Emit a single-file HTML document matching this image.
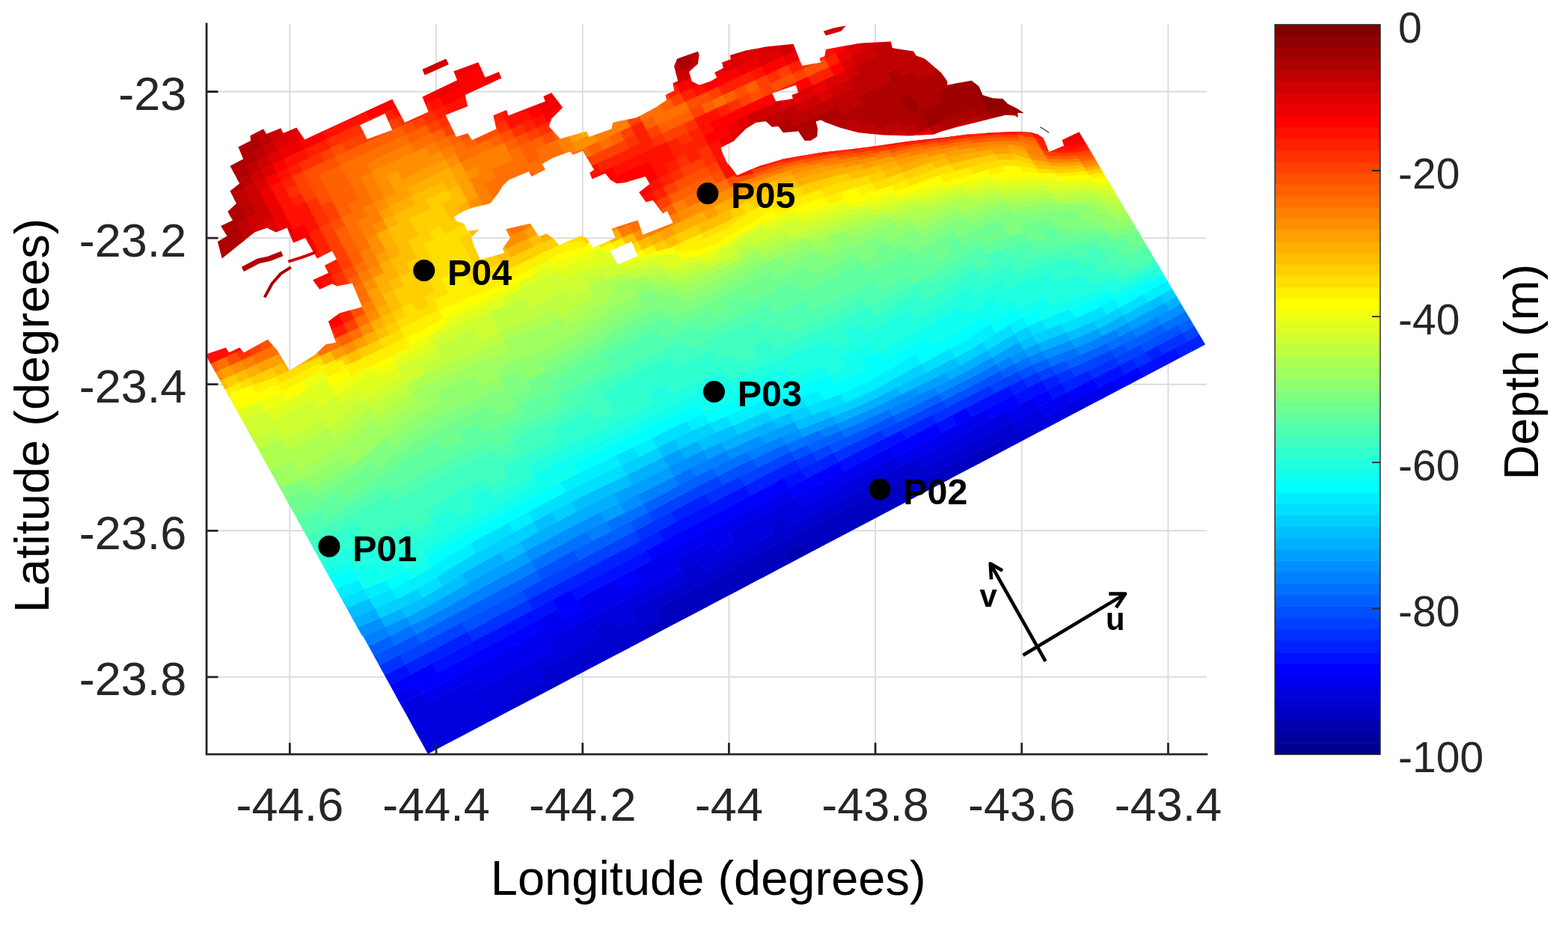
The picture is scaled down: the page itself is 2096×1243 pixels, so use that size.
<!DOCTYPE html>
<html><head><meta charset="utf-8"><title>Bathymetry map</title>
<style>
html,body{margin:0;padding:0;background:#fff;}
body{width:2096px;height:1243px;overflow:hidden;}
svg{display:block;}
text{font-family:"Liberation Sans",sans-serif;}
.tk{font-size:63px;fill:#262626;}
.ck{font-size:57px;fill:#262626;}
.lb{font-size:65px;fill:#000;}
.pt{font-size:48.5px;font-weight:bold;fill:#000;}
.uv{font-size:42px;font-weight:bold;fill:#000;}
</style></head><body>
<svg width="2096" height="1243" viewBox="0 0 2096 1243">
<rect width="2096" height="1243" fill="#fff"/>
<path d="M387.4 32.0V1008.1M583.1 32.0V1008.1M778.8 32.0V1008.1M974.4 32.0V1008.1M1170.1 32.0V1008.1M1365.8 32.0V1008.1M1561.5 32.0V1008.1M276.1 122.5H1613.0M276.1 318.1H1613.0M276.1 513.7H1613.0M276.1 709.3H1613.0M276.1 904.9H1613.0" stroke="#dbdbdb" stroke-width="1.9" fill="none"/>
<defs><clipPath id="wo"><path d="M306.8 526.0L306.8 526.0L312.0 535.5L318.4 547.3L325.5 560.1L332.7 573.2L340.0 586.4L347.2 599.5L354.4 612.7L361.7 625.8L368.9 638.9L376.0 651.8L382.8 664.2L389.3 676.0L395.2 686.8L400.8 696.9L406.3 706.8L411.9 717.0L417.7 727.6L423.9 738.8L430.2 750.2L436.3 761.4L442.7 773.0L449.9 786.0L457.1 799.2L464.3 812.3L471.6 825.4L478.7 838.4L485.7 851.2L492.7 863.8L499.7 876.6L506.8 889.5L514.0 902.6L535.7 942.0L543.0 955.1L550.2 968.3L557.4 981.4L564.7 994.6L571.9 1007.7L571.9 1007.7L571.9 1007.7L600.2 992.8L620.9 981.9L628.2 978.1L632.7 975.7L655.8 963.5L683.1 949.1L710.1 934.9L736.8 920.9L762.4 907.4L763.1 907.0L789.1 893.3L814.9 879.8L840.3 866.4L849.2 861.7L865.4 853.2L890.2 840.1L911.6 828.8L914.7 827.2L938.9 814.4L953.5 806.7L962.8 801.8L986.5 789.4L1009.9 777.1L1033.0 764.9L1051.3 755.3L1055.8 752.9L1061.3 750.0L1078.3 741.0L1100.6 729.3L1122.6 717.7L1144.3 706.3L1165.8 694.9L1187.0 683.8L1208.0 672.7L1228.7 661.8L1249.2 651.0L1269.5 640.4L1272.4 638.8L1289.4 629.8L1292.8 628.1L1309.2 619.4L1328.7 609.2L1338.1 604.2L1348.0 599.0L1367.1 589.0L1378.2 583.1L1385.9 579.0L1404.5 569.2L1422.9 559.6L1441.0 550.0L1459.0 540.6L1474.6 532.4L1476.7 531.2L1484.4 527.2L1494.3 522.0L1511.6 512.9L1528.7 503.9L1545.6 495.0L1562.3 486.2L1578.8 477.5L1595.1 468.9L1611.2 460.4L1611.2 460.4L1611.2 460.4L1442.4 176.4L1442.4 176.4L1442.4 176.4L1426.1 184.2L1419.8 187.3L1419.8 187.3L1419.8 187.3L1422.2 194.5L1422.2 194.6L1422.2 194.6L1422.2 194.6L1422.2 194.6L1422.2 194.7L1422.2 194.7L1422.2 194.7L1422.2 194.8L1422.2 194.8L1422.1 194.8L1422.1 194.8L1422.1 194.9L1422.1 194.9L1422.1 194.9L1422.0 194.9L1413.4 198.5L1402.5 203.0L1402.5 203.1L1402.4 203.1L1402.4 203.1L1402.4 203.1L1402.3 203.1L1402.3 203.1L1402.3 203.1L1402.3 203.0L1402.2 203.0L1402.2 203.0L1402.2 203.0L1402.2 203.0L1402.1 203.0L1402.1 202.9L1402.1 202.9L1402.1 202.9L1397.2 190.6L1397.2 190.6L1393.8 183.9L1393.8 183.9L1393.8 183.9L1387.2 179.7L1387.2 179.7L1387.1 179.7L1379.6 177.6L1377.1 176.9L1377.1 176.9L1377.1 176.9L1360.4 175.9L1360.4 175.9L1357.0 176.0L1335.6 176.9L1326.9 177.2L1326.9 177.2L1314.1 178.2L1293.5 179.7L1293.5 179.7L1260.0 183.9L1260.0 183.9L1250.1 185.0L1228.2 187.4L1214.4 188.9L1214.4 188.9L1206.3 190.1L1184.4 193.2L1162.2 196.4L1155.9 197.3L1155.9 197.3L1139.5 199.2L1116.5 201.8L1097.3 204.0L1097.3 204.0L1093.3 204.7L1070.3 208.5L1047.1 212.4L1047.1 212.4L1047.1 212.4L1047.1 212.4L1047.1 212.4L1047.1 212.4L1025.2 218.9L1013.7 222.4L1013.6 222.4L1003.6 226.7L985.4 234.4L985.4 234.4L985.4 234.4L985.3 234.4L985.3 234.4L985.3 234.4L985.2 234.4L985.2 234.4L985.2 234.4L985.2 234.3L985.1 234.3L985.1 234.3L985.1 234.3L985.1 234.3L978.5 225.7L978.5 225.7L972.1 217.8L972.1 217.8L972.1 217.8L975.3 223.2L979.2 230.0L983.2 236.8L987.0 243.5L991.1 250.6L996.2 259.4L1001.9 269.2L1007.9 279.6L1007.9 279.7L1007.9 279.7L1007.9 279.7L1007.9 279.8L1007.9 279.8L1007.9 279.8L1007.9 279.8L1007.9 279.9L1007.9 279.9L1007.9 279.9L1007.9 280.0L1007.9 280.0L1007.9 280.0L1007.8 280.0L1007.8 280.0L989.0 293.2L989.0 293.2L969.4 305.9L969.3 305.9L948.2 316.7L948.2 316.7L948.2 316.7L924.5 323.5L924.5 323.5L900.2 329.8L900.1 329.8L875.7 336.6L875.7 336.6L852.5 342.0L852.5 342.0L852.5 342.0L852.5 342.0L852.5 342.0L852.5 342.1L852.5 342.1L852.5 342.1L852.5 342.2L852.5 342.2L852.5 342.2L852.5 342.2L852.5 342.3L852.4 342.3L852.4 342.3L852.4 342.3L852.4 342.3L850.8 343.0L827.7 353.1L826.1 353.8L826.1 353.8L826.0 353.8L826.0 353.8L826.0 353.8L826.0 353.8L825.9 353.8L825.9 353.8L825.9 353.8L825.9 353.8L825.8 353.8L825.8 353.8L825.8 353.8L825.8 353.7L825.7 353.7L825.7 353.7L816.0 337.3L816.0 337.2L816.0 337.2L789.2 336.7L789.1 336.7L789.1 336.7L789.1 336.7L789.1 336.6L789.0 336.6L789.0 336.6L789.0 336.6L789.0 336.6L789.0 336.6L788.9 336.5L788.9 336.5L784.7 329.1L780.4 321.5L780.4 321.5L780.3 321.5L753.1 325.6L753.1 325.6L753.1 325.6L753.1 325.6L753.1 325.6L729.0 335.8L729.0 335.8L729.0 335.8L729.0 335.8L705.5 347.7L705.5 347.7L681.8 360.0L681.8 360.0L657.3 370.8L657.2 370.8L657.2 370.8L657.2 370.8L657.2 370.8L657.1 370.8L657.1 370.8L657.1 370.8L657.0 370.8L657.0 370.8L657.0 370.7L657.0 370.7L656.9 370.7L656.9 370.7L656.9 370.7L656.9 370.6L649.9 358.3L649.9 358.3L649.9 358.3L623.8 367.5L623.8 367.5L597.5 377.0L597.5 377.0L597.5 377.0L604.7 389.8L604.7 389.8L604.7 389.8L604.7 389.9L604.7 389.9L604.7 389.9L604.7 390.0L604.7 390.0L604.7 390.0L604.7 390.0L604.7 390.1L604.7 390.1L604.6 390.1L604.6 390.1L604.6 390.2L604.6 390.2L604.6 390.2L604.5 390.2L579.1 401.2L579.0 401.2L579.0 401.2L586.2 414.0L586.2 414.0L586.2 414.0L586.2 414.1L586.2 414.1L586.2 414.1L586.2 414.2L586.2 414.2L586.2 414.2L586.2 414.2L586.2 414.3L586.2 414.3L586.2 414.3L586.2 414.3L586.1 414.4L586.1 414.4L586.1 414.4L586.1 414.4L560.9 426.6L560.8 426.6L535.6 440.2L535.6 440.2L535.6 440.2L542.3 452.2L542.4 452.2L542.4 452.2L542.4 452.3L542.4 452.3L542.4 452.3L542.4 452.3L542.4 452.4L542.4 452.4L542.4 452.4L542.3 452.5L542.3 452.5L542.3 452.5L542.3 452.5L542.3 452.6L542.2 452.6L542.2 452.6L516.5 465.4L516.5 465.4L489.8 477.8L489.8 477.8L463.3 490.6L463.3 490.6L463.3 490.6L463.2 490.6L463.2 490.6L463.2 490.6L463.1 490.6L463.1 490.6L463.1 490.6L463.1 490.6L463.0 490.6L463.0 490.6L463.0 490.6L463.0 490.5L462.9 490.5L462.9 490.5L457.3 480.3L457.3 480.3L457.2 480.3L430.7 493.8L430.7 493.8L430.6 493.8L430.6 493.8L430.6 493.8L430.6 493.8L430.5 493.8L430.5 493.8L430.5 493.8L430.4 493.8L430.4 493.7L430.4 493.7L430.4 493.7L430.3 493.7L430.3 493.7L430.3 493.7L430.3 493.6L425.7 485.4L425.7 485.4L425.7 485.4L398.9 499.7L398.9 499.7L371.4 513.0L371.4 513.1L371.4 513.1L371.4 513.1L371.3 513.1L371.3 513.1L371.3 513.1L371.2 513.1L371.2 513.1L371.2 513.0L371.2 513.0L371.1 513.0L371.1 513.0L371.1 513.0L371.1 512.9L371.1 512.9L366.5 504.6L366.5 504.6L366.4 504.6L336.7 515.1L336.7 515.1L306.8 526.0Z" clip-rule="evenodd"/></clipPath><clipPath id="wb"><path d="M1402.2 203.2L1397.2 190.6L1393.8 183.9L1387.2 179.7L1377.1 176.9L1360.4 175.9L1326.9 177.2L1293.5 179.7L1260.0 183.9L1214.4 188.9L1155.9 197.3L1097.3 204.0L1047.1 212.4L1013.7 222.4L985.2 234.4L978.5 225.7L971.8 217.4L966.8 207.3L963.5 197.3L980.2 188.9L988.6 180.6L996.9 172.2L1010.3 163.8L1023.7 162.2L1032.1 169.7L1040.4 168.9L1047.1 177.2L1067.2 175.6L1070.5 180.6L1075.6 188.1L1083.9 188.1L1092.3 182.2L1093.1 172.2L1090.6 162.2L1097.3 160.5L1104.0 163.8L1122.4 170.5L1147.5 177.2L1181.0 180.6L1214.4 181.4L1247.9 179.7L1260.0 175.2L1276.7 170.5L1310.2 162.2L1343.7 153.8L1357.0 154.6L1360.4 157.2L1360.4 150.8L1368.7 151.3L1360.4 145.4L1347.0 138.7L1340.3 132.1L1326.9 131.2L1313.5 127.0L1308.5 115.3L1298.5 107.8L1280.0 111.1L1266.3 113.7L1266.3 108.6L1257.9 96.9L1247.9 88.6L1236.2 78.5L1224.5 74.3L1221.1 68.5L1192.7 64.3L1191.0 55.4L1152.5 57.6L1130.8 61.0L1104.0 66.0L1102.3 75.2L1095.6 77.7L1097.3 83.5L1072.2 87.7L1068.9 80.2L1060.5 58.8L1023.7 62.6L996.9 67.6L976.0 73.8L976.8 79.4L965.1 83.5L966.8 91.1L955.1 96.9L958.4 103.6L950.0 108.6L934.6 113.7L924.6 108.6L921.2 96.1L932.9 85.2L934.6 73.5L932.9 68.8L905.3 78.5L901.1 88.6L906.2 108.6L899.5 111.1L901.1 121.2L889.4 127.0L891.1 133.7L876.1 143.8L851.0 157.2L819.2 163.8L817.5 172.2L787.4 183.1L784.0 175.6L748.9 185.6L733.8 168.9L737.2 158.8L752.2 143.8L737.2 124.0L726.3 128.7L728.8 135.4L679.5 154.6L677.0 147.1L659.4 154.6L663.6 172.2L631.0 187.3L625.1 178.1L610.0 183.1L595.5 153.8L625.1 142.1L621.7 127.0L670.3 104.5L666.9 96.1L648.5 103.6L639.3 83.2L606.3 95.2L611.3 107.0L564.5 129.5L572.8 149.6L541.0 163.8L524.3 132.4L407.2 186.4L396.3 170.5L378.7 178.1L375.4 171.4L356.2 178.9L352.0 172.2L334.4 181.4L335.2 188.1L318.5 196.5L325.2 212.4L307.6 221.7L320.2 245.2L307.6 255.2L316.0 271.9L304.3 282.8L311.0 294.5L295.1 302.1L303.5 315.4L290.9 323.0L296.8 345.6L340.3 310.4L357.0 304.6L368.7 310.4L383.8 304.6L392.1 324.6L408.0 317.9L423.9 345.6L444.0 335.5L449.9 346.4L434.0 354.8L439.0 364.8L418.1 374.2L427.3 386.7L444.0 379.2L450.7 382.5L470.8 378.4L484.1 410.2L454.0 418.5L439.0 429.4L449.0 457.8L435.6 460.3L420.6 474.6L387.1 495.5L370.4 467.9L357.8 453.7L326.0 471.2L320.2 464.5L306.0 471.2L301.8 464.5L277.5 472.9L276.1 473.8L276.1 476.5L571.9 1007.7L1611.2 460.4L1442.4 176.4L1419.8 187.3L1422.3 194.8ZM680.3 240.2L707.1 229.3L710.4 236.0L728.8 226.8L724.6 219.2L738.9 210.9L762.3 202.5L765.6 206.7L779.0 201.7L794.1 226.8L788.2 231.0L791.6 239.3L809.1 231.8L815.8 240.2L824.2 245.2L834.2 244.3L862.7 236.0L868.5 246.0L854.3 256.9L863.5 270.3L872.7 267.8L886.1 285.3L891.9 282.0L899.5 297.9L859.3 313.8L852.6 294.5L817.5 305.4L822.5 317.9L792.4 331.3L784.0 317.9L775.7 315.4L747.2 328.0L740.5 319.6L730.5 312.1L720.5 316.3L715.4 308.7L708.7 298.7L676.1 306.2L682.0 317.9L671.9 332.2L674.5 338.0L641.8 347.2L633.5 328.8L630.1 317.1L640.2 307.1L625.1 308.7L620.1 298.7L610.0 295.4L606.7 290.3L620.1 282.0L633.5 277.0L655.2 271.9L666.9 256.9L671.9 248.5ZM844.3 323.0L852.6 342.2L825.9 353.9L815.0 335.5ZM1059.7 132.1L1037.1 135.4L1032.1 124.5L1063.8 113.7L1067.2 123.7L1058.8 127.0ZM490.8 185.9L481.1 167.2L514.6 151.8L524.3 173.9ZM336.8 515.5L336.8 515.5L366.3 505.1L370.7 513.1L370.7 513.1L370.7 513.2L370.8 513.2L370.8 513.2L370.8 513.2L370.8 513.3L370.8 513.3L370.9 513.3L370.9 513.3L370.9 513.4L371.0 513.4L371.0 513.4L371.0 513.4L371.1 513.4L371.1 513.4L371.1 513.4L371.2 513.5L371.2 513.5L371.2 513.5L371.3 513.5L371.3 513.5L371.3 513.5L371.4 513.5L371.4 513.5L371.4 513.5L371.5 513.5L371.5 513.4L371.5 513.4L371.6 513.4L371.6 513.4L371.6 513.4L399.1 500.0L399.1 500.0L399.1 500.0L399.1 500.0L425.6 485.9L429.9 493.8L430.0 493.8L430.0 493.9L430.0 493.9L430.0 493.9L430.0 493.9L430.1 494.0L430.1 494.0L430.1 494.0L430.1 494.0L430.2 494.1L430.2 494.1L430.2 494.1L430.2 494.1L430.3 494.1L430.3 494.1L430.3 494.1L430.4 494.2L430.4 494.2L430.4 494.2L430.5 494.2L430.5 494.2L430.5 494.2L430.6 494.2L430.6 494.2L430.6 494.2L430.7 494.2L430.7 494.2L430.7 494.2L430.8 494.2L430.8 494.1L430.8 494.1L430.9 494.1L430.9 494.1L457.1 480.8L462.6 490.7L462.6 490.7L462.6 490.7L462.6 490.8L462.6 490.8L462.7 490.8L462.7 490.8L462.7 490.9L462.7 490.9L462.8 490.9L462.8 490.9L462.8 491.0L462.9 491.0L462.9 491.0L462.9 491.0L463.0 491.0L463.0 491.0L463.0 491.0L463.1 491.0L463.1 491.0L463.1 491.0L463.2 491.0L463.2 491.0L463.2 491.0L463.3 491.0L463.3 491.0L463.3 491.0L463.4 491.0L463.4 491.0L463.4 491.0L463.5 491.0L463.5 491.0L490.0 478.2L490.0 478.2L516.7 465.8L516.7 465.7L516.7 465.7L516.7 465.7L542.4 452.9L542.4 452.9L542.4 452.9L542.5 452.9L542.5 452.9L542.5 452.9L542.5 452.8L542.6 452.8L542.6 452.8L542.6 452.8L542.6 452.7L542.7 452.7L542.7 452.7L542.7 452.6L542.7 452.6L542.7 452.6L542.7 452.5L542.8 452.5L542.8 452.5L542.8 452.4L542.8 452.4L542.8 452.4L542.8 452.3L542.8 452.3L542.8 452.3L542.8 452.2L542.8 452.2L542.8 452.2L542.7 452.1L542.7 452.1L542.7 452.1L542.7 452.0L542.7 452.0L542.7 452.0L536.2 440.3L561.0 427.0L561.0 427.0L586.3 414.8L586.3 414.8L586.3 414.7L586.3 414.7L586.4 414.7L586.4 414.7L586.4 414.7L586.4 414.6L586.5 414.6L586.5 414.6L586.5 414.6L586.5 414.5L586.5 414.5L586.6 414.5L586.6 414.5L586.6 414.4L586.6 414.4L586.6 414.4L586.6 414.3L586.6 414.3L586.6 414.3L586.6 414.2L586.6 414.2L586.6 414.2L586.6 414.1L586.6 414.1L586.6 414.1L586.6 414.0L586.6 414.0L586.6 414.0L586.6 413.9L586.6 413.9L586.6 413.9L586.6 413.8L586.6 413.8L586.6 413.8L579.6 401.4L604.7 390.6L604.7 390.6L604.7 390.6L604.8 390.5L604.8 390.5L604.8 390.5L604.8 390.5L604.9 390.5L604.9 390.4L604.9 390.4L604.9 390.4L605.0 390.4L605.0 390.3L605.0 390.3L605.0 390.3L605.0 390.2L605.0 390.2L605.1 390.2L605.1 390.1L605.1 390.1L605.1 390.1L605.1 390.0L605.1 390.0L605.1 390.0L605.1 389.9L605.1 389.9L605.1 389.9L605.1 389.8L605.1 389.8L605.1 389.8L605.1 389.7L605.1 389.7L605.1 389.7L605.0 389.6L605.0 389.6L605.0 389.6L598.1 377.2L623.9 367.9L623.9 367.9L649.8 358.8L656.5 370.8L656.5 370.8L656.6 370.9L656.6 370.9L656.6 370.9L656.6 371.0L656.6 371.0L656.7 371.0L656.7 371.0L656.7 371.0L656.8 371.1L656.8 371.1L656.8 371.1L656.8 371.1L656.9 371.1L656.9 371.1L656.9 371.2L657.0 371.2L657.0 371.2L657.0 371.2L657.1 371.2L657.1 371.2L657.1 371.2L657.2 371.2L657.2 371.2L657.2 371.2L657.3 371.2L657.3 371.2L657.3 371.2L657.4 371.1L657.4 371.1L657.4 371.1L682.0 360.4L682.0 360.3L682.0 360.3L682.0 360.3L705.7 348.0L705.7 348.0L729.2 336.2L753.2 326.0L780.1 321.9L784.3 329.2L788.6 336.7L788.6 336.7L788.6 336.8L788.6 336.8L788.6 336.8L788.7 336.8L788.7 336.9L788.7 336.9L788.7 336.9L788.8 336.9L788.8 336.9L788.8 337.0L788.8 337.0L788.9 337.0L788.9 337.0L788.9 337.0L789.0 337.0L789.0 337.0L789.0 337.0L789.1 337.1L789.1 337.1L789.1 337.1L789.1 337.1L789.2 337.1L815.8 337.6L825.4 353.9L825.4 353.9L825.4 353.9L825.4 354.0L825.4 354.0L825.5 354.0L825.5 354.0L825.5 354.1L825.5 354.1L825.6 354.1L825.6 354.1L825.6 354.1L825.7 354.2L825.7 354.2L825.7 354.2L825.8 354.2L825.8 354.2L825.8 354.2L825.8 354.2L825.9 354.2L825.9 354.2L826.0 354.2L826.0 354.2L826.0 354.2L826.0 354.2L826.1 354.2L826.1 354.2L826.2 354.2L826.2 354.2L826.2 354.2L826.2 354.2L826.3 354.2L827.8 353.5L851.0 343.4L852.5 342.7L852.5 342.7L852.6 342.7L852.6 342.7L852.6 342.6L852.7 342.6L852.7 342.6L852.7 342.6L852.7 342.5L852.8 342.5L852.8 342.5L852.8 342.5L852.8 342.4L852.8 342.4L852.9 342.4L852.9 342.3L852.9 342.3L875.8 336.9L875.8 336.9L875.8 336.9L875.8 336.9L900.3 330.2L900.3 330.2L924.6 323.9L924.6 323.9L924.6 323.9L924.6 323.9L948.3 317.1L948.3 317.1L948.3 317.1L948.4 317.0L948.4 317.0L948.4 317.0L969.5 306.3L969.5 306.3L969.6 306.3L969.6 306.2L989.3 293.6L989.3 293.6L989.3 293.6L989.3 293.5L1008.0 280.4L1008.1 280.4L1008.1 280.3L1008.1 280.3L1008.1 280.3L1008.2 280.3L1008.2 280.2L1008.2 280.2L1008.2 280.2L1008.2 280.2L1008.3 280.1L1008.3 280.1L1008.3 280.1L1008.3 280.0L1008.3 280.0L1008.3 280.0L1008.3 279.9L1008.3 279.9L1008.3 279.9L1008.3 279.8L1008.3 279.8L1008.3 279.8L1008.3 279.7L1008.3 279.7L1008.3 279.7L1008.3 279.6L1008.3 279.6L1008.3 279.6L1008.3 279.5L1008.3 279.5L1008.2 279.5L1008.2 279.4L1002.2 269.0L996.5 259.2L991.5 250.4L987.4 243.3L983.5 236.6L979.6 229.8L975.6 223.0L975.1 222.2L978.2 226.0L984.8 234.5L984.8 234.5L984.8 234.5L984.8 234.6L984.8 234.6L984.9 234.6L984.9 234.6L984.9 234.7L984.9 234.7L985.0 234.7L985.0 234.7L985.0 234.7L985.1 234.7L985.1 234.8L985.1 234.8L985.2 234.8L985.2 234.8L985.3 234.8L985.3 234.8L985.3 234.8L985.4 234.8L985.4 234.8L985.4 234.8L985.5 234.8L985.5 234.8L985.5 234.7L985.6 234.7L985.6 234.7L1003.8 227.0L1013.8 222.8L1025.3 219.3L1047.2 212.8L1070.4 208.9L1093.3 205.1L1097.4 204.4L1116.5 202.2L1139.6 199.6L1155.9 197.7L1155.9 197.7L1155.9 197.7L1155.9 197.7L1162.3 196.8L1184.5 193.6L1206.4 190.5L1214.5 189.3L1228.3 187.8L1250.1 185.4L1260.0 184.3L1260.0 184.3L1260.0 184.3L1260.1 184.3L1293.5 180.1L1314.2 178.6L1326.9 177.6L1335.6 177.3L1357.0 176.4L1360.4 176.3L1377.0 177.3L1379.5 178.0L1387.0 180.1L1393.5 184.2L1396.8 190.8L1401.7 203.0L1401.7 203.0L1401.7 203.1L1401.8 203.1L1401.8 203.1L1401.8 203.2L1401.8 203.2L1401.8 203.2L1401.9 203.2L1401.9 203.3L1401.9 203.3L1401.9 203.3L1402.0 203.3L1402.0 203.4L1402.0 203.4L1402.1 203.4L1402.1 203.4L1402.1 203.4L1402.1 203.4L1402.2 203.4L1402.2 203.4L1402.3 203.5L1402.3 203.5L1402.3 203.5L1402.4 203.5L1402.4 203.5L1402.4 203.5L1402.5 203.5L1402.5 203.5L1402.5 203.4L1402.6 203.4L1402.6 203.4L1402.6 203.4L1402.6 203.4L1413.6 198.9L1422.2 195.3L1422.2 195.3L1422.2 195.2L1422.3 195.2L1422.3 195.2L1422.3 195.2L1422.3 195.2L1422.4 195.1L1422.4 195.1L1422.4 195.1L1422.4 195.1L1422.5 195.0L1422.5 195.0L1422.5 195.0L1422.5 195.0L1422.5 194.9L1422.6 194.9L1422.6 194.9L1422.6 194.8L1422.6 194.8L1422.6 194.8L1422.6 194.7L1422.6 194.7L1422.6 194.7L1422.6 194.6L1422.6 194.6L1422.6 194.6L1422.6 194.5L1422.6 194.5L1422.6 194.5L1422.6 194.4L1422.6 194.4L1420.3 187.5L1426.3 184.6L1442.2 176.9L1610.6 460.2L1594.9 468.5L1578.6 477.1L1562.1 485.8L1545.4 494.6L1528.5 503.5L1511.4 512.5L1494.1 521.6L1484.3 526.8L1476.5 530.9L1474.4 532.0L1458.8 540.2L1440.9 549.6L1422.7 559.2L1404.3 568.9L1385.7 578.7L1378.0 582.7L1366.9 588.6L1347.8 598.6L1337.9 603.8L1328.5 608.8L1309.0 619.1L1292.6 627.7L1289.3 629.5L1272.2 638.4L1269.3 640.0L1249.0 650.7L1228.6 661.5L1207.8 672.4L1186.9 683.4L1165.6 694.6L1144.1 705.9L1122.4 717.4L1100.4 728.9L1078.1 740.7L1061.1 749.6L1055.6 752.5L1051.1 754.9L1032.8 764.6L1009.7 776.7L986.3 789.0L962.7 801.5L953.3 806.4L938.7 814.1L914.5 826.8L911.4 828.5L890.0 839.7L865.2 852.8L849.0 861.3L840.1 866.0L814.7 879.4L788.9 892.9L762.9 906.7L762.3 907.0L736.6 920.5L709.9 934.6L682.9 948.8L655.6 963.2L632.5 975.3L628.0 977.7L620.7 981.6L600.0 992.4L572.1 1007.2L565.0 994.4L557.8 981.2L550.6 968.1L543.3 954.9L536.1 941.8L514.4 902.4L507.2 889.3L500.1 876.4L493.1 863.7L486.1 851.0L479.1 838.2L471.9 825.2L464.7 812.1L457.5 799.0L450.2 785.9L443.1 772.8L436.6 761.2L430.5 750.0L424.3 738.6L418.1 727.5L412.2 716.8L406.6 706.6L401.2 696.7L395.6 686.6L389.7 675.8L383.1 664.0L376.3 651.6L369.3 638.7L362.0 625.6L354.8 612.5L347.6 599.3L340.3 586.2L333.1 573.0L325.9 559.9L318.8 547.1L312.3 535.3L307.3 526.2Z" clip-rule="evenodd"/></clipPath></defs>
<g clip-path="url(#wb)" stroke-width="0.7" stroke-linejoin="miter">
<path fill="#008fff" stroke="#008fff" d="M482.1 850.9L496.7 844.2L490.6 832.7L476.0 839.4Z"/>
<path fill="#009fff" stroke="#009fff" d="M476.0 839.4L490.6 832.7L484.5 821.3L469.9 828.0Z"/>
<path fill="#00afff" stroke="#00afff" d="M469.9 828.0L484.5 821.3L478.4 809.8L463.8 816.5Z"/>
<path fill="#00cfff" stroke="#00cfff" d="M463.8 816.5L478.4 809.8L472.3 798.3L457.7 805.0Z"/>
<path fill="#00dfff" stroke="#00dfff" d="M457.7 805.0L472.3 798.3L466.2 786.8L451.6 793.5Z"/>
<path fill="#00efff" stroke="#00efff" d="M437.1 800.2L466.2 786.8L460.0 775.3L431.0 788.8Z"/>
<path fill="#00ffff" stroke="#00ffff" d="M431.0 788.8L460.0 775.3L453.9 763.9L424.9 777.3Z"/>
<path fill="#10ffef" stroke="#10ffef" d="M424.9 777.3L453.9 763.9L447.8 752.4L418.8 765.8Z"/>
<path fill="#20ffdf" stroke="#20ffdf" d="M418.8 765.8L447.8 752.4L441.7 740.9L412.7 754.3Z"/>
<path fill="#30ffcf" stroke="#30ffcf" d="M1542.4 361.0L1557.0 354.3L1550.8 342.8L1536.3 349.5ZM412.7 754.3L441.7 740.9L435.6 729.4L406.6 742.9ZM406.6 742.9L435.6 729.4L429.5 718.0L400.5 731.4Z"/>
<path fill="#40ffbf" stroke="#40ffbf" d="M400.5 731.4L429.5 718.0L423.4 706.5L394.4 719.9Z"/>
<path fill="#50ffaf" stroke="#50ffaf" d="M1536.3 349.5L1550.8 342.8L1544.7 331.3L1530.2 338.1ZM394.4 719.9L423.4 706.5L417.3 695.0L388.3 708.4ZM388.3 708.4L402.8 701.7L396.7 690.2L382.2 696.9Z"/>
<path fill="#60ff9f" stroke="#60ff9f" d="M1530.2 338.1L1544.7 331.3L1538.6 319.9L1524.1 326.6ZM402.8 701.7L417.3 695.0L411.2 683.5L396.7 690.2ZM382.2 696.9L396.7 690.2L390.6 678.8L376.1 685.5Z"/>
<path fill="#70ff8f" stroke="#70ff8f" d="M1524.1 326.6L1538.6 319.9L1532.5 308.4L1518.0 315.1ZM396.7 690.2L411.2 683.5L405.1 672.0L390.6 678.8ZM376.1 685.5L405.1 672.0L399.0 660.6L370.0 674.0Z"/>
<path fill="#80ff80" stroke="#80ff80" d="M1518.0 315.1L1532.5 308.4L1526.4 296.9L1511.9 303.6ZM370.0 674.0L399.0 660.6L392.9 649.1L363.9 662.5ZM363.9 662.5L378.4 655.8L372.3 644.3L357.8 651.0Z"/>
<path fill="#8fff70" stroke="#8fff70" d="M378.4 655.8L392.9 649.1L386.8 637.6L372.3 644.3ZM357.8 651.0L372.3 644.3L366.2 632.8L351.7 639.6Z"/>
<path fill="#9fff60" stroke="#9fff60" d="M1511.9 303.6L1526.4 296.9L1520.3 285.4L1505.8 292.1ZM372.3 644.3L386.8 637.6L380.7 626.1L366.2 632.8ZM351.7 639.6L380.7 626.1L374.6 614.6L345.6 628.1Z"/>
<path fill="#afff50" stroke="#afff50" d="M1505.8 292.1L1520.3 285.4L1514.2 273.9L1499.7 280.7ZM345.6 628.1L374.6 614.6L368.5 603.2L339.5 616.6ZM339.5 616.6L368.5 603.2L362.4 591.7L333.3 605.1Z"/>
<path fill="#bfff40" stroke="#bfff40" d="M1499.7 280.7L1514.2 273.9L1508.1 262.5L1493.6 269.2ZM333.3 605.1L362.4 591.7L356.3 580.2L327.2 593.6ZM327.2 593.6L356.3 580.2L350.2 568.7L321.1 582.2Z"/>
<path fill="#cfff30" stroke="#cfff30" d="M1493.6 269.2L1508.1 262.5L1502.0 251.0L1487.5 257.7ZM821.1 365.5L835.6 358.7L829.5 347.3L815.0 354.0ZM321.1 582.2L335.7 575.4L329.6 564.0L315.0 570.7Z"/>
<path fill="#dfff20" stroke="#dfff20" d="M835.6 358.7L850.1 352.0L844.0 340.6L829.5 347.3ZM815.0 354.0L829.5 347.3L823.4 335.8L808.9 342.5ZM315.0 570.7L329.6 564.0L323.5 552.5L308.9 559.2ZM779.8 355.9L808.9 342.5L802.8 331.0L773.7 344.4Z"/>
<path fill="#efff10" stroke="#efff10" d="M1487.5 257.7L1502.0 251.0L1495.9 239.5L1481.4 246.2ZM885.3 350.1L899.8 343.4L893.7 331.9L879.2 338.6ZM308.9 559.2L323.5 552.5L317.4 541.0L302.8 547.7ZM302.8 547.7L317.4 541.0L311.3 529.5L296.7 536.2Z"/>
<path fill="#ffff00" stroke="#ffff00" d="M899.8 343.4L914.3 336.7L908.2 325.2L893.7 331.9ZM850.1 352.0L864.7 345.3L858.5 333.8L844.0 340.6ZM460.3 503.6L474.8 496.9L468.7 485.4L454.2 492.1ZM532.9 470.0L562.0 456.6L555.9 445.1L526.8 458.5ZM808.9 342.5L823.4 335.8L817.3 324.3L802.8 331.0ZM425.1 505.5L439.7 498.8L433.6 487.3L419.0 494.0ZM773.7 344.4L802.8 331.0L796.7 319.5L767.6 333.0Z"/>
<path fill="#ffef00" stroke="#ffef00" d="M914.3 336.7L943.4 323.2L937.3 311.8L908.2 325.2ZM1001.5 296.4L1016.0 289.7L1009.9 278.2L995.4 284.9ZM864.7 345.3L879.2 338.6L873.1 327.1L858.5 333.8ZM474.8 496.9L532.9 470.0L526.8 458.5L468.7 485.4ZM823.4 335.8L837.9 329.1L831.8 317.6L817.3 324.3ZM439.7 498.8L454.2 492.1L448.1 480.6L433.6 487.3ZM541.3 451.8L570.4 438.4L564.3 426.9L535.2 440.3ZM346.4 527.6L375.5 514.2L369.4 502.7L340.3 516.1ZM651.4 386.7L753.1 339.7L747.0 328.2L645.3 375.2ZM296.7 536.2L325.8 522.8L319.7 511.3L290.6 524.8ZM601.7 395.3L616.3 388.6L610.2 377.1L595.6 383.8ZM595.6 383.8L610.2 377.1L604.1 365.6L589.5 372.4Z"/>
<path fill="#ffdf00" stroke="#ffdf00" d="M1481.4 246.2L1495.9 239.5L1489.8 228.0L1475.3 234.7ZM1460.8 241.5L1475.3 234.7L1469.2 223.3L1454.7 230.0ZM943.4 323.2L1001.5 296.4L995.4 284.9L937.3 311.8ZM995.4 284.9L1009.9 278.2L1003.8 266.7L989.3 273.4ZM844.0 340.6L858.5 333.8L852.4 322.4L837.9 329.1ZM512.3 465.2L541.3 451.8L535.2 440.3L506.2 453.8ZM802.8 331.0L817.3 324.3L811.2 312.8L796.7 319.5ZM375.5 514.2L433.6 487.3L427.5 475.8L369.4 502.7ZM535.2 440.3L593.3 413.5L587.2 402.0L529.1 428.9ZM753.1 339.7L782.1 326.3L776.0 314.8L747.0 328.2ZM325.8 522.8L340.3 516.1L334.2 504.6L319.7 511.3ZM543.6 422.2L558.2 415.4L552.1 404.0L537.5 410.7ZM572.7 408.7L601.7 395.3L595.6 383.8L566.6 397.3ZM645.3 375.2L674.4 361.8L668.3 350.3L639.2 363.7ZM581.1 390.5L595.6 383.8L589.5 372.4L575.0 379.1ZM610.2 377.1L653.7 357.0L647.6 345.5L604.1 365.6ZM575.0 379.1L633.1 352.2L627.0 340.7L568.9 367.6ZM583.4 360.9L627.0 340.7L620.9 329.3L577.3 349.4ZM577.3 349.4L620.9 329.3L614.8 317.8L571.2 337.9ZM571.2 337.9L629.3 311.1L623.2 299.6L565.1 326.4ZM579.6 319.7L594.2 313.0L588.1 301.5L573.5 308.3Z"/>
<path fill="#ffcf00" stroke="#ffcf00" d="M879.2 338.6L893.7 331.9L887.6 320.4L873.1 327.1ZM908.2 325.2L937.3 311.8L931.2 300.3L902.1 313.7ZM980.8 291.6L995.4 284.9L989.3 273.4L974.7 280.2ZM454.2 492.1L468.7 485.4L462.6 473.9L448.1 480.6ZM483.2 478.7L512.3 465.2L506.2 453.8L477.1 467.2ZM520.7 447.1L535.2 440.3L529.1 428.9L514.6 435.6ZM782.1 326.3L796.7 319.5L790.6 308.1L776.0 314.8ZM340.3 516.1L369.4 502.7L363.2 491.2L334.2 504.6ZM529.1 428.9L543.6 422.2L537.5 410.7L523.0 417.4ZM558.2 415.4L572.7 408.7L566.6 397.3L552.1 404.0ZM674.4 361.8L761.5 321.5L755.4 310.0L668.3 350.3ZM305.2 518.1L319.7 511.3L313.6 499.9L299.0 506.6ZM537.5 410.7L581.1 390.5L575.0 379.1L531.4 399.2ZM653.7 357.0L668.3 350.3L662.2 338.8L647.6 345.5ZM531.4 399.2L575.0 379.1L568.9 367.6L525.3 387.7ZM633.1 352.2L647.6 345.5L641.5 334.0L627.0 340.7ZM539.9 381.0L583.4 360.9L577.3 349.4L533.8 369.5ZM627.0 340.7L641.5 334.0L635.4 322.6L620.9 329.3ZM548.3 362.8L577.3 349.4L571.2 337.9L542.2 351.3ZM620.9 329.3L635.4 322.6L629.3 311.1L614.8 317.8ZM556.7 344.6L571.2 337.9L565.1 326.4L550.6 333.2ZM550.6 333.2L579.6 319.7L573.5 308.3L544.5 321.7ZM594.2 313.0L623.2 299.6L617.1 288.1L588.1 301.5ZM559.0 315.0L602.6 294.8L596.5 283.3L552.9 303.5ZM552.9 303.5L596.5 283.3L590.4 271.9L546.8 292.0ZM575.9 278.6L604.9 265.2L598.8 253.7L569.8 267.1Z"/>
<path fill="#ffbf00" stroke="#ffbf00" d="M893.7 331.9L908.2 325.2L902.1 313.7L887.6 320.4ZM937.3 311.8L980.8 291.6L974.7 280.2L931.2 300.3ZM858.5 333.8L873.1 327.1L867.0 315.7L852.4 322.4ZM989.3 273.4L1003.8 266.7L997.7 255.3L983.2 262.0ZM837.9 329.1L852.4 322.4L846.3 310.9L831.8 317.6ZM468.7 485.4L483.2 478.7L477.1 467.2L462.6 473.9ZM433.6 487.3L448.1 480.6L442.0 469.1L427.5 475.8ZM506.2 453.8L520.7 447.1L514.6 435.6L500.1 442.3ZM369.4 502.7L383.9 496.0L377.8 484.5L363.2 491.2ZM514.6 435.6L529.1 428.9L523.0 417.4L508.5 424.1ZM761.5 321.5L776.0 314.8L769.9 303.3L755.4 310.0ZM290.6 524.8L305.2 518.1L299.0 506.6L284.5 513.3ZM319.7 511.3L334.2 504.6L328.1 493.2L313.6 499.9ZM523.0 417.4L537.5 410.7L531.4 399.2L516.9 405.9ZM668.3 350.3L682.8 343.6L676.7 332.1L662.2 338.8ZM711.8 330.1L726.4 323.4L720.3 312.0L705.7 318.7ZM516.9 405.9L531.4 399.2L525.3 387.7L510.8 394.4ZM647.6 345.5L662.2 338.8L656.1 327.3L641.5 334.0ZM525.3 387.7L539.9 381.0L533.8 369.5L519.2 376.2ZM533.8 369.5L548.3 362.8L542.2 351.3L527.7 358.1ZM635.4 322.6L650.0 315.8L643.9 304.4L629.3 311.1ZM527.7 358.1L556.7 344.6L550.6 333.2L521.6 346.6ZM629.3 311.1L643.9 304.4L637.7 292.9L623.2 299.6ZM536.1 339.9L550.6 333.2L544.5 321.7L530.0 328.4ZM530.0 328.4L559.0 315.0L552.9 303.5L523.9 316.9ZM602.6 294.8L617.1 288.1L611.0 276.6L596.5 283.3ZM523.9 316.9L552.9 303.5L546.8 292.0L517.8 305.4ZM596.5 283.3L625.5 269.9L619.4 258.4L590.4 271.9ZM532.3 298.7L575.9 278.6L569.8 267.1L526.2 287.2ZM604.9 265.2L619.4 258.4L613.3 247.0L598.8 253.7ZM555.2 273.8L598.8 253.7L592.7 242.2L549.1 262.3Z"/>
<path fill="#ffaf00" stroke="#ffaf00" d="M1475.3 234.7L1489.8 228.0L1483.7 216.6L1469.2 223.3ZM873.1 327.1L887.6 320.4L881.5 308.9L867.0 315.7ZM902.1 313.7L945.7 293.6L939.6 282.1L896.0 302.2ZM960.2 286.9L989.3 273.4L983.2 262.0L954.1 275.4ZM817.3 324.3L831.8 317.6L825.7 306.1L811.2 312.8ZM491.7 460.5L506.2 453.8L500.1 442.3L485.5 449.0ZM383.9 496.0L412.9 482.6L406.8 471.1L377.8 484.5ZM500.1 442.3L514.6 435.6L508.5 424.1L494.0 430.8ZM776.0 314.8L790.6 308.1L784.5 296.6L769.9 303.3ZM334.2 504.6L348.7 497.9L342.6 486.4L328.1 493.2ZM508.5 424.1L523.0 417.4L516.9 405.9L502.4 412.6ZM682.8 343.6L711.8 330.1L705.7 318.7L676.7 332.1ZM726.4 323.4L740.9 316.7L734.8 305.2L720.3 312.0ZM662.2 338.8L676.7 332.1L670.6 320.6L656.1 327.3ZM510.8 394.4L525.3 387.7L519.2 376.2L504.7 383.0ZM504.7 383.0L533.8 369.5L527.7 358.1L498.6 371.5ZM513.1 364.8L527.7 358.1L521.6 346.6L507.0 353.3ZM521.6 346.6L536.1 339.9L530.0 328.4L515.4 335.1ZM515.4 335.1L530.0 328.4L523.9 316.9L509.3 323.6ZM617.1 288.1L631.6 281.4L625.5 269.9L611.0 276.6ZM509.3 323.6L523.9 316.9L517.8 305.4L503.2 312.1ZM517.8 305.4L532.3 298.7L526.2 287.2L511.7 293.9ZM779.2 184.6L793.7 177.9L787.6 166.4L773.1 173.1ZM526.2 287.2L555.2 273.8L549.1 262.3L520.1 275.8ZM598.8 253.7L613.3 247.0L607.2 235.5L592.7 242.2ZM549.1 262.3L607.2 235.5L601.1 224.0L543.0 250.9Z"/>
<path fill="#ff9f00" stroke="#ff9f00" d="M1454.7 230.0L1469.2 223.3L1463.1 211.8L1448.6 218.5ZM887.6 320.4L902.1 313.7L896.0 302.2L881.5 308.9ZM945.7 293.6L960.2 286.9L954.1 275.4L939.6 282.1ZM448.1 480.6L462.6 473.9L456.5 462.4L442.0 469.1ZM477.1 467.2L491.7 460.5L485.5 449.0L471.0 455.7ZM412.9 482.6L427.5 475.8L421.3 464.4L406.8 471.1ZM348.7 497.9L377.8 484.5L371.7 473.0L342.6 486.4ZM299.0 506.6L313.6 499.9L307.5 488.4L292.9 495.1ZM502.4 412.6L516.9 405.9L510.8 394.4L496.3 401.1ZM705.7 318.7L720.3 312.0L714.2 300.5L699.6 307.2ZM496.3 401.1L510.8 394.4L504.7 383.0L490.2 389.7ZM507.0 353.3L521.6 346.6L515.4 335.1L500.9 341.8ZM637.7 292.9L652.3 286.2L646.2 274.7L631.6 281.4ZM625.5 269.9L640.1 263.2L634.0 251.7L619.4 258.4ZM619.4 258.4L634.0 251.7L627.9 240.3L613.3 247.0ZM764.7 191.3L779.2 184.6L773.1 173.1L758.6 179.9ZM511.7 293.9L526.2 287.2L520.1 275.8L505.6 282.5ZM613.3 247.0L627.9 240.3L621.8 228.8L607.2 235.5ZM520.1 275.8L549.1 262.3L543.0 250.9L514.0 264.3ZM607.2 235.5L621.8 228.8L615.7 217.3L601.1 224.0ZM528.5 257.6L601.1 224.0L595.0 212.5L522.4 246.1ZM522.4 246.1L536.9 239.4L530.8 227.9L516.3 234.6Z"/>
<path fill="#ff8f00" stroke="#ff8f00" d="M852.4 322.4L867.0 315.7L860.9 304.2L846.3 310.9ZM910.5 295.5L997.7 255.3L991.6 243.8L904.4 284.0ZM462.6 473.9L477.1 467.2L471.0 455.7L456.5 462.4ZM811.2 312.8L825.7 306.1L819.6 294.6L805.1 301.4ZM485.5 449.0L500.1 442.3L494.0 430.8L479.4 437.5ZM377.8 484.5L392.3 477.8L386.2 466.3L371.7 473.0ZM494.0 430.8L508.5 424.1L502.4 412.6L487.9 419.3ZM284.5 513.3L299.0 506.6L292.9 495.1L278.4 501.8ZM313.6 499.9L328.1 493.2L322.0 481.7L307.5 488.4ZM676.7 332.1L705.7 318.7L699.6 307.2L670.6 320.6ZM490.2 389.7L504.7 383.0L498.6 371.5L484.1 378.2ZM498.6 371.5L513.1 364.8L507.0 353.3L492.5 360.0ZM500.9 341.8L515.4 335.1L509.3 323.6L494.8 330.3ZM631.6 281.4L646.2 274.7L640.1 263.2L625.5 269.9ZM494.8 330.3L509.3 323.6L503.2 312.1L488.7 318.8ZM770.8 202.8L799.8 189.4L793.7 177.9L764.7 191.3ZM503.2 312.1L517.8 305.4L511.7 293.9L497.1 300.7ZM808.3 171.2L822.8 164.5L816.7 153.0L802.2 159.7ZM627.9 240.3L642.4 233.5L636.3 222.1L621.8 228.8ZM505.6 282.5L520.1 275.8L514.0 264.3L499.5 271.0ZM514.0 264.3L528.5 257.6L522.4 246.1L507.9 252.8ZM601.1 224.0L615.7 217.3L609.5 205.8L595.0 212.5ZM507.9 252.8L522.4 246.1L516.3 234.6L501.8 241.3ZM536.9 239.4L595.0 212.5L588.9 201.1L530.8 227.9ZM501.8 241.3L574.4 207.8L568.3 196.3L495.7 229.8Z"/>
<path fill="#ff8000" stroke="#ff8000" d="M1469.2 223.3L1483.7 216.6L1477.6 205.1L1463.1 211.8ZM867.0 315.7L881.5 308.9L875.4 297.5L860.9 304.2ZM896.0 302.2L910.5 295.5L904.4 284.0L889.9 290.8ZM831.8 317.6L846.3 310.9L840.2 299.4L825.7 306.1ZM904.4 284.0L919.0 277.3L912.9 265.9L898.3 272.6ZM328.1 493.2L342.6 486.4L336.5 475.0L322.0 481.7ZM487.9 419.3L502.4 412.6L496.3 401.1L481.8 407.9ZM670.6 320.6L685.1 313.9L679.0 302.4L664.5 309.1ZM699.6 307.2L714.2 300.5L708.1 289.0L693.5 295.7ZM484.1 378.2L498.6 371.5L492.5 360.0L478.0 366.7ZM492.5 360.0L507.0 353.3L500.9 341.8L486.4 348.5ZM652.3 286.2L666.8 279.5L660.7 268.0L646.2 274.7ZM486.4 348.5L500.9 341.8L494.8 330.3L480.3 337.0ZM646.2 274.7L660.7 268.0L654.6 256.5L640.1 263.2ZM640.1 263.2L654.6 256.5L648.5 245.0L634.0 251.7ZM756.3 209.5L770.8 202.8L764.7 191.3L750.2 198.0ZM799.8 189.4L843.4 169.3L837.3 157.8L793.7 177.9ZM488.7 318.8L503.2 312.1L497.1 300.7L482.6 307.4ZM634.0 251.7L663.0 238.3L656.9 226.8L627.9 240.3ZM750.2 198.0L764.7 191.3L758.6 179.9L744.1 186.6ZM822.8 164.5L837.3 157.8L831.2 146.3L816.7 153.0ZM482.6 307.4L511.7 293.9L505.6 282.5L476.5 295.9ZM642.4 233.5L686.0 213.4L679.9 201.9L636.3 222.1ZM491.0 289.2L505.6 282.5L499.5 271.0L484.9 277.7ZM621.8 228.8L679.9 201.9L673.8 190.5L615.7 217.3ZM499.5 271.0L514.0 264.3L507.9 252.8L493.4 259.5ZM493.4 259.5L507.9 252.8L501.8 241.3L487.3 248.0ZM595.0 212.5L609.5 205.8L603.4 194.3L588.9 201.1ZM487.3 248.0L501.8 241.3L495.7 229.8L481.1 236.6ZM574.4 207.8L588.9 201.1L582.8 189.6L568.3 196.3ZM495.7 229.8L553.8 203.0L547.7 191.5L489.6 218.4Z"/>
<path fill="#ff7000" stroke="#ff7000" d="M881.5 308.9L896.0 302.2L889.9 290.8L875.4 297.5ZM846.3 310.9L860.9 304.2L854.8 292.7L840.2 299.4ZM919.0 277.3L977.1 250.5L971.0 239.0L912.9 265.9ZM427.5 475.8L456.5 462.4L450.4 450.9L421.3 464.4ZM471.0 455.7L485.5 449.0L479.4 437.5L464.9 444.2ZM479.4 437.5L494.0 430.8L487.9 419.3L473.3 426.0ZM342.6 486.4L386.2 466.3L380.1 454.8L336.5 475.0ZM292.9 495.1L307.5 488.4L301.4 476.9L286.8 483.6ZM481.8 407.9L496.3 401.1L490.2 389.7L475.7 396.4ZM685.1 313.9L699.6 307.2L693.5 295.7L679.0 302.4ZM475.7 396.4L490.2 389.7L484.1 378.2L469.6 384.9ZM478.0 366.7L492.5 360.0L486.4 348.5L471.9 355.2ZM957.3 145.2L971.8 138.5L965.7 127.0L951.2 133.8ZM660.7 268.0L689.7 254.6L683.6 243.1L654.6 256.5ZM718.8 241.1L733.3 234.4L727.2 222.9L712.7 229.7ZM776.9 214.3L791.4 207.6L785.3 196.1L770.8 202.8ZM805.9 200.9L820.5 194.2L814.4 182.7L799.8 189.4ZM878.6 167.3L922.1 147.2L916.0 135.7L872.5 155.8ZM480.3 337.0L494.8 330.3L488.7 318.8L474.2 325.6ZM654.6 256.5L756.3 209.5L750.2 198.0L648.5 245.0ZM857.9 162.5L887.0 149.1L880.9 137.6L851.8 151.1ZM474.2 325.6L488.7 318.8L482.6 307.4L468.1 314.1ZM663.0 238.3L706.6 218.2L700.5 206.7L656.9 226.8ZM721.1 211.5L750.2 198.0L744.1 186.6L715.0 200.0ZM468.1 314.1L482.6 307.4L476.5 295.9L462.0 302.6ZM686.0 213.4L700.5 206.7L694.4 195.2L679.9 201.9ZM462.0 302.6L491.0 289.2L484.9 277.7L455.9 291.1ZM470.4 284.4L499.5 271.0L493.4 259.5L464.3 272.9ZM615.7 217.3L659.2 197.2L653.1 185.7L609.5 205.8ZM478.8 266.2L493.4 259.5L487.3 248.0L472.7 254.7ZM609.5 205.8L624.1 199.1L618.0 187.6L603.4 194.3ZM472.7 254.7L487.3 248.0L481.1 236.6L466.6 243.3ZM588.9 201.1L603.4 194.3L597.3 182.9L582.8 189.6ZM466.6 243.3L495.7 229.8L489.6 218.4L460.5 231.8ZM553.8 203.0L582.8 189.6L576.7 178.1L547.7 191.5ZM460.5 231.8L547.7 191.5L541.6 180.0L454.4 220.3Z"/>
<path fill="#ff6000" stroke="#ff6000" d="M1392.8 215.7L1407.3 209.0L1401.2 197.5L1386.7 204.2ZM1345.4 194.7L1359.9 188.0L1353.8 176.5L1339.3 183.2ZM1310.3 196.6L1324.8 189.9L1318.7 178.4L1304.2 185.1ZM1105.5 219.8L1120.0 213.0L1113.9 201.6L1099.4 208.3ZM1055.8 228.4L1070.3 221.7L1064.2 210.2L1049.7 216.9ZM889.9 290.8L904.4 284.0L898.3 272.6L883.8 279.3ZM825.7 306.1L840.2 299.4L834.1 287.9L819.6 294.6ZM898.3 272.6L956.4 245.7L950.3 234.2L892.2 261.1ZM456.5 462.4L471.0 455.7L464.9 444.2L450.4 450.9ZM278.4 501.8L292.9 495.1L286.8 483.6L272.3 490.3ZM469.6 384.9L484.1 378.2L478.0 366.7L463.5 373.4ZM884.7 178.8L928.2 158.7L922.1 147.2L878.6 167.3ZM942.8 151.9L957.3 145.2L951.2 133.8L936.7 140.5ZM971.8 138.5L986.3 131.8L980.2 120.3L965.7 127.0ZM1000.9 125.1L1015.4 118.4L1009.3 106.9L994.8 113.6ZM471.9 355.2L486.4 348.5L480.3 337.0L465.8 343.8ZM704.3 247.8L718.8 241.1L712.7 229.7L698.2 236.4ZM733.3 234.4L747.8 227.7L741.7 216.2L727.2 222.9ZM762.4 221.0L776.9 214.3L770.8 202.8L756.3 209.5ZM791.4 207.6L805.9 200.9L799.8 189.4L785.3 196.1ZM820.5 194.2L835.0 187.4L828.9 176.0L814.4 182.7ZM864.0 174.0L878.6 167.3L872.5 155.8L857.9 162.5ZM465.8 343.8L480.3 337.0L474.2 325.6L459.7 332.3ZM887.0 149.1L901.5 142.4L895.4 130.9L880.9 137.6ZM459.7 332.3L474.2 325.6L468.1 314.1L453.6 320.8ZM706.6 218.2L721.1 211.5L715.0 200.0L700.5 206.7ZM453.6 320.8L468.1 314.1L462.0 302.6L447.5 309.3ZM700.5 206.7L729.5 193.3L723.4 181.8L694.4 195.2ZM744.1 186.6L758.6 179.9L752.5 168.4L738.0 175.1ZM679.9 201.9L694.4 195.2L688.3 183.7L673.8 190.5ZM455.9 291.1L470.4 284.4L464.3 272.9L449.8 279.6ZM659.2 197.2L673.8 190.5L667.6 179.0L653.1 185.7ZM449.8 279.6L478.8 266.2L472.7 254.7L443.7 268.2ZM624.1 199.1L638.6 192.4L632.5 180.9L618.0 187.6ZM443.7 268.2L472.7 254.7L466.6 243.3L437.6 256.7ZM603.4 194.3L618.0 187.6L611.9 176.2L597.3 182.9ZM437.6 256.7L466.6 243.3L460.5 231.8L431.5 245.2ZM582.8 189.6L597.3 182.9L591.2 171.4L576.7 178.1ZM431.5 245.2L460.5 231.8L454.4 220.3L425.4 233.7ZM547.7 191.5L576.7 178.1L570.6 166.6L541.6 180.0ZM454.4 220.3L541.6 180.0L535.5 168.6L448.3 208.8Z"/>
<path fill="#ff5000" stroke="#ff5000" d="M1448.6 218.5L1463.1 211.8L1457.0 200.3L1442.5 207.0ZM1275.1 198.6L1289.6 191.8L1283.5 180.4L1269.0 187.1ZM1240.0 200.5L1254.5 193.8L1248.4 182.3L1233.9 189.0ZM1190.3 209.2L1204.8 202.4L1198.7 191.0L1184.2 197.7ZM977.1 250.5L991.6 243.8L985.5 232.3L971.0 239.0ZM840.2 299.4L854.8 292.7L848.7 281.2L834.1 287.9ZM956.4 245.7L971.0 239.0L964.9 227.5L950.3 234.2ZM906.8 254.4L950.3 234.2L944.2 222.8L900.7 242.9ZM473.3 426.0L487.9 419.3L481.8 407.9L467.2 414.6ZM307.5 488.4L322.0 481.7L315.9 470.2L301.4 476.9ZM351.0 468.3L365.6 461.5L359.5 450.1L344.9 456.8ZM1007.0 136.6L1021.5 129.9L1015.4 118.4L1000.9 125.1ZM1036.0 123.2L1065.1 109.7L1059.0 98.3L1029.9 111.7ZM1079.6 103.0L1108.6 89.6L1102.5 78.1L1073.5 91.5ZM463.5 373.4L478.0 366.7L471.9 355.2L457.4 361.9ZM986.3 131.8L1000.9 125.1L994.8 113.6L980.2 120.3ZM922.1 147.2L951.2 133.8L945.1 122.3L916.0 135.7ZM729.5 193.3L744.1 186.6L738.0 175.1L723.4 181.8ZM447.5 309.3L462.0 302.6L455.9 291.1L441.4 297.8ZM694.4 195.2L708.9 188.5L702.8 177.0L688.3 183.7ZM673.8 190.5L688.3 183.7L682.2 172.3L667.6 179.0ZM638.6 192.4L667.6 179.0L661.5 167.5L632.5 180.9ZM429.2 274.9L443.7 268.2L437.6 256.7L423.1 263.4ZM618.0 187.6L632.5 180.9L626.4 169.4L611.9 176.2ZM423.1 263.4L437.6 256.7L431.5 245.2L416.9 251.9ZM416.9 251.9L431.5 245.2L425.4 233.7L410.8 240.4ZM410.8 240.4L454.4 220.3L448.3 208.8L404.7 229.0ZM541.6 180.0L556.1 173.3L550.0 161.9L535.5 168.6ZM448.3 208.8L462.8 202.1L456.7 190.6L442.2 197.4Z"/>
<path fill="#ff4000" stroke="#ff4000" d="M1463.1 211.8L1477.6 205.1L1471.5 193.6L1457.0 200.3ZM1386.7 204.2L1401.2 197.5L1395.1 186.0L1380.6 192.7ZM1155.1 211.1L1169.7 204.4L1163.6 192.9L1149.0 199.6ZM1070.3 221.7L1084.8 215.0L1078.7 203.5L1064.2 210.2ZM875.4 297.5L889.9 290.8L883.8 279.3L869.3 286.0ZM991.6 243.8L1020.6 230.4L1014.5 218.9L985.5 232.3ZM883.8 279.3L898.3 272.6L892.2 261.1L877.7 267.8ZM892.2 261.1L906.8 254.4L900.7 242.9L886.1 249.6ZM950.3 234.2L964.9 227.5L958.8 216.1L944.2 222.8ZM464.9 444.2L479.4 437.5L473.3 426.0L458.8 432.8ZM915.2 236.2L944.2 222.8L938.1 211.3L909.1 224.7ZM336.5 475.0L351.0 468.3L344.9 456.8L330.4 463.5ZM365.6 461.5L380.1 454.8L374.0 443.4L359.5 450.1ZM467.2 414.6L481.8 407.9L475.7 396.4L461.1 403.1ZM890.8 190.3L919.8 176.8L913.7 165.4L884.7 178.8ZM992.4 143.3L1007.0 136.6L1000.9 125.1L986.3 131.8ZM1021.5 129.9L1036.0 123.2L1029.9 111.7L1015.4 118.4ZM1065.1 109.7L1079.6 103.0L1073.5 91.5L1059.0 98.3ZM783.0 225.8L841.1 198.9L835.0 187.4L776.9 214.3ZM870.1 185.5L884.7 178.8L878.6 167.3L864.0 174.0ZM928.2 158.7L942.8 151.9L936.7 140.5L922.1 147.2ZM1015.4 118.4L1029.9 111.7L1023.8 100.2L1009.3 106.9ZM1044.4 105.0L1059.0 98.3L1052.9 86.8L1038.3 93.5ZM457.4 361.9L471.9 355.2L465.8 343.8L451.2 350.5ZM835.0 187.4L849.5 180.7L843.4 169.3L828.9 176.0ZM951.2 133.8L965.7 127.0L959.6 115.6L945.1 122.3ZM451.2 350.5L465.8 343.8L459.7 332.3L445.1 339.0ZM843.4 169.3L857.9 162.5L851.8 151.1L837.3 157.8ZM901.5 142.4L916.0 135.7L909.9 124.2L895.4 130.9ZM445.1 339.0L459.7 332.3L453.6 320.8L439.0 327.5ZM880.9 137.6L895.4 130.9L889.3 119.5L874.8 126.2ZM439.0 327.5L453.6 320.8L447.5 309.3L432.9 316.0ZM432.9 316.0L447.5 309.3L441.4 297.8L426.8 304.5ZM708.9 188.5L723.4 181.8L717.3 170.3L702.8 177.0ZM441.4 297.8L455.9 291.1L449.8 279.6L435.3 286.4ZM435.3 286.4L449.8 279.6L443.7 268.2L429.2 274.9ZM408.5 270.1L423.1 263.4L416.9 251.9L402.4 258.6ZM597.3 182.9L611.9 176.2L605.8 164.7L591.2 171.4ZM402.4 258.6L416.9 251.9L410.8 240.4L396.3 247.2ZM576.7 178.1L591.2 171.4L585.1 159.9L570.6 166.6ZM396.3 247.2L410.8 240.4L404.7 229.0L390.2 235.7ZM556.1 173.3L570.6 166.6L564.5 155.1L550.0 161.9ZM433.8 215.5L448.3 208.8L442.2 197.4L427.7 204.1ZM462.8 202.1L535.5 168.6L529.4 157.1L456.7 190.6Z"/>
<path fill="#ff3000" stroke="#ff3000" d="M1380.6 192.7L1395.1 186.0L1389.0 174.5L1374.5 181.2ZM1324.8 189.9L1339.3 183.2L1333.2 171.7L1318.7 178.4ZM1289.6 191.8L1304.2 185.1L1298.1 173.7L1283.5 180.4ZM1120.0 213.0L1134.5 206.3L1128.4 194.9L1113.9 201.6ZM1020.6 230.4L1035.2 223.6L1029.1 212.2L1014.5 218.9ZM869.3 286.0L883.8 279.3L877.7 267.8L863.2 274.5ZM435.9 457.7L450.4 450.9L444.3 439.5L429.8 446.2ZM900.7 242.9L915.2 236.2L909.1 224.7L894.6 231.4ZM944.2 222.8L958.8 216.1L952.6 204.6L938.1 211.3ZM909.1 224.7L923.6 218.0L917.5 206.5L903.0 213.2ZM938.1 211.3L952.6 204.6L946.5 193.1L932.0 199.8ZM322.0 481.7L336.5 475.0L330.4 463.5L315.9 470.2ZM911.4 195.0L925.9 188.3L919.8 176.8L905.3 183.6ZM455.0 391.6L469.6 384.9L463.5 373.4L448.9 380.1ZM876.2 197.0L890.8 190.3L884.7 178.8L870.1 185.5ZM919.8 176.8L934.3 170.1L928.2 158.7L913.7 165.4ZM977.9 150.0L992.4 143.3L986.3 131.8L971.8 138.5ZM448.9 380.1L463.5 373.4L457.4 361.9L442.8 368.7ZM841.1 198.9L855.6 192.2L849.5 180.7L835.0 187.4ZM1029.9 111.7L1044.4 105.0L1038.3 93.5L1023.8 100.2ZM1073.5 91.5L1088.0 84.8L1081.9 73.4L1067.4 80.1ZM723.4 181.8L752.5 168.4L746.4 156.9L717.3 170.3ZM426.8 304.5L441.4 297.8L435.3 286.4L420.7 293.1ZM688.3 183.7L702.8 177.0L696.7 165.6L682.2 172.3ZM420.7 293.1L435.3 286.4L429.2 274.9L414.6 281.6ZM667.6 179.0L682.2 172.3L676.1 160.8L661.5 167.5ZM414.6 281.6L429.2 274.9L423.1 263.4L408.5 270.1ZM387.9 265.3L402.4 258.6L396.3 247.2L381.8 253.9ZM591.2 171.4L605.8 164.7L599.7 153.2L585.1 159.9ZM570.6 166.6L585.1 159.9L579.0 148.4L564.5 155.1ZM404.7 229.0L433.8 215.5L427.7 204.1L398.6 217.5ZM535.5 168.6L550.0 161.9L543.9 150.4L529.4 157.1ZM442.2 197.4L485.8 177.2L479.7 165.7L436.1 185.9Z"/>
<path fill="#ff2000" stroke="#ff2000" d="M1442.5 207.0L1457.0 200.3L1450.9 188.8L1436.4 195.5ZM1407.3 209.0L1421.8 202.3L1415.7 190.8L1401.2 197.5ZM1359.9 188.0L1374.5 181.2L1368.4 169.8L1353.8 176.5ZM1204.8 202.4L1219.3 195.7L1213.2 184.3L1198.7 191.0ZM877.7 267.8L892.2 261.1L886.1 249.6L871.6 256.3ZM450.4 450.9L464.9 444.2L458.8 432.8L444.3 439.5ZM886.1 249.6L900.7 242.9L894.6 231.4L880.0 238.1ZM458.8 432.8L473.3 426.0L467.2 414.6L452.7 421.3ZM894.6 231.4L909.1 224.7L903.0 213.2L888.4 219.9ZM923.6 218.0L938.1 211.3L932.0 199.8L917.5 206.5ZM903.0 213.2L946.5 193.1L940.4 181.6L896.9 201.7ZM896.9 201.7L911.4 195.0L905.3 183.6L890.8 190.3ZM925.9 188.3L940.4 181.6L934.3 170.1L919.8 176.8ZM1085.7 114.5L1114.7 101.1L1108.6 89.6L1079.6 103.0ZM803.6 230.5L876.2 197.0L870.1 185.5L797.5 219.1ZM963.4 156.7L977.9 150.0L971.8 138.5L957.3 145.2ZM1108.6 89.6L1123.2 82.9L1117.1 71.4L1102.5 78.1ZM855.6 192.2L870.1 185.5L864.0 174.0L849.5 180.7ZM1059.0 98.3L1073.5 91.5L1067.4 80.1L1052.9 86.8ZM1088.0 84.8L1102.5 78.1L1096.4 66.6L1081.9 73.4ZM442.8 368.7L457.4 361.9L451.2 350.5L436.7 357.2ZM849.5 180.7L864.0 174.0L857.9 162.5L843.4 169.3ZM965.7 127.0L1009.3 106.9L1003.2 95.4L959.6 115.6ZM436.7 357.2L451.2 350.5L445.1 339.0L430.6 345.7ZM916.0 135.7L930.6 129.0L924.5 117.5L909.9 124.2ZM430.6 345.7L445.1 339.0L439.0 327.5L424.5 334.2ZM895.4 130.9L909.9 124.2L903.8 112.7L889.3 119.5ZM424.5 334.2L439.0 327.5L432.9 316.0L418.4 322.7ZM418.4 322.7L432.9 316.0L426.8 304.5L412.3 311.3ZM702.8 177.0L717.3 170.3L711.2 158.8L696.7 165.6ZM661.5 167.5L676.1 160.8L670.0 149.3L655.4 156.0ZM394.0 276.8L408.5 270.1L402.4 258.6L387.9 265.3ZM605.8 164.7L634.8 151.3L628.7 139.8L599.7 153.2ZM381.8 253.9L396.3 247.2L390.2 235.7L375.7 242.4ZM585.1 159.9L599.7 153.2L593.6 141.7L579.0 148.4ZM390.2 235.7L404.7 229.0L398.6 217.5L384.1 224.2ZM550.0 161.9L579.0 148.4L572.9 137.0L543.9 150.4ZM413.2 210.8L442.2 197.4L436.1 185.9L407.1 199.3ZM485.8 177.2L529.4 157.1L523.3 145.6L479.7 165.7Z"/>
<path fill="#ff1000" stroke="#ff1000" d="M1457.0 200.3L1471.5 193.6L1465.4 182.1L1450.9 188.8ZM1254.5 193.8L1269.0 187.1L1262.9 175.6L1248.4 182.3ZM1169.7 204.4L1184.2 197.7L1178.1 186.2L1163.6 192.9ZM1084.8 215.0L1099.4 208.3L1093.3 196.8L1078.7 203.5ZM1035.2 223.6L1049.7 216.9L1043.6 205.5L1029.1 212.2ZM971.0 239.0L985.5 232.3L979.4 220.8L964.9 227.5ZM863.2 274.5L877.7 267.8L871.6 256.3L857.1 263.0ZM964.9 227.5L979.4 220.8L973.3 209.3L958.8 216.1ZM842.6 269.7L857.1 263.0L851.0 251.6L836.5 258.3ZM871.6 256.3L886.1 249.6L880.0 238.1L865.5 244.8ZM958.8 216.1L973.3 209.3L967.2 197.9L952.6 204.6ZM429.8 446.2L444.3 439.5L438.2 428.0L423.7 434.7ZM880.0 238.1L894.6 231.4L888.4 219.9L873.9 226.6ZM952.6 204.6L967.2 197.9L961.1 186.4L946.5 193.1ZM452.7 421.3L467.2 414.6L461.1 403.1L446.6 409.8ZM873.9 226.6L903.0 213.2L896.9 201.7L867.8 215.2ZM272.3 490.3L315.9 470.2L309.8 458.7L266.2 478.9ZM824.2 235.3L896.9 201.7L890.8 190.3L818.1 223.8ZM940.4 181.6L955.0 174.9L948.9 163.4L934.3 170.1ZM1056.6 127.9L1071.2 121.2L1065.1 109.7L1050.5 116.4ZM440.5 398.3L455.0 391.6L448.9 380.1L434.4 386.8ZM789.1 237.2L803.6 230.5L797.5 219.1L783.0 225.8ZM934.3 170.1L963.4 156.7L957.3 145.2L928.2 158.7ZM434.4 386.8L448.9 380.1L442.8 368.7L428.3 375.4ZM1102.5 78.1L1117.1 71.4L1111.0 59.9L1096.4 66.6ZM1009.3 106.9L1023.8 100.2L1017.7 88.7L1003.2 95.4ZM930.6 129.0L945.1 122.3L939.0 110.8L924.5 117.5ZM416.1 352.4L430.6 345.7L424.5 334.2L410.0 340.9ZM412.3 311.3L426.8 304.5L420.7 293.1L406.2 299.8ZM717.3 170.3L731.8 163.6L725.7 152.1L711.2 158.8ZM391.7 306.5L420.7 293.1L414.6 281.6L385.6 295.0ZM682.2 172.3L711.2 158.8L705.1 147.4L676.1 160.8ZM385.6 295.0L414.6 281.6L408.5 270.1L379.5 283.5ZM676.1 160.8L690.6 154.1L684.5 142.6L670.0 149.3ZM379.5 283.5L394.0 276.8L387.9 265.3L373.4 272.1ZM655.4 156.0L670.0 149.3L663.9 137.8L649.3 144.5ZM373.4 272.1L387.9 265.3L381.8 253.9L367.3 260.6ZM367.3 260.6L381.8 253.9L375.7 242.4L361.2 249.1ZM599.7 153.2L643.2 133.1L637.1 121.6L593.6 141.7ZM375.7 242.4L390.2 235.7L384.1 224.2L369.6 230.9ZM579.0 148.4L593.6 141.7L587.5 130.2L572.9 137.0ZM384.1 224.2L413.2 210.8L407.1 199.3L378.0 212.7ZM529.4 157.1L543.9 150.4L537.8 138.9L523.3 145.6ZM436.1 185.9L494.2 159.0L488.1 147.6L430.0 174.4Z"/>
<path fill="#ff0000" stroke="#ff0000" d="M1421.8 202.3L1450.9 188.8L1444.8 177.4L1415.7 190.8ZM1401.2 197.5L1415.7 190.8L1409.6 179.3L1395.1 186.0ZM1219.3 195.7L1233.9 189.0L1227.8 177.5L1213.2 184.3ZM1134.5 206.3L1149.0 199.6L1142.9 188.1L1128.4 194.9ZM857.1 263.0L871.6 256.3L865.5 244.8L851.0 251.6ZM444.3 439.5L458.8 432.8L452.7 421.3L438.2 428.0ZM836.5 258.3L880.0 238.1L873.9 226.6L830.4 246.8ZM438.2 428.0L452.7 421.3L446.6 409.8L432.1 416.5ZM815.8 253.5L873.9 226.6L867.8 215.2L809.7 242.0ZM946.5 193.1L975.6 179.7L969.5 168.2L940.4 181.6ZM315.9 470.2L330.4 463.5L324.3 452.0L309.8 458.7ZM795.2 248.7L824.2 235.3L818.1 223.8L789.1 237.2ZM955.0 174.9L1056.6 127.9L1050.5 116.4L948.9 163.4ZM1071.2 121.2L1085.7 114.5L1079.6 103.0L1065.1 109.7ZM1114.7 101.1L1129.3 94.4L1123.2 82.9L1108.6 89.6ZM419.9 393.6L434.4 386.8L428.3 375.4L413.8 382.1ZM1117.1 71.4L1131.6 64.7L1125.5 53.2L1111.0 59.9ZM413.8 382.1L442.8 368.7L436.7 357.2L407.7 370.6ZM1023.8 100.2L1052.9 86.8L1046.7 75.3L1017.7 88.7ZM422.2 363.9L436.7 357.2L430.6 345.7L416.1 352.4ZM945.1 122.3L988.7 102.1L982.5 90.7L939.0 110.8ZM909.9 124.2L924.5 117.5L918.3 106.0L903.8 112.7ZM410.0 340.9L424.5 334.2L418.4 322.7L403.9 329.4ZM889.3 119.5L903.8 112.7L897.7 101.3L883.2 108.0ZM403.9 329.4L418.4 322.7L412.3 311.3L397.8 318.0ZM397.8 318.0L412.3 311.3L406.2 299.8L391.7 306.5ZM731.8 163.6L760.9 150.2L754.8 138.7L725.7 152.1ZM711.2 158.8L725.7 152.1L719.6 140.7L705.1 147.4ZM690.6 154.1L705.1 147.4L699.0 135.9L684.5 142.6ZM670.0 149.3L684.5 142.6L678.4 131.1L663.9 137.8ZM361.2 249.1L375.7 242.4L369.6 230.9L355.1 237.6ZM593.6 141.7L651.7 114.9L645.6 103.4L587.5 130.2ZM369.6 230.9L384.1 224.2L378.0 212.7L363.5 219.4ZM558.4 143.7L587.5 130.2L581.4 118.8L552.3 132.2ZM616.5 116.8L645.6 103.4L639.5 91.9L610.4 105.3ZM407.1 199.3L436.1 185.9L430.0 174.4L401.0 187.8ZM494.2 159.0L537.8 138.9L531.7 127.4L488.1 147.6Z"/>
<path fill="#ef0000" stroke="#ef0000" d="M1415.7 190.8L1430.3 184.1L1424.1 172.6L1409.6 179.3ZM1395.1 186.0L1409.6 179.3L1403.5 167.8L1389.0 174.5ZM1374.5 181.2L1389.0 174.5L1382.9 163.1L1368.4 169.8ZM1339.3 183.2L1353.8 176.5L1347.7 165.0L1333.2 171.7ZM1304.2 185.1L1318.7 178.4L1312.6 166.9L1298.1 173.7ZM1269.0 187.1L1283.5 180.4L1277.4 168.9L1262.9 175.6ZM1184.2 197.7L1198.7 191.0L1192.6 179.5L1178.1 186.2ZM1099.4 208.3L1113.9 201.6L1107.8 190.1L1093.3 196.8ZM1049.7 216.9L1064.2 210.2L1058.1 198.7L1043.6 205.5ZM967.2 197.9L981.7 191.1L975.6 179.7L961.1 186.4ZM975.6 179.7L990.1 173.0L984.0 161.5L969.5 168.2ZM1091.8 126.0L1106.3 119.3L1100.2 107.8L1085.7 114.5ZM266.2 478.9L280.7 472.1L274.6 460.7L260.1 467.4ZM1123.2 82.9L1137.7 76.2L1131.6 64.7L1117.1 71.4ZM1052.9 86.8L1067.4 80.1L1061.3 68.6L1046.7 75.3ZM988.7 102.1L1017.7 88.7L1011.6 77.2L982.5 90.7ZM924.5 117.5L939.0 110.8L932.9 99.3L918.3 106.0ZM953.5 104.1L968.0 97.4L961.9 85.9L947.4 92.6ZM389.4 336.2L403.9 329.4L397.8 318.0L383.3 324.7ZM383.3 324.7L397.8 318.0L391.7 306.5L377.2 313.2ZM377.2 313.2L391.7 306.5L385.6 295.0L371.1 301.7ZM725.7 152.1L754.8 138.7L748.7 127.2L719.6 140.7ZM371.1 301.7L385.6 295.0L379.5 283.5L365.0 290.2ZM705.1 147.4L748.7 127.2L742.6 115.8L699.0 135.9ZM365.0 290.2L379.5 283.5L373.4 272.1L358.8 278.8ZM358.8 278.8L373.4 272.1L367.3 260.6L352.7 267.3ZM352.7 267.3L367.3 260.6L361.2 249.1L346.6 255.8ZM651.7 114.9L680.7 101.5L674.6 90.0L645.6 103.4ZM587.5 130.2L616.5 116.8L610.4 105.3L581.4 118.8ZM645.6 103.4L660.1 96.7L654.0 85.2L639.5 91.9ZM378.0 212.7L407.1 199.3L401.0 187.8L371.9 201.2ZM610.4 105.3L654.0 85.2L647.9 73.7L604.3 93.9ZM401.0 187.8L415.5 181.1L409.4 169.6L394.9 176.3Z"/>
<path fill="#df0000" stroke="#df0000" d="M1430.3 184.1L1444.8 177.4L1438.7 165.9L1424.1 172.6ZM1233.9 189.0L1248.4 182.3L1242.3 170.8L1227.8 177.5ZM1149.0 199.6L1163.6 192.9L1157.5 181.4L1142.9 188.1ZM1113.9 201.6L1128.4 194.9L1122.3 183.4L1107.8 190.1ZM1064.2 210.2L1078.7 203.5L1072.6 192.0L1058.1 198.7ZM981.7 191.1L996.2 184.4L990.1 173.0L975.6 179.7ZM1097.9 137.5L1112.4 130.7L1106.3 119.3L1091.8 126.0ZM990.1 173.0L1004.6 166.2L998.5 154.8L984.0 161.5ZM1048.2 146.1L1091.8 126.0L1085.7 114.5L1042.1 134.6ZM1106.3 119.3L1135.4 105.8L1129.3 94.4L1100.2 107.8ZM1129.3 94.4L1143.8 87.7L1137.7 76.2L1123.2 82.9ZM280.7 472.1L295.3 465.4L289.2 454.0L274.6 460.7ZM1137.7 76.2L1152.2 69.5L1146.1 58.0L1131.6 64.7ZM1131.6 64.7L1160.6 51.3L1154.5 39.8L1125.5 53.2ZM1067.4 80.1L1081.9 73.4L1075.8 61.9L1061.3 68.6ZM1017.7 88.7L1046.7 75.3L1040.6 63.8L1011.6 77.2ZM968.0 97.4L1026.1 70.5L1020.0 59.1L961.9 85.9ZM362.6 319.9L377.2 313.2L371.1 301.7L356.5 308.4ZM356.5 308.4L371.1 301.7L365.0 290.2L350.4 297.0ZM346.6 255.8L361.2 249.1L355.1 237.6L340.5 244.3ZM355.1 237.6L369.6 230.9L363.5 219.4L349.0 226.1ZM363.5 219.4L378.0 212.7L371.9 201.2L357.4 208.0ZM595.9 112.1L610.4 105.3L604.3 93.9L589.8 100.6ZM371.9 201.2L401.0 187.8L394.9 176.3L365.8 189.8ZM380.3 183.1L409.4 169.6L403.3 158.2L374.2 171.6Z"/>
<path fill="#cf0000" stroke="#cf0000" d="M1353.8 176.5L1368.4 169.8L1362.3 158.3L1347.7 165.0ZM1318.7 178.4L1333.2 171.7L1327.1 160.2L1312.6 166.9ZM1283.5 180.4L1298.1 173.7L1292.0 162.2L1277.4 168.9ZM1198.7 191.0L1213.2 184.3L1207.1 172.8L1192.6 179.5ZM1163.6 192.9L1178.1 186.2L1172.0 174.7L1157.5 181.4ZM1078.7 203.5L1093.3 196.8L1087.2 185.3L1072.6 192.0ZM996.2 184.4L1010.7 177.7L1004.6 166.2L990.1 173.0ZM1068.8 150.9L1097.9 137.5L1091.8 126.0L1062.7 139.4ZM1112.4 130.7L1141.5 117.3L1135.4 105.8L1106.3 119.3ZM1004.6 166.2L1048.2 146.1L1042.1 134.6L998.5 154.8ZM1135.4 105.8L1149.9 99.1L1143.8 87.7L1129.3 94.4ZM1143.8 87.7L1172.8 74.2L1166.7 62.8L1137.7 76.2ZM1152.2 69.5L1181.3 56.0L1175.2 44.6L1146.1 58.0ZM1046.7 75.3L1075.8 61.9L1069.7 50.4L1040.6 63.8ZM1026.1 70.5L1055.2 57.1L1049.1 45.6L1020.0 59.1ZM903.8 112.7L947.4 92.6L941.3 81.1L897.7 101.3ZM961.9 85.9L1020.0 59.1L1013.9 47.6L955.8 74.4ZM342.0 315.1L356.5 308.4L350.4 297.0L335.9 303.7ZM335.9 303.7L365.0 290.2L358.8 278.8L329.8 292.2ZM344.3 285.5L358.8 278.8L352.7 267.3L338.2 274.0ZM338.2 274.0L352.7 267.3L346.6 255.8L332.1 262.5ZM332.1 262.5L346.6 255.8L340.5 244.3L326.0 251.0ZM340.5 244.3L355.1 237.6L349.0 226.1L334.4 232.9ZM349.0 226.1L363.5 219.4L357.4 208.0L342.9 214.7ZM357.4 208.0L371.9 201.2L365.8 189.8L351.3 196.5ZM365.8 189.8L380.3 183.1L374.2 171.6L359.7 178.3ZM374.2 171.6L388.7 164.9L382.6 153.4L368.1 160.1Z"/>
<path fill="#bf0000" stroke="#bf0000" d="M1333.2 171.7L1347.7 165.0L1341.6 153.5L1327.1 160.2ZM1298.1 173.7L1312.6 166.9L1306.5 155.5L1292.0 162.2ZM1248.4 182.3L1262.9 175.6L1256.8 164.1L1242.3 170.8ZM1213.2 184.3L1227.8 177.5L1221.7 166.1L1207.1 172.8ZM1178.1 186.2L1207.1 172.8L1201.0 161.3L1172.0 174.7ZM1142.9 188.1L1172.0 174.7L1165.9 163.2L1136.8 176.7ZM1093.3 196.8L1107.8 190.1L1101.7 178.6L1087.2 185.3ZM1136.8 176.7L1151.4 170.0L1145.3 158.5L1130.7 165.2ZM1037.5 194.0L1052.0 187.3L1045.9 175.8L1031.4 182.5ZM1124.6 153.7L1153.7 140.3L1147.6 128.8L1118.5 142.2ZM1226.3 106.7L1255.3 93.3L1249.2 81.8L1220.2 95.2ZM1031.4 182.5L1045.9 175.8L1039.8 164.3L1025.3 171.0ZM1060.4 169.1L1191.1 108.7L1185.0 97.2L1054.3 157.6ZM1205.7 102.0L1249.2 81.8L1243.1 70.3L1199.6 90.5ZM1010.7 177.7L1068.8 150.9L1062.7 139.4L1004.6 166.2ZM1141.5 117.3L1243.1 70.3L1237.0 58.9L1135.4 105.8ZM1149.9 99.1L1222.5 65.6L1216.4 54.1L1143.8 87.7ZM1172.8 74.2L1201.9 60.8L1195.8 49.3L1166.7 62.8ZM1181.3 56.0L1195.8 49.3L1189.7 37.9L1175.2 44.6ZM897.7 101.3L912.2 94.6L906.1 83.1L891.6 89.8ZM926.8 87.8L941.3 81.1L935.2 69.7L920.7 76.4ZM319.1 340.0L333.6 333.3L327.5 321.9L313.0 328.6ZM327.5 321.9L342.0 315.1L335.9 303.7L321.4 310.4ZM321.4 310.4L335.9 303.7L329.8 292.2L315.3 298.9ZM329.8 292.2L344.3 285.5L338.2 274.0L323.7 280.7ZM323.7 280.7L338.2 274.0L332.1 262.5L317.6 269.2ZM317.6 269.2L332.1 262.5L326.0 251.0L311.5 257.8ZM326.0 251.0L340.5 244.3L334.4 232.9L319.9 239.6ZM334.4 232.9L349.0 226.1L342.9 214.7L328.3 221.4ZM342.9 214.7L357.4 208.0L351.3 196.5L336.8 203.2ZM351.3 196.5L365.8 189.8L359.7 178.3L345.2 185.0ZM345.2 185.0L374.2 171.6L368.1 160.1L339.1 173.5Z"/>
<path fill="#af0000" stroke="#af0000" d="M1347.7 165.0L1362.3 158.3L1356.2 146.8L1341.6 153.5ZM1312.6 166.9L1327.1 160.2L1321.0 148.8L1306.5 155.5ZM1262.9 175.6L1306.5 155.5L1300.4 144.0L1256.8 164.1ZM1227.8 177.5L1242.3 170.8L1236.2 159.4L1221.7 166.1ZM1207.1 172.8L1236.2 159.4L1230.1 147.9L1201.0 161.3ZM1172.0 174.7L1215.6 154.6L1209.5 143.1L1165.9 163.2ZM1230.1 147.9L1259.1 134.5L1253.0 123.0L1224.0 136.4ZM1122.3 183.4L1136.8 176.7L1130.7 165.2L1116.2 171.9ZM1151.4 170.0L1209.5 143.1L1203.3 131.6L1145.3 158.5ZM1224.0 136.4L1282.1 109.5L1276.0 98.1L1217.9 124.9ZM1072.6 192.0L1276.0 98.1L1269.9 86.6L1066.5 180.6ZM1052.0 187.3L1124.6 153.7L1118.5 142.2L1045.9 175.8ZM1153.7 140.3L1226.3 106.7L1220.2 95.2L1147.6 128.8ZM1045.9 175.8L1060.4 169.1L1054.3 157.6L1039.8 164.3ZM1191.1 108.7L1205.7 102.0L1199.6 90.5L1185.0 97.2ZM912.2 94.6L926.8 87.8L920.7 76.4L906.1 83.1ZM891.6 89.8L906.1 83.1L900.0 71.6L885.5 78.3ZM920.7 76.4L935.2 69.7L929.1 58.2L914.6 64.9ZM290.0 353.5L319.1 340.0L313.0 328.6L283.9 342.0ZM283.9 342.0L327.5 321.9L321.4 310.4L277.8 330.5ZM277.8 330.5L321.4 310.4L315.3 298.9L271.7 319.0ZM286.2 312.3L329.8 292.2L323.7 280.7L280.1 300.8ZM294.6 294.1L323.7 280.7L317.6 269.2L288.5 282.7ZM303.1 275.9L317.6 269.2L311.5 257.8L297.0 264.5ZM297.0 264.5L326.0 251.0L319.9 239.6L290.9 253.0ZM305.4 246.3L334.4 232.9L328.3 221.4L299.3 234.8ZM299.3 234.8L342.9 214.7L336.8 203.2L293.2 223.3ZM322.2 209.9L351.3 196.5L345.2 185.0L316.1 198.4ZM316.1 198.4L345.2 185.0L339.1 173.5L310.0 186.9Z"/>
<path fill="#9f0000" stroke="#9f0000" d="M1362.3 158.3L1376.8 151.6L1370.7 140.1L1356.2 146.8ZM1327.1 160.2L1356.2 146.8L1350.1 135.3L1321.0 148.8ZM1306.5 155.5L1321.0 148.8L1314.9 137.3L1300.4 144.0ZM1242.3 170.8L1314.9 137.3L1308.8 125.8L1236.2 159.4ZM1236.2 159.4L1308.8 125.8L1302.7 114.3L1230.1 147.9ZM1215.6 154.6L1230.1 147.9L1224.0 136.4L1209.5 143.1ZM1259.1 134.5L1302.7 114.3L1296.6 102.8L1253.0 123.0ZM1209.5 143.1L1224.0 136.4L1217.9 124.9L1203.3 131.6ZM906.1 83.1L920.7 76.4L914.6 64.9L900.0 71.6Z"/>
<path fill="#8f0000" stroke="#8f0000" d="M1356.2 146.8L1370.7 140.1L1364.6 128.6L1350.1 135.3ZM1321.0 148.8L1350.1 135.3L1344.0 123.9L1314.9 137.3ZM1314.9 137.3L1329.4 130.6L1323.3 119.1L1308.8 125.8ZM1308.8 125.8L1323.3 119.1L1317.2 107.6L1302.7 114.3ZM1302.7 114.3L1317.2 107.6L1311.1 96.1L1296.6 102.8Z"/>
</g>
<g clip-path="url(#wo)" stroke-width="0.7" stroke-linejoin="miter">
<path fill="#0000af" stroke="#0000af" d="M1055.8 752.9L1048.3 739.9L1070.9 728.0L1078.3 741.0Z"/>
<path fill="#0000bf" stroke="#0000bf" d="M865.4 853.2L858.0 840.1L882.8 827.0L890.2 840.1ZM890.2 840.1L882.8 827.0L875.5 814.0L899.9 801.1L907.3 814.1L914.7 827.2ZM914.7 827.2L907.3 814.1L899.9 801.1L924.1 788.3L931.5 801.4L938.9 814.4ZM938.9 814.4L931.5 801.4L924.1 788.3L948.1 775.7L955.5 788.8L962.8 801.8ZM962.8 801.8L955.5 788.8L948.1 775.7L971.7 763.3L979.1 776.3L986.5 789.4ZM986.5 789.4L979.1 776.3L971.7 763.3L995.0 751.0L1002.4 764.0L1009.9 777.1ZM1009.9 777.1L1002.4 764.0L995.0 751.0L1018.1 738.8L1025.5 751.9L1033.0 764.9ZM1033.0 764.9L1025.5 751.9L1018.1 738.8L1040.9 726.8L1048.3 739.9L1055.8 752.9ZM1048.3 739.9L1040.9 726.8L1063.4 715.0L1070.9 728.0ZM1078.3 741.0L1070.9 728.0L1063.4 715.0L1085.7 703.3L1093.1 716.3L1100.6 729.3ZM1100.6 729.3L1093.1 716.3L1085.7 703.3L1107.7 691.7L1115.1 704.7L1122.6 717.7ZM1122.6 717.7L1115.1 704.7L1107.7 691.7L1129.4 680.2L1136.9 693.3L1144.3 706.3ZM1144.3 706.3L1136.9 693.3L1129.4 680.2L1150.9 668.9L1158.3 681.9L1165.8 694.9ZM1165.8 694.9L1158.3 681.9L1150.9 668.9L1172.1 657.8L1179.5 670.8L1187.0 683.8ZM1187.0 683.8L1179.5 670.8L1172.1 657.8L1193.0 646.7L1200.5 659.7L1208.0 672.7ZM1208.0 672.7L1200.5 659.7L1193.0 646.7L1213.7 635.8L1221.2 648.8L1228.7 661.8ZM1228.7 661.8L1221.2 648.8L1241.7 638.0L1249.2 651.0ZM1249.2 651.0L1241.7 638.0L1261.9 627.4L1269.5 640.4ZM1269.5 640.4L1261.9 627.4L1281.9 616.9L1289.4 629.8ZM1289.4 629.8L1281.9 616.9L1301.7 606.5L1309.2 619.4ZM1309.2 619.4L1301.7 606.5L1321.2 596.2L1328.7 609.2ZM1328.7 609.2L1321.2 596.2L1340.5 586.0L1348.0 599.0Z"/>
<path fill="#0000cf" stroke="#0000cf" d="M683.1 949.1L675.8 936.0L702.8 921.8L710.1 934.9ZM710.1 934.9L702.8 921.8L729.5 907.8L736.8 920.9ZM736.8 920.9L729.5 907.8L722.2 894.7L748.5 880.8L755.8 893.9L763.1 907.0ZM763.1 907.0L755.8 893.9L748.5 880.8L774.5 867.1L781.8 880.2L789.1 893.3ZM789.1 893.3L781.8 880.2L774.5 867.1L800.2 853.6L807.5 866.7L814.9 879.8ZM814.9 879.8L807.5 866.7L800.2 853.6L792.8 840.5L818.2 827.1L825.6 840.2L832.9 853.3L840.3 866.4ZM840.3 866.4L832.9 853.3L825.6 840.2L850.7 827.0L858.0 840.1L865.4 853.2ZM858.0 840.1L850.7 827.0L843.3 813.9L868.1 800.9L875.5 814.0L882.8 827.0ZM875.5 814.0L868.1 800.9L892.6 788.0L899.9 801.1ZM899.9 801.1L892.6 788.0L916.8 775.3L924.1 788.3ZM924.1 788.3L916.8 775.3L909.4 762.2L933.3 749.6L940.7 762.7L948.1 775.7ZM948.1 775.7L940.7 762.7L964.3 750.2L971.7 763.3ZM971.7 763.3L964.3 750.2L987.6 737.9L995.0 751.0ZM995.0 751.0L987.6 737.9L1010.7 725.8L1018.1 738.8ZM1018.1 738.8L1010.7 725.8L1033.5 713.8L1040.9 726.8ZM1040.9 726.8L1033.5 713.8L1026.0 700.8L1048.5 688.9L1056.0 702.0L1063.4 715.0ZM1063.4 715.0L1056.0 702.0L1078.2 690.2L1085.7 703.3ZM1085.7 703.3L1078.2 690.2L1100.2 678.7L1107.7 691.7ZM1107.7 691.7L1100.2 678.7L1121.9 667.2L1129.4 680.2ZM1129.4 680.2L1121.9 667.2L1143.4 655.9L1150.9 668.9ZM1150.9 668.9L1143.4 655.9L1164.6 644.8L1172.1 657.8ZM1172.1 657.8L1164.6 644.8L1185.5 633.7L1193.0 646.7ZM1193.0 646.7L1185.5 633.7L1206.2 622.8L1213.7 635.8ZM1221.2 648.8L1213.7 635.8L1206.2 622.8L1226.7 612.1L1234.2 625.1L1241.7 638.0ZM1241.7 638.0L1234.2 625.1L1254.4 614.4L1261.9 627.4ZM1261.9 627.4L1254.4 614.4L1274.4 603.9L1281.9 616.9ZM1281.9 616.9L1274.4 603.9L1294.1 593.5L1301.7 606.5ZM1301.7 606.5L1294.1 593.5L1313.6 583.2L1321.2 596.2ZM1321.2 596.2L1313.6 583.2L1332.9 573.1L1340.5 586.0ZM1348.0 599.0L1340.5 586.0L1332.9 573.1L1351.9 563.1L1359.5 576.0L1367.1 589.0ZM1367.1 589.0L1359.5 576.0L1378.3 566.1L1385.9 579.0Z"/>
<path fill="#0000df" stroke="#0000df" d="M571.9 1007.7L564.7 994.6L557.4 981.4L550.2 968.3L543.0 955.1L535.7 942.0L564.0 927.1L571.2 940.3L578.5 953.4L585.7 966.5L593.0 979.7L600.2 992.8ZM600.2 992.8L593.0 979.7L585.7 966.5L578.5 953.4L571.2 940.3L599.2 925.6L606.4 938.7L613.7 951.8L620.9 964.9L628.2 978.1ZM628.2 978.1L620.9 964.9L613.7 951.8L606.4 938.7L599.2 925.6L626.7 911.0L634.0 924.1L641.3 937.3L648.5 950.4L655.8 963.5ZM655.8 963.5L648.5 950.4L641.3 937.3L634.0 924.1L661.3 909.8L668.6 922.9L675.8 936.0L683.1 949.1ZM675.8 936.0L668.6 922.9L661.3 909.8L688.2 895.6L695.5 908.7L702.8 921.8ZM702.8 921.8L695.5 908.7L688.2 895.6L714.9 881.6L722.2 894.7L729.5 907.8ZM722.2 894.7L714.9 881.6L741.2 867.7L748.5 880.8ZM748.5 880.8L741.2 867.7L733.9 854.6L759.8 840.9L767.2 854.0L774.5 867.1ZM774.5 867.1L767.2 854.0L759.8 840.9L785.5 827.4L792.8 840.5L800.2 853.6ZM792.8 840.5L785.5 827.4L810.9 814.1L818.2 827.1ZM825.6 840.2L818.2 827.1L810.9 814.1L836.0 800.9L843.3 813.9L850.7 827.0ZM843.3 813.9L836.0 800.9L860.7 787.8L868.1 800.9ZM868.1 800.9L860.7 787.8L885.2 774.9L892.6 788.0ZM892.6 788.0L885.2 774.9L909.4 762.2L916.8 775.3ZM909.4 762.2L902.0 749.1L925.9 736.6L933.3 749.6ZM940.7 762.7L933.3 749.6L925.9 736.6L949.5 724.1L956.9 737.2L964.3 750.2ZM964.3 750.2L956.9 737.2L980.2 724.9L987.6 737.9ZM987.6 737.9L980.2 724.9L972.8 711.9L995.8 699.7L1003.3 712.8L1010.7 725.8ZM1010.7 725.8L1003.3 712.8L995.8 699.7L1018.6 687.8L1026.0 700.8L1033.5 713.8ZM1026.0 700.8L1018.6 687.8L1041.1 675.9L1048.5 688.9ZM1056.0 702.0L1048.5 688.9L1041.1 675.9L1063.3 664.2L1070.8 677.2L1078.2 690.2ZM1078.2 690.2L1070.8 677.2L1092.7 665.7L1100.2 678.7ZM1100.2 678.7L1092.7 665.7L1114.4 654.2L1121.9 667.2ZM1121.9 667.2L1114.4 654.2L1135.9 642.9L1143.4 655.9ZM1143.4 655.9L1135.9 642.9L1157.1 631.8L1164.6 644.8ZM1164.6 644.8L1157.1 631.8L1178.0 620.8L1185.5 633.7ZM1185.5 633.7L1178.0 620.8L1198.7 609.9L1206.2 622.8ZM1234.2 625.1L1226.7 612.1L1246.9 601.4L1254.4 614.4ZM1254.4 614.4L1246.9 601.4L1266.9 590.9L1274.4 603.9ZM1274.4 603.9L1266.9 590.9L1286.6 580.5L1294.1 593.5ZM1294.1 593.5L1286.6 580.5L1306.1 570.3L1313.6 583.2ZM1313.6 583.2L1306.1 570.3L1325.3 560.1L1332.9 573.1ZM1332.9 573.1L1325.3 560.1L1344.4 550.1L1351.9 563.1ZM1359.5 576.0L1351.9 563.1L1370.8 553.1L1378.3 566.1ZM1385.9 579.0L1378.3 566.1L1370.8 553.1L1389.3 543.4L1396.9 556.3L1404.5 569.2ZM1404.5 569.2L1396.9 556.3L1415.3 546.6L1422.9 559.6ZM1422.9 559.6L1415.3 546.6L1433.5 537.1L1441.0 550.0ZM1441.0 550.0L1433.5 537.1L1451.4 527.6L1459.0 540.6Z"/>
<path fill="#0000ef" stroke="#0000ef" d="M535.7 942.0L528.5 928.9L556.7 914.0L564.0 927.1ZM571.2 940.3L564.0 927.1L591.9 912.4L599.2 925.6ZM599.2 925.6L591.9 912.4L619.5 897.9L626.7 911.0ZM634.0 924.1L626.7 911.0L619.5 897.9L646.7 883.6L654.0 896.7L661.3 909.8ZM661.3 909.8L654.0 896.7L646.7 883.6L673.6 869.4L680.9 882.5L688.2 895.6ZM688.2 895.6L680.9 882.5L673.6 869.4L700.3 855.4L707.6 868.5L714.9 881.6ZM714.9 881.6L707.6 868.5L700.3 855.4L726.5 841.5L733.9 854.6L741.2 867.7ZM733.9 854.6L726.5 841.5L719.2 828.4L745.2 814.8L752.5 827.9L759.8 840.9ZM759.8 840.9L752.5 827.9L778.2 814.3L785.5 827.4ZM785.5 827.4L778.2 814.3L770.8 801.3L796.2 787.9L803.5 801.0L810.9 814.1ZM810.9 814.1L803.5 801.0L796.2 787.9L821.2 774.7L828.6 787.8L836.0 800.9ZM836.0 800.9L828.6 787.8L853.4 774.8L860.7 787.8ZM860.7 787.8L853.4 774.8L846.0 761.7L870.4 748.8L877.8 761.9L885.2 774.9ZM885.2 774.9L877.8 761.9L870.4 748.8L894.6 736.1L902.0 749.1L909.4 762.2ZM902.0 749.1L894.6 736.1L918.5 723.5L925.9 736.6ZM925.9 736.6L918.5 723.5L942.1 711.1L949.5 724.1ZM956.9 737.2L949.5 724.1L942.1 711.1L965.4 698.8L972.8 711.9L980.2 724.9ZM972.8 711.9L965.4 698.8L988.4 686.7L995.8 699.7ZM995.8 699.7L988.4 686.7L1011.2 674.7L1018.6 687.8ZM1018.6 687.8L1011.2 674.7L1033.6 662.9L1041.1 675.9ZM1041.1 675.9L1033.6 662.9L1055.9 651.2L1063.3 664.2ZM1070.8 677.2L1063.3 664.2L1085.3 652.6L1092.7 665.7ZM1092.7 665.7L1085.3 652.6L1107.0 641.2L1114.4 654.2ZM1114.4 654.2L1107.0 641.2L1128.4 629.9L1135.9 642.9ZM1135.9 642.9L1128.4 629.9L1149.6 618.8L1157.1 631.8ZM1157.1 631.8L1149.6 618.8L1170.5 607.8L1178.0 620.8ZM1178.0 620.8L1170.5 607.8L1191.2 596.9L1198.7 609.9ZM1206.2 622.8L1198.7 609.9L1219.2 599.1L1226.7 612.1ZM1226.7 612.1L1219.2 599.1L1239.4 588.5L1246.9 601.4ZM1246.9 601.4L1239.4 588.5L1259.3 577.9L1266.9 590.9ZM1266.9 590.9L1259.3 577.9L1279.0 567.6L1286.6 580.5ZM1286.6 580.5L1279.0 567.6L1298.5 557.3L1306.1 570.3ZM1306.1 570.3L1298.5 557.3L1317.8 547.2L1325.3 560.1ZM1351.9 563.1L1344.4 550.1L1363.2 540.2L1370.8 553.1ZM1370.8 553.1L1363.2 540.2L1381.8 530.4L1389.3 543.4ZM1396.9 556.3L1389.3 543.4L1407.7 533.7L1415.3 546.6ZM1415.3 546.6L1407.7 533.7L1425.9 524.2L1433.5 537.1ZM1459.0 540.6L1451.4 527.6L1469.1 518.3L1476.7 531.2ZM1476.7 531.2L1469.1 518.3L1486.6 509.1L1494.3 522.0Z"/>
<path fill="#0000ff" stroke="#0000ff" d="M528.5 928.9L521.3 915.7L549.5 900.9L556.7 914.0ZM564.0 927.1L556.7 914.0L549.5 900.9L577.4 886.2L584.6 899.3L591.9 912.4ZM591.9 912.4L584.6 899.3L612.2 884.8L619.5 897.9ZM619.5 897.9L612.2 884.8L639.4 870.4L646.7 883.6ZM646.7 883.6L639.4 870.4L666.4 856.3L673.6 869.4ZM673.6 869.4L666.4 856.3L693.0 842.3L700.3 855.4ZM700.3 855.4L693.0 842.3L719.2 828.4L726.5 841.5ZM752.5 827.9L745.2 814.8L737.9 801.7L763.5 788.2L770.8 801.3L778.2 814.3ZM828.6 787.8L821.2 774.7L846.0 761.7L853.4 774.8ZM870.4 748.8L863.1 735.8L887.2 723.0L894.6 736.1ZM894.6 736.1L887.2 723.0L911.1 710.5L918.5 723.5ZM918.5 723.5L911.1 710.5L934.7 698.1L942.1 711.1ZM942.1 711.1L934.7 698.1L958.0 685.8L965.4 698.8ZM965.4 698.8L958.0 685.8L981.0 673.7L988.4 686.7ZM988.4 686.7L981.0 673.7L1003.7 661.7L1011.2 674.7ZM1011.2 674.7L1003.7 661.7L1026.2 649.9L1033.6 662.9ZM1033.6 662.9L1026.2 649.9L1048.4 638.2L1055.9 651.2ZM1063.3 664.2L1055.9 651.2L1077.8 639.6L1085.3 652.6ZM1085.3 652.6L1077.8 639.6L1099.5 628.2L1107.0 641.2ZM1107.0 641.2L1099.5 628.2L1121.0 617.0L1128.4 629.9ZM1198.7 609.9L1191.2 596.9L1211.7 586.2L1219.2 599.1ZM1219.2 599.1L1211.7 586.2L1231.9 575.6L1239.4 588.5ZM1239.4 588.5L1231.9 575.6L1251.9 565.2L1259.3 577.9ZM1279.0 567.6L1271.7 555.0L1291.3 544.9L1298.5 557.3ZM1325.3 560.1L1317.8 547.2L1336.8 537.2L1344.4 550.1ZM1344.4 550.1L1336.8 537.2L1355.7 527.3L1363.2 540.2ZM1389.3 543.4L1381.8 530.4L1400.2 520.9L1407.7 533.7ZM1433.5 537.1L1425.9 524.2L1443.9 514.9L1451.4 527.6ZM1451.4 527.6L1443.9 514.9L1461.8 505.8L1469.1 518.3ZM1494.3 522.0L1486.6 509.1L1503.9 499.9L1511.6 512.9ZM1511.6 512.9L1503.9 499.9L1521.0 490.9L1528.7 503.9Z"/>
<path fill="#0010ff" stroke="#0010ff" d="M521.3 915.7L514.0 902.6L542.2 887.7L549.5 900.9ZM584.6 899.3L577.4 886.2L604.9 871.7L612.2 884.8ZM612.2 884.8L604.9 871.7L632.2 857.3L639.4 870.4ZM639.4 870.4L632.2 857.3L659.1 843.2L666.4 856.3ZM666.4 856.3L659.1 843.2L685.6 829.2L693.0 842.3ZM693.0 842.3L685.6 829.2L711.9 815.3L719.2 828.4ZM719.2 828.4L711.9 815.3L737.9 801.7L745.2 814.8ZM770.8 801.3L763.5 788.2L788.8 774.8L796.2 787.9ZM796.2 787.9L788.8 774.8L813.9 761.6L821.2 774.7ZM821.2 774.7L813.9 761.6L838.6 748.6L846.0 761.7ZM846.0 761.7L838.6 748.6L863.1 735.8L870.4 748.8ZM887.2 723.0L879.8 710.0L903.7 697.4L911.1 710.5ZM911.1 710.5L903.7 697.4L927.3 685.0L934.7 698.1ZM934.7 698.1L927.3 685.0L950.5 672.8L958.0 685.8ZM958.0 685.8L950.5 672.8L973.6 660.6L981.0 673.7ZM981.0 673.7L973.6 660.6L996.3 648.7L1003.7 661.7ZM1055.9 651.2L1048.4 638.2L1070.4 626.7L1077.8 639.6ZM1128.4 629.9L1121.0 617.0L1142.3 606.1L1149.6 618.8ZM1149.6 618.8L1142.3 606.1L1163.4 595.4L1170.5 607.8ZM1170.5 607.8L1163.4 595.4L1184.3 585.0L1191.2 596.9ZM1191.2 596.9L1184.3 585.0L1205.0 574.7L1211.7 586.2ZM1259.3 577.9L1251.9 565.2L1271.7 555.0L1279.0 567.6ZM1298.5 557.3L1291.3 544.9L1310.6 534.9L1317.8 547.2ZM1317.8 547.2L1310.6 534.9L1329.8 525.1L1336.8 537.2ZM1336.8 537.2L1329.8 525.1L1348.7 515.5L1355.7 527.3ZM1363.2 540.2L1355.7 527.3L1374.4 517.8L1381.8 530.4ZM1381.8 530.4L1374.4 517.8L1393.1 508.7L1400.2 520.9ZM1407.7 533.7L1400.2 520.9L1418.6 511.8L1425.9 524.2ZM1469.1 518.3L1461.8 505.8L1479.4 496.8L1486.6 509.1ZM1486.6 509.1L1479.4 496.8L1496.8 487.9L1503.9 499.9ZM1528.7 503.9L1521.0 490.9L1537.9 482.1L1545.6 495.0ZM1545.6 495.0L1537.9 482.1L1554.6 473.3L1562.3 486.2ZM1562.3 486.2L1554.6 473.3L1571.1 464.6L1578.8 477.5Z"/>
<path fill="#0020ff" stroke="#0020ff" d="M549.5 900.9L542.2 887.7L570.1 873.0L577.4 886.2ZM577.4 886.2L570.1 873.0L597.7 858.5L604.9 871.7ZM604.9 871.7L597.7 858.5L624.9 844.2L632.2 857.3ZM711.9 815.3L704.6 802.2L730.5 788.6L737.9 801.7ZM737.9 801.7L730.5 788.6L756.2 775.1L763.5 788.2ZM763.5 788.2L756.2 775.1L781.5 761.7L788.8 774.8ZM788.8 774.8L781.5 761.7L806.5 748.6L813.9 761.6ZM813.9 761.6L806.5 748.6L831.3 735.6L838.6 748.6ZM838.6 748.6L831.3 735.6L855.7 722.7L863.1 735.8ZM863.1 735.8L855.7 722.7L879.8 710.0L887.2 723.0ZM903.7 697.4L896.3 684.4L919.9 672.0L927.3 685.0ZM927.3 685.0L919.9 672.0L943.2 659.8L950.5 672.8ZM1003.7 661.7L996.3 648.7L1018.8 637.0L1026.2 649.9ZM1026.2 649.9L1018.8 637.0L1041.2 625.6L1048.4 638.2ZM1048.4 638.2L1041.2 625.6L1063.5 614.7L1070.4 626.7ZM1077.8 639.6L1070.4 626.7L1092.3 615.7L1099.5 628.2ZM1099.5 628.2L1092.3 615.7L1114.1 605.0L1121.0 617.0ZM1211.7 586.2L1205.0 574.7L1225.5 564.5L1231.9 575.6ZM1231.9 575.6L1225.5 564.5L1245.7 554.4L1251.9 565.2ZM1355.7 527.3L1348.7 515.5L1367.6 506.2L1374.4 517.8ZM1400.2 520.9L1393.1 508.7L1411.8 500.3L1418.6 511.8ZM1425.9 524.2L1418.6 511.8L1437.0 503.1L1443.9 514.9ZM1443.9 514.9L1437.0 503.1L1455.2 494.7L1461.8 505.8ZM1503.9 499.9L1496.8 487.9L1514.0 479.1L1521.0 490.9ZM1537.9 482.1L1531.0 470.3L1547.8 461.6L1554.6 473.3ZM1578.8 477.5L1571.1 464.6L1587.4 456.0L1595.1 468.9ZM1595.1 468.9L1587.4 456.0L1603.5 447.5L1611.2 460.4Z"/>
<path fill="#0030ff" stroke="#0030ff" d="M514.0 902.6L506.8 889.5L535.0 874.7L542.2 887.7ZM632.2 857.3L624.9 844.2L651.8 830.1L659.1 843.2ZM659.1 843.2L651.8 830.1L678.3 816.1L685.6 829.2ZM685.6 829.2L678.3 816.1L704.6 802.2L711.9 815.3ZM855.7 722.7L848.4 709.8L872.5 697.0L879.8 710.0ZM879.8 710.0L872.5 697.0L896.3 684.4L903.7 697.4ZM950.5 672.8L943.2 659.8L966.3 647.9L973.6 660.6ZM973.6 660.6L966.3 647.9L989.2 636.3L996.3 648.7ZM1070.4 626.7L1063.5 614.7L1085.8 604.3L1092.3 615.7ZM1121.0 617.0L1114.1 605.0L1135.8 594.8L1142.3 606.1ZM1142.3 606.1L1135.8 594.8L1157.3 584.8L1163.4 595.4ZM1163.4 595.4L1157.3 584.8L1178.5 574.8L1184.3 585.0ZM1251.9 565.2L1245.7 554.4L1265.6 544.4L1271.7 555.0ZM1271.7 555.0L1265.6 544.4L1285.3 534.5L1291.3 544.9ZM1291.3 544.9L1285.3 534.5L1304.7 524.7L1310.6 534.9ZM1310.6 534.9L1304.7 524.7L1323.8 514.9L1329.8 525.1ZM1374.4 517.8L1367.6 506.2L1386.5 497.5L1393.1 508.7ZM1418.6 511.8L1411.8 500.3L1430.6 492.3L1437.0 503.1ZM1461.8 505.8L1455.2 494.7L1473.1 486.1L1479.4 496.8ZM1479.4 496.8L1473.1 486.1L1490.7 477.5L1496.8 487.9ZM1521.0 490.9L1514.0 479.1L1531.0 470.3L1537.9 482.1ZM1554.6 473.3L1547.8 461.6L1564.3 453.0L1571.1 464.6ZM1571.1 464.6L1564.3 453.0L1580.6 444.4L1587.4 456.0Z"/>
<path fill="#0040ff" stroke="#0040ff" d="M542.2 887.7L535.0 874.7L562.9 860.0L570.1 873.0ZM570.1 873.0L562.9 860.0L590.5 845.6L597.7 858.5ZM597.7 858.5L590.5 845.6L617.7 831.3L624.9 844.2ZM704.6 802.2L697.4 789.4L723.3 775.6L730.5 788.6ZM730.5 788.6L723.3 775.6L748.9 762.0L756.2 775.1ZM756.2 775.1L748.9 762.0L774.2 748.7L781.5 761.7ZM781.5 761.7L774.2 748.7L799.2 735.5L806.5 748.6ZM806.5 748.6L799.2 735.5L823.9 722.6L831.3 735.6ZM831.3 735.6L823.9 722.6L848.4 709.8L855.7 722.7ZM872.5 697.0L865.7 685.1L889.6 672.6L896.3 684.4ZM896.3 684.4L889.6 672.6L913.1 660.1L919.9 672.0ZM919.9 672.0L913.1 660.1L936.4 647.9L943.2 659.8ZM943.2 659.8L936.4 647.9L959.6 636.1L966.3 647.9ZM996.3 648.7L989.2 636.3L1012.0 625.1L1018.8 637.0ZM1018.8 637.0L1012.0 625.1L1034.7 614.2L1041.2 625.6ZM1041.2 625.6L1034.7 614.2L1057.3 603.8L1063.5 614.7ZM1092.3 615.7L1085.8 604.3L1107.9 594.4L1114.1 605.0ZM1184.3 585.0L1178.5 574.8L1199.4 564.9L1205.0 574.7ZM1205.0 574.7L1199.4 564.9L1219.9 554.9L1225.5 564.5ZM1225.5 564.5L1219.9 554.9L1240.2 545.0L1245.7 554.4ZM1245.7 554.4L1240.2 545.0L1260.2 535.1L1265.6 544.4ZM1329.8 525.1L1323.8 514.9L1342.7 505.2L1348.7 515.5ZM1348.7 515.5L1342.7 505.2L1361.6 495.9L1367.6 506.2ZM1393.1 508.7L1386.5 497.5L1405.5 489.5L1411.8 500.3ZM1437.0 503.1L1430.6 492.3L1449.2 484.4L1455.2 494.7ZM1455.2 494.7L1449.2 484.4L1467.3 476.2L1473.1 486.1ZM1473.1 486.1L1467.3 476.2L1485.0 467.8L1490.7 477.5ZM1496.8 487.9L1490.7 477.5L1508.0 468.8L1514.0 479.1ZM1514.0 479.1L1508.0 468.8L1525.0 460.1L1531.0 470.3ZM1587.4 456.0L1580.6 444.4L1596.7 435.9L1603.5 447.5Z"/>
<path fill="#0050ff" stroke="#0050ff" d="M506.8 889.5L499.7 876.6L528.1 862.1L535.0 874.7ZM535.0 874.7L528.1 862.1L556.2 847.8L562.9 860.0ZM624.9 844.2L617.7 831.3L644.6 817.2L651.8 830.1ZM651.8 830.1L644.6 817.2L671.2 803.2L678.3 816.1ZM678.3 816.1L671.2 803.2L697.4 789.4L704.6 802.2ZM723.3 775.6L716.2 762.9L741.7 749.2L748.9 762.0ZM748.9 762.0L741.7 749.2L766.9 735.8L774.2 748.7ZM848.4 709.8L841.5 697.6L865.7 685.1L872.5 697.0ZM966.3 647.9L959.6 636.1L982.7 624.8L989.2 636.3ZM989.2 636.3L982.7 624.8L1005.7 614.0L1012.0 625.1ZM1063.5 614.7L1057.3 603.8L1079.8 593.9L1085.8 604.3ZM1114.1 605.0L1107.9 594.4L1130.0 584.7L1135.8 594.8ZM1135.8 594.8L1130.0 584.7L1151.7 575.1L1157.3 584.8ZM1157.3 584.8L1151.7 575.1L1173.0 565.4L1178.5 574.8ZM1178.5 574.8L1173.0 565.4L1194.0 555.6L1199.4 564.9ZM1265.6 544.4L1260.2 535.1L1279.9 525.3L1285.3 534.5ZM1285.3 534.5L1279.9 525.3L1299.3 515.5L1304.7 524.7ZM1304.7 524.7L1299.3 515.5L1318.4 505.6L1323.8 514.9ZM1323.8 514.9L1318.4 505.6L1337.2 495.7L1342.7 505.2ZM1367.6 506.2L1361.6 495.9L1380.4 487.1L1386.5 497.5ZM1411.8 500.3L1405.5 489.5L1424.5 481.9L1430.6 492.3ZM1490.7 477.5L1485.0 467.8L1502.2 459.1L1508.0 468.8ZM1531.0 470.3L1525.0 460.1L1541.7 451.5L1547.8 461.6ZM1547.8 461.6L1541.7 451.5L1558.2 442.8L1564.3 453.0ZM1564.3 453.0L1558.2 442.8L1574.5 434.2L1580.6 444.4Z"/>
<path fill="#0060ff" stroke="#0060ff" d="M499.7 876.6L492.7 863.8L521.4 849.9L528.1 862.1ZM562.9 860.0L556.2 847.8L583.7 833.4L590.5 845.6ZM590.5 845.6L583.7 833.4L610.9 819.0L617.7 831.3ZM617.7 831.3L610.9 819.0L637.7 804.8L644.6 817.2ZM644.6 817.2L637.7 804.8L664.3 790.8L671.2 803.2ZM671.2 803.2L664.3 790.8L690.4 776.8L697.4 789.4ZM697.4 789.4L690.4 776.8L716.2 762.9L723.3 775.6ZM774.2 748.7L766.9 735.8L792.0 722.7L799.2 735.5ZM799.2 735.5L792.0 722.7L816.9 710.1L823.9 722.6ZM823.9 722.6L816.9 710.1L841.5 697.6L848.4 709.8ZM865.7 685.1L859.1 673.4L883.2 661.2L889.6 672.6ZM889.6 672.6L883.2 661.2L906.7 648.9L913.1 660.1ZM913.1 660.1L906.7 648.9L930.0 636.6L936.4 647.9ZM936.4 647.9L930.0 636.6L953.2 624.9L959.6 636.1ZM1012.0 625.1L1005.7 614.0L1028.5 603.5L1034.7 614.2ZM1034.7 614.2L1028.5 603.5L1051.3 593.4L1057.3 603.8ZM1085.8 604.3L1079.8 593.9L1102.2 584.4L1107.9 594.4ZM1107.9 594.4L1102.2 584.4L1124.5 575.1L1130.0 584.7ZM1199.4 564.9L1194.0 555.6L1214.6 545.8L1219.9 554.9ZM1219.9 554.9L1214.6 545.8L1235.0 536.0L1240.2 545.0ZM1240.2 545.0L1235.0 536.0L1255.0 526.2L1260.2 535.1ZM1342.7 505.2L1337.2 495.7L1355.8 486.1L1361.6 495.9ZM1386.5 497.5L1380.4 487.1L1399.5 479.2L1405.5 489.5ZM1430.6 492.3L1424.5 481.9L1443.3 474.4L1449.2 484.4ZM1449.2 484.4L1443.3 474.4L1461.6 466.6L1467.3 476.2ZM1467.3 476.2L1461.6 466.6L1479.3 458.2L1485.0 467.8ZM1508.0 468.8L1502.2 459.1L1519.2 450.4L1525.0 460.1ZM1525.0 460.1L1519.2 450.4L1535.9 441.7L1541.7 451.5ZM1541.7 451.5L1535.9 441.7L1552.4 433.0L1558.2 442.8ZM1580.6 444.4L1574.5 434.2L1590.6 425.7L1596.7 435.9Z"/>
<path fill="#0070ff" stroke="#0070ff" d="M528.1 862.1L521.4 849.9L549.7 836.1L556.2 847.8ZM716.2 762.9L709.1 750.2L734.5 736.4L741.7 749.2ZM741.7 749.2L734.5 736.4L759.7 722.9L766.9 735.8ZM766.9 735.8L759.7 722.9L784.8 709.9L792.0 722.7ZM816.9 710.1L809.8 697.5L834.6 685.4L841.5 697.6ZM841.5 697.6L834.6 685.4L859.1 673.4L865.7 685.1ZM906.7 648.9L900.1 637.2L923.5 625.1L930.0 636.6ZM959.6 636.1L953.2 624.9L976.4 613.8L982.7 624.8ZM982.7 624.8L976.4 613.8L999.5 603.2L1005.7 614.0ZM1057.3 603.8L1051.3 593.4L1074.0 583.8L1079.8 593.9ZM1079.8 593.9L1074.0 583.8L1096.6 574.7L1102.2 584.4ZM1130.0 584.7L1124.5 575.1L1146.4 565.9L1151.7 575.1ZM1151.7 575.1L1146.4 565.9L1167.8 556.3L1173.0 565.4ZM1173.0 565.4L1167.8 556.3L1188.8 546.6L1194.0 555.6ZM1260.2 535.1L1255.0 526.2L1274.7 516.4L1279.9 525.3ZM1279.9 525.3L1274.7 516.4L1294.1 506.6L1299.3 515.5ZM1299.3 515.5L1294.1 506.6L1313.1 496.6L1318.4 505.6ZM1318.4 505.6L1313.1 496.6L1331.8 486.5L1337.2 495.7ZM1361.6 495.9L1355.8 486.1L1374.5 477.1L1380.4 487.1ZM1405.5 489.5L1399.5 479.2L1418.6 471.8L1424.5 481.9ZM1424.5 481.9L1418.6 471.8L1437.5 464.6L1443.3 474.4ZM1485.0 467.8L1479.3 458.2L1496.6 449.5L1502.2 459.1ZM1502.2 459.1L1496.6 449.5L1513.5 440.7L1519.2 450.4ZM1558.2 442.8L1552.4 433.0L1568.7 424.4L1574.5 434.2ZM1574.5 434.2L1568.7 424.4L1584.7 415.9L1590.6 425.7Z"/>
<path fill="#0080ff" stroke="#0080ff" d="M492.7 863.8L485.7 851.2L514.8 837.9L521.4 849.9ZM556.2 847.8L549.7 836.1L577.3 821.9L583.7 833.4ZM583.7 833.4L577.3 821.9L604.4 807.2L610.9 819.0ZM610.9 819.0L604.4 807.2L630.9 792.6L637.7 804.8ZM637.7 804.8L630.9 792.6L657.3 778.2L664.3 790.8ZM664.3 790.8L657.3 778.2L683.3 764.2L690.4 776.8ZM690.4 776.8L683.3 764.2L709.1 750.2L716.2 762.9ZM792.0 722.7L784.8 709.9L809.8 697.5L816.9 710.1ZM859.1 673.4L852.2 661.1L876.4 649.3L883.2 661.2ZM883.2 661.2L876.4 649.3L900.1 637.2L906.7 648.9ZM930.0 636.6L923.5 625.1L946.7 613.5L953.2 624.9ZM953.2 624.9L946.7 613.5L970.0 602.7L976.4 613.8ZM1005.7 614.0L999.5 603.2L1022.5 592.9L1028.5 603.5ZM1028.5 603.5L1022.5 592.9L1045.4 583.0L1051.3 593.4ZM1102.2 584.4L1096.6 574.7L1119.1 565.8L1124.5 575.1ZM1194.0 555.6L1188.8 546.6L1209.4 536.7L1214.6 545.8ZM1214.6 545.8L1209.4 536.7L1229.7 526.8L1235.0 536.0ZM1235.0 536.0L1229.7 526.8L1249.7 517.1L1255.0 526.2ZM1337.2 495.7L1331.8 486.5L1350.2 476.5L1355.8 486.1ZM1380.4 487.1L1374.5 477.1L1393.5 469.0L1399.5 479.2ZM1443.3 474.4L1437.5 464.6L1455.9 456.9L1461.6 466.6ZM1461.6 466.6L1455.9 456.9L1473.7 448.6L1479.3 458.2ZM1479.3 458.2L1473.7 448.6L1490.9 439.9L1496.6 449.5ZM1519.2 450.4L1513.5 440.7L1530.2 431.9L1535.9 441.7ZM1535.9 441.7L1530.2 431.9L1546.6 423.2L1552.4 433.0Z"/>
<path fill="#008fff" stroke="#008fff" d="M485.7 851.2L478.7 838.4L508.1 825.8L514.8 837.9ZM521.4 849.9L514.8 837.9L543.4 824.8L549.7 836.1ZM709.1 750.2L701.9 737.3L727.3 723.6L734.5 736.4ZM734.5 736.4L727.3 723.6L752.5 710.0L759.7 722.9ZM759.7 722.9L752.5 710.0L777.5 697.0L784.8 709.9ZM784.8 709.9L777.5 697.0L802.5 684.5L809.8 697.5ZM834.6 685.4L827.4 672.7L852.2 661.1L859.1 673.4ZM900.1 637.2L893.0 624.6L916.4 612.8L923.5 625.1ZM923.5 625.1L916.4 612.8L939.9 601.5L946.7 613.5ZM976.4 613.8L970.0 602.7L993.3 592.3L999.5 603.2ZM999.5 603.2L993.3 592.3L1016.4 582.2L1022.5 592.9ZM1051.3 593.4L1045.4 583.0L1068.2 573.7L1074.0 583.8ZM1124.5 575.1L1119.1 565.8L1141.1 556.8L1146.4 565.9ZM1146.4 565.9L1141.1 556.8L1162.6 547.4L1167.8 556.3ZM1167.8 556.3L1162.6 547.4L1183.5 537.5L1188.8 546.6ZM1188.8 546.6L1183.5 537.5L1204.0 527.4L1209.4 536.7ZM1209.4 536.7L1204.0 527.4L1224.2 517.4L1229.7 526.8ZM1255.0 526.2L1249.7 517.1L1269.5 507.4L1274.7 516.4ZM1274.7 516.4L1269.5 507.4L1288.9 497.6L1294.1 506.6ZM1294.1 506.6L1288.9 497.6L1307.8 487.5L1313.1 496.6ZM1313.1 496.6L1307.8 487.5L1326.3 477.2L1331.8 486.5ZM1355.8 486.1L1350.2 476.5L1368.7 467.1L1374.5 477.1ZM1399.5 479.2L1393.5 469.0L1412.6 461.6L1418.6 471.8ZM1418.6 471.8L1412.6 461.6L1431.6 454.6L1437.5 464.6ZM1496.6 449.5L1490.9 439.9L1507.7 430.9L1513.5 440.7ZM1552.4 433.0L1546.6 423.2L1562.8 414.5L1568.7 424.4ZM1568.7 424.4L1562.8 414.5L1578.9 406.0L1584.7 415.9Z"/>
<path fill="#009fff" stroke="#009fff" d="M549.7 836.1L543.4 824.8L571.1 810.6L577.3 821.9ZM577.3 821.9L571.1 810.6L597.9 795.6L604.4 807.2ZM604.4 807.2L597.9 795.6L624.1 780.3L630.9 792.6ZM630.9 792.6L624.1 780.3L650.1 765.4L657.3 778.2ZM657.3 778.2L650.1 765.4L676.1 751.2L683.3 764.2ZM683.3 764.2L676.1 751.2L701.9 737.3L709.1 750.2ZM809.8 697.5L802.5 684.5L827.4 672.7L834.6 685.4ZM827.4 672.7L820.1 659.6L844.8 648.1L852.2 661.1ZM852.2 661.1L844.8 648.1L869.1 636.5L876.4 649.3ZM876.4 649.3L869.1 636.5L893.0 624.6L900.1 637.2ZM893.0 624.6L885.6 611.6L909.1 599.9L916.4 612.8ZM946.7 613.5L939.9 601.5L963.4 591.0L970.0 602.7ZM1022.5 592.9L1016.4 582.2L1039.3 572.5L1045.4 583.0ZM1045.4 583.0L1039.3 572.5L1062.2 563.3L1068.2 573.7ZM1074.0 583.8L1068.2 573.7L1091.0 564.9L1096.6 574.7ZM1096.6 574.7L1091.0 564.9L1113.7 556.4L1119.1 565.8ZM1229.7 526.8L1224.2 517.4L1244.1 507.5L1249.7 517.1ZM1249.7 517.1L1244.1 507.5L1263.9 497.8L1269.5 507.4ZM1331.8 486.5L1326.3 477.2L1344.5 466.8L1350.2 476.5ZM1350.2 476.5L1344.5 466.8L1362.7 456.9L1368.7 467.1ZM1374.5 477.1L1368.7 467.1L1387.4 458.7L1393.5 469.0ZM1437.5 464.6L1431.6 454.6L1450.1 447.1L1455.9 456.9ZM1455.9 456.9L1450.1 447.1L1468.0 438.9L1473.7 448.6ZM1513.5 440.7L1507.7 430.9L1524.3 422.0L1530.2 431.9ZM1530.2 431.9L1524.3 422.0L1540.7 413.2L1546.6 423.2ZM1546.6 423.2L1540.7 413.2L1556.9 404.6L1562.8 414.5Z"/>
<path fill="#00afff" stroke="#00afff" d="M478.7 838.4L471.6 825.4L501.1 813.0L508.1 825.8ZM514.8 837.9L508.1 825.8L537.1 813.2L543.4 824.8ZM624.1 780.3L617.1 767.6L642.9 752.4L650.1 765.4ZM650.1 765.4L642.9 752.4L668.8 738.2L676.1 751.2ZM701.9 737.3L694.6 724.3L720.0 710.6L727.3 723.6ZM727.3 723.6L720.0 710.6L745.2 697.1L752.5 710.0ZM752.5 710.0L745.2 697.1L770.2 684.0L777.5 697.0ZM777.5 697.0L770.2 684.0L795.1 671.5L802.5 684.5ZM802.5 684.5L795.1 671.5L820.1 659.6L827.4 672.7ZM844.8 648.1L837.4 635.0L861.8 623.4L869.1 636.5ZM869.1 636.5L861.8 623.4L885.6 611.6L893.0 624.6ZM916.4 612.8L909.1 599.9L932.6 588.7L939.9 601.5ZM970.0 602.7L963.4 591.0L986.8 580.9L993.3 592.3ZM993.3 592.3L986.8 580.9L1010.0 571.0L1016.4 582.2ZM1016.4 582.2L1010.0 571.0L1032.9 561.3L1039.3 572.5ZM1119.1 565.8L1113.7 556.4L1135.8 547.6L1141.1 556.8ZM1141.1 556.8L1135.8 547.6L1157.4 538.3L1162.6 547.4ZM1162.6 547.4L1157.4 538.3L1178.2 528.3L1183.5 537.5ZM1183.5 537.5L1178.2 528.3L1198.5 517.9L1204.0 527.4ZM1269.5 507.4L1263.9 497.8L1283.3 488.1L1288.9 497.6ZM1288.9 497.6L1283.3 488.1L1302.3 478.0L1307.8 487.5ZM1307.8 487.5L1302.3 478.0L1320.7 467.4L1326.3 477.2ZM1393.5 469.0L1387.4 458.7L1406.5 451.2L1412.6 461.6ZM1412.6 461.6L1406.5 451.2L1425.5 444.2L1431.6 454.6ZM1473.7 448.6L1468.0 438.9L1485.1 430.2L1490.9 439.9ZM1490.9 439.9L1485.1 430.2L1501.9 421.1L1507.7 430.9ZM1562.8 414.5L1556.9 404.6L1572.9 396.0L1578.9 406.0Z"/>
<path fill="#00bfff" stroke="#00bfff" d="M471.6 825.4L464.3 812.3L493.8 799.9L501.1 813.0ZM543.4 824.8L537.1 813.2L564.8 799.1L571.1 810.6ZM571.1 810.6L564.8 799.1L591.3 783.7L597.9 795.6ZM597.9 795.6L591.3 783.7L617.1 767.6L624.1 780.3ZM676.1 751.2L668.8 738.2L694.6 724.3L701.9 737.3ZM720.0 710.6L712.7 697.5L737.8 684.0L745.2 697.1ZM770.2 684.0L762.8 670.9L787.8 658.4L795.1 671.5ZM795.1 671.5L787.8 658.4L812.7 646.5L820.1 659.6ZM820.1 659.6L812.7 646.5L837.4 635.0L844.8 648.1ZM885.6 611.6L878.2 598.6L901.7 586.8L909.1 599.9ZM939.9 601.5L932.6 588.7L956.1 578.3L963.4 591.0ZM963.4 591.0L956.1 578.3L979.7 568.5L986.8 580.9ZM1039.3 572.5L1032.9 561.3L1055.7 551.9L1062.2 563.3ZM1068.2 573.7L1062.2 563.3L1085.1 554.7L1091.0 564.9ZM1091.0 564.9L1085.1 554.7L1107.9 546.4L1113.7 556.4ZM1204.0 527.4L1198.5 517.9L1218.4 507.5L1224.2 517.4ZM1224.2 517.4L1218.4 507.5L1238.2 497.4L1244.1 507.5ZM1244.1 507.5L1238.2 497.4L1257.9 487.5L1263.9 497.8ZM1263.9 497.8L1257.9 487.5L1277.3 477.7L1283.3 488.1ZM1326.3 477.2L1320.7 467.4L1338.5 456.6L1344.5 466.8ZM1344.5 466.8L1338.5 456.6L1356.3 445.9L1362.7 456.9ZM1368.7 467.1L1362.7 456.9L1381.1 447.9L1387.4 458.7ZM1431.6 454.6L1425.5 444.2L1444.1 436.9L1450.1 447.1ZM1450.1 447.1L1444.1 436.9L1462.0 428.9L1468.0 438.9ZM1507.7 430.9L1501.9 421.1L1518.4 412.1L1524.3 422.0ZM1524.3 422.0L1518.4 412.1L1534.7 403.2L1540.7 413.2ZM1540.7 413.2L1534.7 403.2L1550.9 394.4L1556.9 404.6Z"/>
<path fill="#00cfff" stroke="#00cfff" d="M508.1 825.8L501.1 813.0L530.2 800.8L537.1 813.2ZM537.1 813.2L530.2 800.8L557.9 786.8L564.8 799.1ZM591.3 783.7L584.2 770.9L609.8 754.6L617.1 767.6ZM617.1 767.6L609.8 754.6L635.6 739.3L642.9 752.4ZM642.9 752.4L635.6 739.3L661.5 725.1L668.8 738.2ZM668.8 738.2L661.5 725.1L687.3 711.2L694.6 724.3ZM694.6 724.3L687.3 711.2L712.7 697.5L720.0 710.6ZM745.2 697.1L737.8 684.0L762.8 670.9L770.2 684.0ZM837.4 635.0L830.0 621.9L854.4 610.4L861.8 623.4ZM861.8 623.4L854.4 610.4L878.2 598.6L885.6 611.6ZM909.1 599.9L901.7 586.8L925.1 575.6L932.6 588.7ZM932.6 588.7L925.1 575.6L948.7 565.3L956.1 578.3ZM986.8 580.9L979.7 568.5L1002.9 558.7L1010.0 571.0ZM1010.0 571.0L1002.9 558.7L1025.8 548.9L1032.9 561.3ZM1062.2 563.3L1055.7 551.9L1078.5 543.2L1085.1 554.7ZM1113.7 556.4L1107.9 546.4L1130.2 537.9L1135.8 547.6ZM1135.8 547.6L1130.2 537.9L1151.8 528.6L1157.4 538.3ZM1157.4 538.3L1151.8 528.6L1172.5 518.5L1178.2 528.3ZM1178.2 528.3L1172.5 518.5L1192.6 507.7L1198.5 517.9ZM1198.5 517.9L1192.6 507.7L1212.2 496.8L1218.4 507.5ZM1218.4 507.5L1212.2 496.8L1231.7 486.1L1238.2 497.4ZM1283.3 488.1L1277.3 477.7L1296.1 467.5L1302.3 478.0ZM1302.3 478.0L1296.1 467.5L1314.3 456.6L1320.7 467.4ZM1362.7 456.9L1356.3 445.9L1374.2 436.1L1381.1 447.9ZM1387.4 458.7L1381.1 447.9L1399.9 440.0L1406.5 451.2ZM1406.5 451.2L1399.9 440.0L1418.8 432.7L1425.5 444.2ZM1468.0 438.9L1462.0 428.9L1479.2 420.2L1485.1 430.2ZM1485.1 430.2L1479.2 420.2L1496.0 411.1L1501.9 421.1ZM1556.9 404.6L1550.9 394.4L1566.9 385.8L1572.9 396.0Z"/>
<path fill="#00dfff" stroke="#00dfff" d="M464.3 812.3L457.1 799.2L486.8 787.2L493.8 799.9ZM501.1 813.0L493.8 799.9L523.0 787.7L530.2 800.8ZM564.8 799.1L557.9 786.8L584.2 770.9L591.3 783.7ZM635.6 739.3L628.3 726.2L654.2 712.0L661.5 725.1ZM661.5 725.1L654.2 712.0L680.0 698.1L687.3 711.2ZM712.7 697.5L705.4 684.4L730.5 670.9L737.8 684.0ZM737.8 684.0L730.5 670.9L755.5 657.8L762.8 670.9ZM762.8 670.9L755.5 657.8L780.4 645.3L787.8 658.4ZM787.8 658.4L780.4 645.3L805.3 633.5L812.7 646.5ZM812.7 646.5L805.3 633.5L830.0 621.9L837.4 635.0ZM830.0 621.9L822.6 608.9L847.0 597.3L854.4 610.4ZM878.2 598.6L870.8 585.5L894.3 573.8L901.7 586.8ZM901.7 586.8L894.3 573.8L917.7 562.6L925.1 575.6ZM956.1 578.3L948.7 565.3L972.2 555.4L979.7 568.5ZM1032.9 561.3L1025.8 548.9L1048.5 539.4L1055.7 551.9ZM1055.7 551.9L1048.5 539.4L1071.2 530.5L1078.5 543.2ZM1085.1 554.7L1078.5 543.2L1101.2 534.8L1107.9 546.4ZM1107.9 546.4L1101.2 534.8L1123.5 526.2L1130.2 537.9ZM1238.2 497.4L1231.7 486.1L1251.1 475.8L1257.9 487.5ZM1257.9 487.5L1251.1 475.8L1270.2 465.6L1277.3 477.7ZM1320.7 467.4L1314.3 456.6L1331.8 445.0L1338.5 456.6ZM1338.5 456.6L1331.8 445.0L1349.1 433.7L1356.3 445.9ZM1381.1 447.9L1374.2 436.1L1392.7 427.7L1399.9 440.0ZM1425.5 444.2L1418.8 432.7L1437.3 425.4L1444.1 436.9ZM1444.1 436.9L1437.3 425.4L1455.3 417.5L1462.0 428.9ZM1462.0 428.9L1455.3 417.5L1472.7 409.0L1479.2 420.2ZM1501.9 421.1L1496.0 411.1L1512.4 401.9L1518.4 412.1ZM1518.4 412.1L1512.4 401.9L1528.6 392.9L1534.7 403.2Z"/>
<path fill="#00efff" stroke="#00efff" d="M457.1 799.2L449.9 786.0L479.6 774.2L486.8 787.2ZM493.8 799.9L486.8 787.2L516.2 775.4L523.0 787.7ZM530.2 800.8L523.0 787.7L550.7 773.7L557.9 786.8ZM557.9 786.8L550.7 773.7L576.9 757.8L584.2 770.9ZM584.2 770.9L576.9 757.8L602.5 741.5L609.8 754.6ZM609.8 754.6L602.5 741.5L628.3 726.2L635.6 739.3ZM687.3 711.2L680.0 698.1L705.4 684.4L712.7 697.5ZM755.5 657.8L748.2 644.9L773.1 632.3L780.4 645.3ZM780.4 645.3L773.1 632.3L797.9 620.4L805.3 633.5ZM805.3 633.5L797.9 620.4L822.6 608.9L830.0 621.9ZM854.4 610.4L847.0 597.3L870.8 585.5L878.2 598.6ZM925.1 575.6L917.7 562.6L941.4 552.4L948.7 565.3ZM979.7 568.5L972.2 555.4L995.5 545.8L1002.9 558.7ZM1002.9 558.7L995.5 545.8L1018.4 536.1L1025.8 548.9ZM1025.8 548.9L1018.4 536.1L1041.2 526.7L1048.5 539.4ZM1078.5 543.2L1071.2 530.5L1093.8 522.0L1101.2 534.8ZM1130.2 537.9L1123.5 526.2L1145.0 516.9L1151.8 528.6ZM1151.8 528.6L1145.0 516.9L1165.6 506.6L1172.5 518.5ZM1172.5 518.5L1165.6 506.6L1185.5 495.6L1192.6 507.7ZM1192.6 507.7L1185.5 495.6L1205.0 484.3L1212.2 496.8ZM1212.2 496.8L1205.0 484.3L1224.3 473.4L1231.7 486.1ZM1277.3 477.7L1270.2 465.6L1288.9 455.1L1296.1 467.5ZM1296.1 467.5L1288.9 455.1L1306.9 443.9L1314.3 456.6ZM1314.3 456.6L1306.9 443.9L1324.4 432.4L1331.8 445.0ZM1356.3 445.9L1349.1 433.7L1366.9 423.7L1374.2 436.1ZM1399.9 440.0L1392.7 427.7L1411.4 420.2L1418.8 432.7ZM1418.8 432.7L1411.4 420.2L1430.2 413.3L1437.3 425.4ZM1479.2 420.2L1472.7 409.0L1489.6 400.2L1496.0 411.1ZM1534.7 403.2L1528.6 392.9L1544.7 384.0L1550.9 394.4ZM1550.9 394.4L1544.7 384.0L1560.7 375.4L1566.9 385.8Z"/>
<path fill="#00ffff" stroke="#00ffff" d="M449.9 786.0L442.7 773.0L472.5 761.2L479.6 774.2ZM523.0 787.7L516.2 775.4L544.0 761.7L550.7 773.7ZM576.9 757.8L570.4 746.1L596.1 729.9L602.5 741.5ZM602.5 741.5L596.1 729.9L621.6 714.3L628.3 726.2ZM628.3 726.2L621.6 714.3L647.3 699.6L654.2 712.0ZM654.2 712.0L647.3 699.6L672.9 685.5L680.0 698.1ZM680.0 698.1L672.9 685.5L698.3 671.7L705.4 684.4ZM705.4 684.4L698.3 671.7L723.3 658.1L730.5 670.9ZM730.5 670.9L723.3 658.1L748.2 644.9L755.5 657.8ZM773.1 632.3L766.7 621.1L791.2 608.6L797.9 620.4ZM797.9 620.4L791.2 608.6L815.6 596.5L822.6 608.9ZM822.6 608.9L815.6 596.5L839.8 584.6L847.0 597.3ZM847.0 597.3L839.8 584.6L863.5 572.8L870.8 585.5ZM870.8 585.5L863.5 572.8L887.1 561.2L894.3 573.8ZM894.3 573.8L887.1 561.2L910.6 550.1L917.7 562.6ZM917.7 562.6L910.6 550.1L934.2 539.9L941.4 552.4ZM948.7 565.3L941.4 552.4L965.0 542.8L972.2 555.4ZM972.2 555.4L965.0 542.8L988.4 533.4L995.5 545.8ZM995.5 545.8L988.4 533.4L1011.5 523.9L1018.4 536.1ZM1018.4 536.1L1011.5 523.9L1034.2 514.6L1041.2 526.7ZM1048.5 539.4L1041.2 526.7L1063.9 517.8L1071.2 530.5ZM1071.2 530.5L1063.9 517.8L1086.5 509.2L1093.8 522.0ZM1101.2 534.8L1093.8 522.0L1086.5 509.2L1108.8 500.7L1116.1 513.4L1123.5 526.2ZM1123.5 526.2L1116.1 513.4L1137.7 504.3L1145.0 516.9ZM1145.0 516.9L1137.7 504.3L1158.5 494.3L1165.6 506.6ZM1165.6 506.6L1158.5 494.3L1151.3 481.9L1171.6 471.5L1178.6 483.7L1185.5 495.6ZM1185.5 495.6L1178.6 483.7L1198.4 472.9L1205.0 484.3ZM1205.0 484.3L1198.4 472.9L1217.9 462.3L1224.3 473.4ZM1231.7 486.1L1224.3 473.4L1217.9 462.3L1237.3 452.0L1243.6 462.9L1251.1 475.8ZM1251.1 475.8L1243.6 462.9L1262.8 452.9L1270.2 465.6ZM1270.2 465.6L1262.8 452.9L1281.8 442.8L1288.9 455.1ZM1288.9 455.1L1281.8 442.8L1300.2 432.4L1306.9 443.9ZM1306.9 443.9L1300.2 432.4L1318.0 421.4L1324.4 432.4ZM1331.8 445.0L1324.4 432.4L1342.0 421.5L1349.1 433.7ZM1349.1 433.7L1342.0 421.5L1360.0 411.9L1366.9 423.7ZM1374.2 436.1L1366.9 423.7L1385.5 415.4L1392.7 427.7ZM1437.3 425.4L1430.2 413.3L1448.8 406.4L1455.3 417.5ZM1455.3 417.5L1448.8 406.4L1466.9 399.3L1472.7 409.0ZM1472.7 409.0L1466.9 399.3L1484.7 392.1L1489.6 400.2ZM1496.0 411.1L1489.6 400.2L1506.2 391.5L1512.4 401.9ZM1512.4 401.9L1506.2 391.5L1522.8 383.0L1528.6 392.9ZM1528.6 392.9L1522.8 383.0L1539.2 374.7L1544.7 384.0ZM1544.7 384.0L1539.2 374.7L1555.4 366.5L1560.7 375.4Z"/>
<path fill="#10ffef" stroke="#10ffef" d="M442.7 773.0L436.3 761.4L465.6 748.8L472.5 761.2ZM486.8 787.2L479.6 774.2L472.5 761.2L502.2 750.1L509.4 763.2L516.2 775.4ZM516.2 775.4L509.4 763.2L537.8 750.5L544.0 761.7ZM550.7 773.7L544.0 761.7L570.4 746.1L576.9 757.8ZM570.4 746.1L564.6 735.6L590.4 719.7L596.1 729.9ZM596.1 729.9L590.4 719.7L616.0 704.3L621.6 714.3ZM621.6 714.3L616.0 704.3L641.7 689.7L647.3 699.6ZM647.3 699.6L641.7 689.7L667.3 675.5L672.9 685.5ZM672.9 685.5L667.3 675.5L692.6 661.6L698.3 671.7ZM698.3 671.7L692.6 661.6L717.5 647.7L723.3 658.1ZM723.3 658.1L717.5 647.7L710.8 635.8L735.5 622.3L742.1 634.1L748.2 644.9ZM748.2 644.9L742.1 634.1L735.5 622.3L760.3 609.7L766.7 621.1L773.1 632.3ZM766.7 621.1L760.3 609.7L785.1 597.8L791.2 608.6ZM791.2 608.6L785.1 597.8L809.8 586.1L815.6 596.5ZM815.6 596.5L809.8 586.1L833.9 574.4L839.8 584.6ZM839.8 584.6L833.9 574.4L857.6 562.3L863.5 572.8ZM863.5 572.8L857.6 562.3L880.9 550.2L887.1 561.2ZM887.1 561.2L880.9 550.2L904.0 538.5L910.6 550.1ZM910.6 550.1L904.0 538.5L927.3 527.7L934.2 539.9ZM941.4 552.4L934.2 539.9L927.3 527.7L950.6 517.7L957.9 530.3L965.0 542.8ZM965.0 542.8L957.9 530.3L950.6 517.7L973.9 508.0L981.3 520.9L988.4 533.4ZM988.4 533.4L981.3 520.9L1004.3 511.4L1011.5 523.9ZM1011.5 523.9L1004.3 511.4L1026.9 501.9L1034.2 514.6ZM1041.2 526.7L1034.2 514.6L1026.9 501.9L1049.4 492.6L1056.8 505.5L1063.9 517.8ZM1063.9 517.8L1056.8 505.5L1079.2 496.7L1086.5 509.2ZM1086.5 509.2L1079.2 496.7L1101.4 487.9L1108.8 500.7ZM1116.1 513.4L1108.8 500.7L1130.4 491.7L1137.7 504.3ZM1137.7 504.3L1130.4 491.7L1122.9 478.7L1143.8 468.9L1151.3 481.9L1158.5 494.3ZM1151.3 481.9L1143.8 468.9L1164.0 458.5L1171.6 471.5ZM1178.6 483.7L1171.6 471.5L1191.4 460.8L1198.4 472.9ZM1198.4 472.9L1191.4 460.8L1210.8 450.2L1217.9 462.3ZM1217.9 462.3L1210.8 450.2L1230.1 439.7L1237.3 452.0ZM1243.6 462.9L1237.3 452.0L1230.1 439.7L1249.1 429.4L1256.5 442.0L1262.8 452.9ZM1262.8 452.9L1256.5 442.0L1249.1 429.4L1267.8 418.9L1275.3 431.7L1281.8 442.8ZM1281.8 442.8L1275.3 431.7L1267.8 418.9L1285.8 407.9L1293.4 420.8L1300.2 432.4ZM1300.2 432.4L1293.4 420.8L1310.8 409.2L1318.0 421.4ZM1324.4 432.4L1318.0 421.4L1310.8 409.2L1328.0 397.6L1335.4 410.3L1342.0 421.5ZM1342.0 421.5L1335.4 410.3L1353.0 400.0L1360.0 411.9ZM1366.9 423.7L1360.0 411.9L1378.5 403.6L1385.5 415.4ZM1392.7 427.7L1385.5 415.4L1378.5 403.6L1397.3 396.3L1404.4 408.3L1411.4 420.2ZM1411.4 420.2L1404.4 408.3L1423.6 402.0L1430.2 413.3ZM1430.2 413.3L1423.6 402.0L1442.8 396.3L1448.8 406.4ZM1448.8 406.4L1442.8 396.3L1462.0 391.0L1466.9 399.3ZM1466.9 399.3L1462.0 391.0L1480.7 385.3L1484.7 392.1ZM1489.6 400.2L1484.7 392.1L1502.2 384.7L1506.2 391.5ZM1506.2 391.5L1502.2 384.7L1519.4 377.2L1522.8 383.0ZM1522.8 383.0L1519.4 377.2L1536.1 369.5L1539.2 374.7Z"/>
<path fill="#20ffdf" stroke="#20ffdf" d="M436.3 761.4L430.2 750.2L459.0 736.8L465.6 748.8ZM472.5 761.2L465.6 748.8L459.0 736.8L488.0 724.5L495.0 737.2L502.2 750.1ZM509.4 763.2L502.2 750.1L495.0 737.2L523.5 724.6L530.7 737.7L537.8 750.5ZM544.0 761.7L537.8 750.5L530.7 737.7L557.7 723.2L564.6 735.6L570.4 746.1ZM564.6 735.6L557.7 723.2L583.7 707.6L590.4 719.7ZM590.4 719.7L583.7 707.6L576.4 694.6L602.2 679.5L609.4 692.4L616.0 704.3ZM616.0 704.3L609.4 692.4L635.2 678.0L641.7 689.7ZM641.7 689.7L635.2 678.0L628.0 665.1L653.6 651.0L660.8 663.9L667.3 675.5ZM667.3 675.5L660.8 663.9L685.9 649.8L692.6 661.6ZM692.6 661.6L685.9 649.8L710.8 635.8L717.5 647.7ZM710.8 635.8L703.5 622.9L728.3 609.5L735.5 622.3ZM735.5 622.3L728.3 609.5L753.2 597.0L760.3 609.7ZM760.3 609.7L753.2 597.0L778.2 585.4L785.1 597.8ZM785.1 597.8L778.2 585.4L803.0 574.2L809.8 586.1ZM809.8 586.1L803.0 574.2L827.2 562.5L833.9 574.4ZM833.9 574.4L827.2 562.5L850.7 550.2L857.6 562.3ZM857.6 562.3L850.7 550.2L873.7 537.7L880.9 550.2ZM880.9 550.2L873.7 537.7L866.3 524.7L889.2 512.6L896.7 525.7L904.0 538.5ZM904.0 538.5L896.7 525.7L919.9 514.7L927.3 527.7ZM927.3 527.7L919.9 514.7L943.2 504.6L950.6 517.7ZM950.6 517.7L943.2 504.6L966.4 495.0L973.9 508.0ZM981.3 520.9L973.9 508.0L996.8 498.4L1004.3 511.4ZM1004.3 511.4L996.8 498.4L1019.5 488.9L1026.9 501.9ZM1026.9 501.9L1019.5 488.9L1042.0 479.6L1049.4 492.6ZM1056.8 505.5L1049.4 492.6L1042.0 479.6L1064.3 470.7L1071.8 483.7L1079.2 496.7ZM1079.2 496.7L1071.8 483.7L1064.3 470.7L1086.4 461.9L1093.9 474.9L1101.4 487.9ZM1108.8 500.7L1101.4 487.9L1093.9 474.9L1086.4 461.9L1107.9 452.7L1115.4 465.7L1122.9 478.7L1130.4 491.7ZM1122.9 478.7L1115.4 465.7L1136.3 455.9L1143.8 468.9ZM1143.8 468.9L1136.3 455.9L1128.8 442.9L1149.0 432.6L1156.5 445.5L1164.0 458.5ZM1171.6 471.5L1164.0 458.5L1156.5 445.5L1176.3 434.9L1183.8 447.9L1191.4 460.8ZM1191.4 460.8L1183.8 447.9L1176.3 434.9L1195.8 424.3L1203.3 437.2L1210.8 450.2ZM1210.8 450.2L1203.3 437.2L1195.8 424.3L1215.0 413.8L1222.5 426.8L1230.1 439.7ZM1230.1 439.7L1222.5 426.8L1241.6 416.4L1249.1 429.4ZM1249.1 429.4L1241.6 416.4L1260.2 406.0L1267.8 418.9ZM1267.8 418.9L1260.2 406.0L1278.3 395.0L1285.8 407.9ZM1293.4 420.8L1285.8 407.9L1278.3 395.0L1295.7 383.4L1303.2 396.3L1310.8 409.2ZM1310.8 409.2L1303.2 396.3L1320.4 384.7L1328.0 397.6ZM1335.4 410.3L1328.0 397.6L1320.4 384.7L1337.9 374.3L1345.5 387.2L1353.0 400.0ZM1360.0 411.9L1353.0 400.0L1345.5 387.2L1363.6 378.3L1371.2 391.2L1378.5 403.6ZM1378.5 403.6L1371.2 391.2L1363.6 378.3L1382.4 370.9L1389.9 383.6L1397.3 396.3ZM1404.4 408.3L1397.3 396.3L1389.9 383.6L1382.4 370.9L1401.5 364.6L1408.8 376.9L1416.4 389.8L1423.6 402.0ZM1423.6 402.0L1416.4 389.8L1408.8 376.9L1428.0 371.2L1435.6 384.1L1442.8 396.3ZM1442.8 396.3L1435.6 384.1L1428.0 371.2L1447.9 367.0L1455.5 379.9L1462.0 391.0ZM1462.0 391.0L1455.5 379.9L1475.6 376.6L1480.7 385.3ZM1484.7 392.1L1480.7 385.3L1475.6 376.6L1494.7 372.0L1498.8 378.9L1502.2 384.7ZM1502.2 384.7L1498.8 378.9L1516.2 372.0L1519.4 377.2ZM1519.4 377.2L1516.2 372.0L1533.1 364.5L1536.1 369.5ZM1539.2 374.7L1536.1 369.5L1533.1 364.5L1549.6 356.8L1552.5 361.6L1555.4 366.5Z"/>
<path fill="#30ffcf" stroke="#30ffcf" d="M430.2 750.2L423.9 738.8L417.7 727.6L446.0 713.2L452.4 724.8L459.0 736.8ZM459.0 736.8L452.4 724.8L446.0 713.2L474.3 699.6L481.0 711.9L488.0 724.5ZM495.0 737.2L488.0 724.5L516.3 711.6L523.5 724.6ZM530.7 737.7L523.5 724.6L516.3 711.6L543.2 697.0L550.4 710.1L557.7 723.2ZM557.7 723.2L550.4 710.1L576.4 694.6L583.7 707.6ZM576.4 694.6L569.1 681.5L595.0 666.4L602.2 679.5ZM609.4 692.4L602.2 679.5L595.0 666.4L620.8 652.2L628.0 665.1L635.2 678.0ZM628.0 665.1L620.8 652.2L646.5 638.4L653.6 651.0ZM660.8 663.9L653.6 651.0L678.7 636.9L685.9 649.8ZM685.9 649.8L678.7 636.9L671.8 624.5L696.6 610.6L703.5 622.9L710.8 635.8ZM703.5 622.9L696.6 610.6L721.3 597.2L728.3 609.5ZM728.3 609.5L721.3 597.2L746.1 584.5L753.2 597.0ZM753.2 597.0L746.1 584.5L739.6 572.9L764.1 560.5L770.9 572.6L778.2 585.4ZM778.2 585.4L770.9 572.6L764.1 560.5L788.5 548.5L795.7 561.2L803.0 574.2ZM803.0 574.2L795.7 561.2L819.9 549.5L827.2 562.5ZM827.2 562.5L819.9 549.5L812.5 536.5L805.4 524.0L828.6 511.3L835.9 524.2L843.4 537.2L850.7 550.2ZM850.7 550.2L843.4 537.2L835.9 524.2L828.6 511.3L851.6 498.7L858.9 511.6L866.3 524.7L873.7 537.7ZM866.3 524.7L858.9 511.6L851.6 498.7L874.6 487.0L881.8 499.6L889.2 512.6ZM896.7 525.7L889.2 512.6L881.8 499.6L874.6 487.0L897.9 476.2L905.0 488.7L912.4 501.7L919.9 514.7ZM919.9 514.7L912.4 501.7L905.0 488.7L928.3 478.6L935.8 491.6L943.2 504.6ZM943.2 504.6L935.8 491.6L928.3 478.6L951.5 468.9L959.0 482.0L966.4 495.0ZM973.9 508.0L966.4 495.0L959.0 482.0L981.9 472.4L989.4 485.4L996.8 498.4ZM996.8 498.4L989.4 485.4L1012.0 475.9L1019.5 488.9ZM1019.5 488.9L1012.0 475.9L1004.5 462.9L1027.0 453.6L1034.5 466.6L1042.0 479.6ZM1042.0 479.6L1034.5 466.6L1056.8 457.7L1064.3 470.7ZM1064.3 470.7L1056.8 457.7L1078.9 448.9L1086.4 461.9ZM1086.4 461.9L1078.9 448.9L1100.4 439.8L1107.9 452.7ZM1115.4 465.7L1107.9 452.7L1100.4 439.8L1121.3 430.0L1128.8 442.9L1136.3 455.9ZM1128.8 442.9L1121.3 430.0L1141.6 419.8L1149.0 432.6ZM1156.5 445.5L1149.0 432.6L1141.6 419.8L1161.5 409.5L1168.8 421.9L1176.3 434.9ZM1176.3 434.9L1168.8 421.9L1188.3 411.4L1195.8 424.3ZM1195.8 424.3L1188.3 411.4L1207.6 401.1L1215.0 413.8ZM1222.5 426.8L1215.0 413.8L1207.6 401.1L1226.8 391.1L1234.0 403.5L1241.6 416.4ZM1241.6 416.4L1234.0 403.5L1252.7 393.1L1260.2 406.0ZM1260.2 406.0L1252.7 393.1L1270.8 382.2L1278.3 395.0ZM1278.3 395.0L1270.8 382.2L1288.6 371.2L1295.7 383.4ZM1303.2 396.3L1295.7 383.4L1288.6 371.2L1306.3 360.7L1313.1 372.2L1320.4 384.7ZM1320.4 384.7L1313.1 372.2L1330.9 362.4L1337.9 374.3ZM1345.5 387.2L1337.9 374.3L1330.9 362.4L1349.6 354.4L1356.3 365.8L1363.6 378.3ZM1363.6 378.3L1356.3 365.8L1375.5 359.2L1382.4 370.9ZM1382.4 370.9L1375.5 359.2L1395.1 353.7L1401.5 364.6ZM1408.8 376.9L1401.5 364.6L1395.1 353.7L1414.9 348.9L1420.8 359.0L1428.0 371.2ZM1428.0 371.2L1420.8 359.0L1414.9 348.9L1434.6 344.6L1440.5 354.6L1447.9 367.0ZM1455.5 379.9L1447.9 367.0L1440.5 354.6L1461.2 352.3L1468.7 364.9L1475.6 376.6ZM1475.6 376.6L1468.7 364.9L1489.5 363.2L1494.7 372.0ZM1498.8 378.9L1494.7 372.0L1512.8 366.1L1516.2 372.0ZM1516.2 372.0L1512.8 366.1L1529.9 359.1L1533.1 364.5ZM1533.1 364.5L1529.9 359.1L1546.6 351.6L1549.6 356.8Z"/>
<path fill="#40ffbf" stroke="#40ffbf" d="M417.7 727.6L411.9 717.0L440.1 702.5L446.0 713.2ZM446.0 713.2L440.1 702.5L468.0 688.4L474.3 699.6ZM488.0 724.5L481.0 711.9L474.3 699.6L468.0 688.4L495.3 673.8L501.9 685.7L509.0 698.5L516.3 711.6ZM516.3 711.6L509.0 698.5L501.9 685.7L495.3 673.8L521.7 658.3L528.6 670.8L535.9 683.9L543.2 697.0ZM550.4 710.1L543.2 697.0L535.9 683.9L528.6 670.8L554.6 655.3L561.8 668.4L569.1 681.5L576.4 694.6ZM569.1 681.5L561.8 668.4L554.6 655.3L580.5 640.4L587.7 653.4L595.0 666.4ZM595.0 666.4L587.7 653.4L580.5 640.4L606.6 626.8L613.7 639.5L620.8 652.2ZM620.8 652.2L613.7 639.5L606.6 626.8L632.9 614.1L639.7 626.2L646.5 638.4ZM653.6 651.0L646.5 638.4L639.7 626.2L632.9 614.1L658.9 601.4L665.2 612.8L671.8 624.5L678.7 636.9ZM671.8 624.5L665.2 612.8L690.3 599.3L696.6 610.6ZM696.6 610.6L690.3 599.3L684.2 588.6L709.1 575.5L715.0 585.9L721.3 597.2ZM721.3 597.2L715.0 585.9L709.1 575.5L733.6 562.4L739.6 572.9L746.1 584.5ZM739.6 572.9L733.6 562.4L757.8 549.4L764.1 560.5ZM764.1 560.5L757.8 549.4L781.8 536.7L788.5 548.5ZM795.7 561.2L788.5 548.5L781.8 536.7L775.8 526.1L799.0 512.8L805.4 524.0L812.5 536.5L819.9 549.5ZM805.4 524.0L799.0 512.8L821.9 499.4L828.6 511.3ZM828.6 511.3L821.9 499.4L844.7 486.6L851.6 498.7ZM851.6 498.7L844.7 486.6L867.9 475.1L874.6 487.0ZM874.6 487.0L867.9 475.1L891.4 464.9L897.9 476.2ZM905.0 488.7L897.9 476.2L891.4 464.9L914.9 455.2L921.2 466.1L928.3 478.6ZM928.3 478.6L921.2 466.1L944.3 456.3L951.5 468.9ZM959.0 482.0L951.5 468.9L944.3 456.3L967.0 446.4L974.4 459.3L981.9 472.4ZM989.4 485.4L981.9 472.4L974.4 459.3L967.0 446.4L989.6 436.9L997.1 449.9L1004.5 462.9L1012.0 475.9ZM1004.5 462.9L997.1 449.9L989.6 436.9L1012.0 427.6L1019.5 440.6L1027.0 453.6ZM1034.5 466.6L1027.0 453.6L1019.5 440.6L1041.8 431.7L1049.3 444.7L1056.8 457.7ZM1056.8 457.7L1049.3 444.7L1071.4 435.9L1078.9 448.9ZM1078.9 448.9L1071.4 435.9L1093.0 427.0L1100.4 439.8ZM1100.4 439.8L1093.0 427.0L1114.0 417.5L1121.3 430.0ZM1121.3 430.0L1114.0 417.5L1134.5 407.5L1141.6 419.8ZM1141.6 419.8L1134.5 407.5L1154.6 397.5L1161.5 409.5ZM1168.8 421.9L1161.5 409.5L1181.2 399.3L1188.3 411.4ZM1188.3 411.4L1181.2 399.3L1200.8 389.5L1207.6 401.1ZM1207.6 401.1L1200.8 389.5L1220.3 379.9L1226.8 391.1ZM1234.0 403.5L1226.8 391.1L1220.3 379.9L1239.4 370.2L1245.7 381.0L1252.7 393.1ZM1252.7 393.1L1245.7 381.0L1264.1 370.7L1270.8 382.2ZM1270.8 382.2L1264.1 370.7L1282.1 360.1L1288.6 371.2ZM1288.6 371.2L1282.1 360.1L1300.0 349.9L1306.3 360.7ZM1313.1 372.2L1306.3 360.7L1324.6 351.5L1330.9 362.4ZM1330.9 362.4L1324.6 351.5L1318.4 341.0L1337.2 333.3L1343.4 343.8L1349.6 354.4ZM1356.3 365.8L1349.6 354.4L1343.4 343.8L1362.7 337.5L1369.0 348.1L1375.5 359.2ZM1375.5 359.2L1369.0 348.1L1389.1 343.5L1395.1 353.7ZM1395.1 353.7L1389.1 343.5L1409.5 339.8L1414.9 348.9ZM1414.9 348.9L1409.5 339.8L1429.6 336.2L1434.6 344.6ZM1440.5 354.6L1434.6 344.6L1454.8 341.4L1461.2 352.3ZM1468.7 364.9L1461.2 352.3L1454.8 341.4L1449.8 333.0L1470.3 330.7L1475.9 340.2L1482.8 352.0L1489.5 363.2ZM1494.7 372.0L1489.5 363.2L1482.8 352.0L1503.6 350.7L1508.7 359.2L1512.8 366.1ZM1512.8 366.1L1508.7 359.2L1526.4 353.1L1529.9 359.1ZM1529.9 359.1L1526.4 353.1L1543.2 346.0L1546.6 351.6Z"/>
<path fill="#50ffaf" stroke="#50ffaf" d="M411.9 717.0L406.3 706.8L400.8 696.9L429.3 682.9L434.5 692.5L440.1 702.5ZM440.1 702.5L434.5 692.5L462.4 678.1L468.0 688.4ZM468.0 688.4L462.4 678.1L489.3 662.9L495.3 673.8ZM495.3 673.8L489.3 662.9L515.3 646.7L521.7 658.3ZM528.6 670.8L521.7 658.3L547.4 642.5L554.6 655.3ZM554.6 655.3L547.4 642.5L573.3 627.5L580.5 640.4ZM580.5 640.4L573.3 627.5L599.5 614.1L606.6 626.8ZM606.6 626.8L599.5 614.1L626.0 601.8L632.9 614.1ZM632.9 614.1L626.0 601.8L652.4 589.9L658.9 601.4ZM665.2 612.8L658.9 601.4L684.2 588.6L690.3 599.3ZM684.2 588.6L678.2 577.8L703.4 565.2L709.1 575.5ZM709.1 575.5L703.4 565.2L728.0 552.4L733.6 562.4ZM733.6 562.4L728.0 552.4L752.2 539.3L757.8 549.4ZM757.8 549.4L752.2 539.3L746.7 529.7L770.3 516.3L775.8 526.1L781.8 536.7ZM775.8 526.1L770.3 516.3L793.2 502.5L799.0 512.8ZM799.0 512.8L793.2 502.5L815.7 488.5L821.9 499.4ZM821.9 499.4L815.7 488.5L809.8 478.2L831.9 464.1L838.2 475.2L844.7 486.6ZM844.7 486.6L838.2 475.2L831.9 464.1L854.5 451.7L861.2 463.5L867.9 475.1ZM867.9 475.1L861.2 463.5L854.5 451.7L878.3 442.0L885.1 453.7L891.4 464.9ZM891.4 464.9L885.1 453.7L908.9 444.6L914.9 455.2ZM921.2 466.1L914.9 455.2L908.9 444.6L932.2 435.1L938.0 445.3L944.3 456.3ZM944.3 456.3L938.0 445.3L960.5 435.0L967.0 446.4ZM967.0 446.4L960.5 435.0L982.7 424.8L989.6 436.9ZM989.6 436.9L982.7 424.8L1004.8 415.0L1012.0 427.6ZM1019.5 440.6L1012.0 427.6L1004.8 415.0L1026.9 405.8L1034.3 418.7L1041.8 431.7ZM1049.3 444.7L1041.8 431.7L1034.3 418.7L1056.4 410.0L1063.9 423.0L1071.4 435.9ZM1071.4 435.9L1063.9 423.0L1056.4 410.0L1078.1 401.1L1085.6 414.1L1093.0 427.0ZM1093.0 427.0L1085.6 414.1L1106.7 404.8L1114.0 417.5ZM1114.0 417.5L1106.7 404.8L1127.3 395.1L1134.5 407.5ZM1134.5 407.5L1127.3 395.1L1147.5 385.3L1154.6 397.5ZM1161.5 409.5L1154.6 397.5L1147.5 385.3L1167.5 375.7L1174.5 387.6L1181.2 399.3ZM1181.2 399.3L1174.5 387.6L1194.3 378.2L1200.8 389.5ZM1200.8 389.5L1194.3 378.2L1213.9 368.9L1220.3 379.9ZM1245.7 381.0L1239.4 370.2L1257.9 360.0L1264.1 370.7ZM1264.1 370.7L1257.9 360.0L1275.9 349.5L1282.1 360.1ZM1282.1 360.1L1275.9 349.5L1293.7 339.2L1300.0 349.9ZM1306.3 360.7L1300.0 349.9L1293.7 339.2L1311.9 330.0L1318.4 341.0L1324.6 351.5ZM1343.4 343.8L1337.2 333.3L1356.4 326.8L1362.7 337.5ZM1369.0 348.1L1362.7 337.5L1356.4 326.8L1376.2 321.7L1382.9 332.9L1389.1 343.5ZM1389.1 343.5L1382.9 332.9L1403.7 330.0L1409.5 339.8ZM1409.5 339.8L1403.7 330.0L1424.7 327.8L1429.6 336.2ZM1434.6 344.6L1429.6 336.2L1424.7 327.8L1445.2 325.3L1449.8 333.0L1454.8 341.4ZM1449.8 333.0L1445.2 325.3L1465.6 322.9L1470.3 330.7ZM1482.8 352.0L1475.9 340.2L1470.3 330.7L1491.5 330.2L1497.6 340.5L1503.6 350.7ZM1508.7 359.2L1503.6 350.7L1497.6 340.5L1517.5 338.2L1522.3 346.3L1526.4 353.1ZM1526.4 353.1L1522.3 346.3L1517.5 338.2L1535.5 332.9L1539.6 339.9L1543.2 346.0Z"/>
<path fill="#60ff9f" stroke="#60ff9f" d="M400.8 696.9L395.2 686.8L424.1 673.5L429.3 682.9ZM434.5 692.5L429.3 682.9L424.1 673.5L452.0 659.4L457.1 668.6L462.4 678.1ZM462.4 678.1L457.1 668.6L483.8 652.9L489.3 662.9ZM489.3 662.9L483.8 652.9L509.3 636.0L515.3 646.7ZM521.7 658.3L515.3 646.7L509.3 636.0L534.3 618.8L540.7 630.3L547.4 642.5ZM547.4 642.5L540.7 630.3L534.3 618.8L559.6 603.0L566.3 615.1L573.3 627.5ZM573.3 627.5L566.3 615.1L559.6 603.0L585.5 589.0L592.5 601.5L599.5 614.1ZM599.5 614.1L592.5 601.5L619.0 589.3L626.0 601.8ZM626.0 601.8L619.0 589.3L611.9 576.6L638.5 565.2L645.6 577.8L652.4 589.9ZM658.9 601.4L652.4 589.9L645.6 577.8L671.9 566.5L678.2 577.8L684.2 588.6ZM678.2 577.8L671.9 566.5L697.5 554.8L703.4 565.2ZM703.4 565.2L697.5 554.8L691.2 543.6L716.6 532.2L722.4 542.5L728.0 552.4ZM728.0 552.4L722.4 542.5L716.6 532.2L741.2 519.9L746.7 529.7L752.2 539.3ZM746.7 529.7L741.2 519.9L735.3 509.5L759.2 496.8L764.8 506.7L770.3 516.3ZM770.3 516.3L764.8 506.7L759.2 496.8L782.1 482.8L787.7 492.7L793.2 502.5ZM793.2 502.5L787.7 492.7L782.1 482.8L804.1 468.0L809.8 478.2L815.7 488.5ZM809.8 478.2L804.1 468.0L825.8 453.3L831.9 464.1ZM831.9 464.1L825.8 453.3L847.9 440.1L854.5 451.7ZM854.5 451.7L847.9 440.1L871.5 429.9L878.3 442.0ZM885.1 453.7L878.3 442.0L871.5 429.9L896.1 422.2L902.6 433.7L908.9 444.6ZM908.9 444.6L902.6 433.7L926.3 424.9L932.2 435.1ZM938.0 445.3L932.2 435.1L926.3 424.9L949.1 415.2L954.7 424.9L960.5 435.0ZM960.5 435.0L954.7 424.9L976.7 414.4L982.7 424.8ZM982.7 424.8L976.7 414.4L971.1 404.6L992.6 393.7L998.4 404.0L1004.8 415.0ZM1004.8 415.0L998.4 404.0L1020.1 393.9L1026.9 405.8ZM1034.3 418.7L1026.9 405.8L1020.1 393.9L1041.7 384.4L1048.9 397.0L1056.4 410.0ZM1056.4 410.0L1048.9 397.0L1041.7 384.4L1063.1 375.2L1070.6 388.1L1078.1 401.1ZM1085.6 414.1L1078.1 401.1L1070.6 388.1L1091.7 378.8L1099.2 391.8L1106.7 404.8ZM1106.7 404.8L1099.2 391.8L1091.7 378.8L1112.3 369.3L1119.9 382.3L1127.3 395.1ZM1127.3 395.1L1119.9 382.3L1112.3 369.3L1132.7 359.8L1140.2 372.6L1147.5 385.3ZM1147.5 385.3L1140.2 372.6L1132.7 359.8L1152.9 350.5L1160.2 363.2L1167.5 375.7ZM1174.5 387.6L1167.5 375.7L1160.2 363.2L1180.2 354.0L1187.4 366.4L1194.3 378.2ZM1194.3 378.2L1187.4 366.4L1180.2 354.0L1200.0 345.2L1207.1 357.4L1213.9 368.9ZM1220.3 379.9L1213.9 368.9L1207.1 357.4L1200.0 345.2L1219.5 336.3L1226.5 348.2L1233.1 359.6L1239.4 370.2ZM1239.4 370.2L1233.1 359.6L1226.5 348.2L1245.2 338.3L1251.7 349.5L1257.9 360.0ZM1257.9 360.0L1251.7 349.5L1269.6 338.8L1275.9 349.5ZM1275.9 349.5L1269.6 338.8L1263.2 327.8L1281.1 317.6L1287.4 328.3L1293.7 339.2ZM1293.7 339.2L1287.4 328.3L1305.4 318.9L1311.9 330.0ZM1318.4 341.0L1311.9 330.0L1330.7 322.2L1337.2 333.3ZM1337.2 333.3L1330.7 322.2L1349.8 315.6L1356.4 326.8ZM1356.4 326.8L1349.8 315.6L1369.4 310.1L1376.2 321.7ZM1382.9 332.9L1376.2 321.7L1397.0 318.6L1403.7 330.0ZM1403.7 330.0L1397.0 318.6L1389.8 306.4L1411.3 305.2L1418.7 317.6L1424.7 327.8ZM1424.7 327.8L1418.7 317.6L1440.3 316.9L1445.2 325.3ZM1445.2 325.3L1440.3 316.9L1461.2 315.4L1465.6 322.9ZM1470.3 330.7L1465.6 322.9L1461.2 315.4L1481.8 313.9L1486.4 321.6L1491.5 330.2ZM1497.6 340.5L1491.5 330.2L1486.4 321.6L1506.8 320.1L1512.1 329.1L1517.5 338.2ZM1517.5 338.2L1512.1 329.1L1530.8 325.1L1535.5 332.9Z"/>
<path fill="#70ff8f" stroke="#70ff8f" d="M395.2 686.8L389.3 676.0L382.8 664.2L412.5 652.6L418.6 663.6L424.1 673.5ZM424.1 673.5L418.6 663.6L446.9 650.2L452.0 659.4ZM457.1 668.6L452.0 659.4L446.9 650.2L473.4 634.2L478.5 643.5L483.8 652.9ZM483.8 652.9L478.5 643.5L473.4 634.2L498.2 616.0L503.7 625.9L509.3 636.0ZM509.3 636.0L503.7 625.9L528.2 607.8L534.3 618.8ZM534.3 618.8L528.2 607.8L553.0 591.1L559.6 603.0ZM559.6 603.0L553.0 591.1L578.5 576.4L585.5 589.0ZM592.5 601.5L585.5 589.0L578.5 576.4L604.7 563.6L611.9 576.6L619.0 589.3ZM611.9 576.6L604.7 563.6L631.2 552.1L638.5 565.2ZM645.6 577.8L638.5 565.2L631.2 552.1L657.8 541.5L665.1 554.4L671.9 566.5ZM671.9 566.5L665.1 554.4L691.2 543.6L697.5 554.8ZM691.2 543.6L684.3 531.2L710.2 520.8L716.6 532.2ZM716.6 532.2L710.2 520.8L703.2 508.4L728.8 498.0L735.3 509.5L741.2 519.9ZM735.3 509.5L728.8 498.0L753.2 486.2L759.2 496.8ZM759.2 496.8L753.2 486.2L776.3 472.7L782.1 482.8ZM782.1 482.8L776.3 472.7L798.4 457.9L804.1 468.0ZM804.1 468.0L798.4 457.9L819.8 442.9L825.8 453.3ZM825.8 453.3L819.8 442.9L841.6 429.0L847.9 440.1ZM847.9 440.1L841.6 429.0L864.8 418.3L871.5 429.9ZM871.5 429.9L864.8 418.3L889.5 410.7L896.1 422.2ZM902.6 433.7L896.1 422.2L920.3 414.5L926.3 424.9ZM926.3 424.9L920.3 414.5L943.5 405.4L949.1 415.2ZM954.7 424.9L949.1 415.2L943.5 405.4L965.6 395.1L971.1 404.6L976.7 414.4ZM971.1 404.6L965.6 395.1L986.9 384.0L992.6 393.7ZM998.4 404.0L992.6 393.7L986.9 384.0L1007.9 372.9L1013.8 383.1L1020.1 393.9ZM1020.1 393.9L1013.8 383.1L1007.9 372.9L1028.9 362.4L1035.0 373.0L1041.7 384.4ZM1041.7 384.4L1035.0 373.0L1056.3 363.4L1063.1 375.2ZM1070.6 388.1L1063.1 375.2L1056.3 363.4L1077.4 354.2L1084.2 365.9L1091.7 378.8ZM1091.7 378.8L1084.2 365.9L1104.9 356.5L1112.3 369.3ZM1112.3 369.3L1104.9 356.5L1125.5 347.3L1132.7 359.8ZM1132.7 359.8L1125.5 347.3L1146.0 338.6L1152.9 350.5ZM1160.2 363.2L1152.9 350.5L1173.0 341.7L1180.2 354.0ZM1180.2 354.0L1173.0 341.7L1166.5 330.5L1187.0 322.8L1193.1 333.3L1200.0 345.2ZM1200.0 345.2L1193.1 333.3L1212.9 324.9L1219.5 336.3ZM1226.5 348.2L1219.5 336.3L1238.4 326.8L1245.2 338.3ZM1251.7 349.5L1245.2 338.3L1238.4 326.8L1256.8 317.0L1263.2 327.8L1269.6 338.8ZM1263.2 327.8L1256.8 317.0L1275.2 307.6L1281.1 317.6ZM1287.4 328.3L1281.1 317.6L1299.3 308.6L1305.4 318.9ZM1311.9 330.0L1305.4 318.9L1299.3 308.6L1318.1 300.9L1324.1 311.0L1330.7 322.2ZM1330.7 322.2L1324.1 311.0L1318.1 300.9L1337.4 294.4L1343.3 304.4L1349.8 315.6ZM1376.2 321.7L1369.4 310.1L1362.9 299.1L1383.0 294.9L1389.8 306.4L1397.0 318.6ZM1389.8 306.4L1383.0 294.9L1403.9 292.6L1411.3 305.2ZM1418.7 317.6L1411.3 305.2L1433.7 305.8L1440.3 316.9ZM1440.3 316.9L1433.7 305.8L1456.0 306.6L1461.2 315.4ZM1461.2 315.4L1456.0 306.6L1477.2 306.2L1481.8 313.9ZM1486.4 321.6L1481.8 313.9L1502.1 312.2L1506.8 320.1ZM1512.1 329.1L1506.8 320.1L1502.1 312.2L1521.2 309.0L1525.9 316.9L1530.8 325.1Z"/>
<path fill="#80ff80" stroke="#80ff80" d="M382.8 664.2L376.0 651.8L405.6 639.9L412.5 652.6ZM418.6 663.6L412.5 652.6L441.3 639.9L446.9 650.2ZM446.9 650.2L441.3 639.9L467.7 623.9L473.4 634.2ZM473.4 634.2L467.7 623.9L492.0 604.8L498.2 616.0ZM503.7 625.9L498.2 616.0L492.0 604.8L515.3 584.7L522.2 597.0L528.2 607.8ZM528.2 607.8L522.2 597.0L546.4 579.3L553.0 591.1ZM553.0 591.1L546.4 579.3L571.5 563.8L578.5 576.4ZM578.5 576.4L571.5 563.8L597.4 550.6L604.7 563.6ZM604.7 563.6L597.4 550.6L623.9 539.1L631.2 552.1ZM631.2 552.1L623.9 539.1L650.5 528.4L657.8 541.5ZM665.1 554.4L657.8 541.5L650.5 528.4L677.0 518.3L684.3 531.2L691.2 543.6ZM684.3 531.2L677.0 518.3L669.6 505.2L695.9 495.5L703.2 508.4L710.2 520.8ZM728.8 498.0L721.8 485.7L746.8 474.8L753.2 486.2ZM753.2 486.2L746.8 474.8L770.4 462.2L776.3 472.7ZM776.3 472.7L770.4 462.2L792.6 447.8L798.4 457.9ZM798.4 457.9L792.6 447.8L814.0 432.7L819.8 442.9ZM819.8 442.9L814.0 432.7L835.6 418.4L841.6 429.0ZM841.6 429.0L835.6 418.4L858.4 407.0L864.8 418.3ZM864.8 418.3L858.4 407.0L851.6 395.1L876.7 388.3L883.0 399.4L889.5 410.7ZM896.1 422.2L889.5 410.7L883.0 399.4L908.1 393.1L914.3 403.9L920.3 414.5ZM920.3 414.5L914.3 403.9L938.0 395.7L943.5 405.4ZM943.5 405.4L938.0 395.7L960.2 385.7L965.6 395.1ZM965.6 395.1L960.2 385.7L981.5 374.5L986.9 384.0ZM986.9 384.0L981.5 374.5L1002.1 362.8L1007.9 372.9ZM1007.9 372.9L1002.1 362.8L1022.8 351.8L1028.9 362.4ZM1035.0 373.0L1028.9 362.4L1022.8 351.8L1043.9 342.0L1050.1 352.7L1056.3 363.4ZM1056.3 363.4L1050.1 352.7L1071.2 343.4L1077.4 354.2ZM1084.2 365.9L1077.4 354.2L1071.2 343.4L1092.1 334.4L1098.3 345.1L1104.9 356.5ZM1104.9 356.5L1098.3 345.1L1119.0 336.3L1125.5 347.3ZM1125.5 347.3L1119.0 336.3L1139.7 327.9L1146.0 338.6ZM1152.9 350.5L1146.0 338.6L1139.7 327.9L1160.5 320.2L1166.5 330.5L1173.0 341.7ZM1166.5 330.5L1160.5 320.2L1181.2 312.8L1187.0 322.8ZM1193.1 333.3L1187.0 322.8L1207.0 314.8L1212.9 324.9ZM1219.5 336.3L1212.9 324.9L1207.0 314.8L1226.5 306.4L1232.2 316.1L1238.4 326.8ZM1238.4 326.8L1232.2 316.1L1251.0 307.0L1256.8 317.0ZM1256.8 317.0L1251.0 307.0L1269.8 298.3L1275.2 307.6ZM1281.1 317.6L1275.2 307.6L1269.8 298.3L1288.7 290.5L1293.9 299.2L1299.3 308.6ZM1299.3 308.6L1293.9 299.2L1312.9 291.9L1318.1 300.9ZM1318.1 300.9L1312.9 291.9L1332.2 285.6L1337.4 294.4ZM1349.8 315.6L1343.3 304.4L1337.4 294.4L1332.2 285.6L1352.0 280.5L1357.1 289.1L1362.9 299.1L1369.4 310.1ZM1362.9 299.1L1357.1 289.1L1377.2 285.2L1383.0 294.9ZM1383.0 294.9L1377.2 285.2L1397.9 282.4L1403.9 292.6ZM1411.3 305.2L1403.9 292.6L1397.9 282.4L1419.0 281.0L1426.1 292.9L1433.7 305.8ZM1433.7 305.8L1426.1 292.9L1419.0 281.0L1441.4 281.9L1448.9 294.6L1456.0 306.6ZM1456.0 306.6L1448.9 294.6L1471.6 296.7L1477.2 306.2ZM1481.8 313.9L1477.2 306.2L1497.5 304.4L1502.1 312.2ZM1502.1 312.2L1497.5 304.4L1516.7 301.4L1521.2 309.0Z"/>
<path fill="#8fff70" stroke="#8fff70" d="M412.5 652.6L405.6 639.9L434.2 627.2L441.3 639.9ZM441.3 639.9L434.2 627.2L460.6 611.1L467.7 623.9ZM522.2 597.0L515.3 584.7L539.2 566.4L546.4 579.3ZM546.4 579.3L539.2 566.4L564.2 550.7L571.5 563.8ZM571.5 563.8L564.2 550.7L590.1 537.6L597.4 550.6ZM597.4 550.6L590.1 537.6L582.8 524.5L609.2 512.9L616.5 526.0L623.9 539.1ZM623.9 539.1L616.5 526.0L609.2 512.9L635.8 502.2L643.1 515.3L650.5 528.4ZM650.5 528.4L643.1 515.3L669.6 505.2L677.0 518.3ZM669.6 505.2L662.2 492.1L688.6 482.4L695.9 495.5ZM703.2 508.4L695.9 495.5L688.6 482.4L714.5 472.6L721.8 485.7L728.8 498.0ZM721.8 485.7L714.5 472.6L739.6 462.2L746.8 474.8ZM746.8 474.8L739.6 462.2L763.6 450.3L770.4 462.2ZM770.4 462.2L763.6 450.3L786.1 436.4L792.6 447.8ZM792.6 447.8L786.1 436.4L807.4 421.0L814.0 432.7ZM814.0 432.7L807.4 421.0L828.6 406.2L835.6 418.4ZM835.6 418.4L828.6 406.2L851.6 395.1L858.4 407.0ZM851.6 395.1L844.9 383.3L870.5 377.4L876.7 388.3ZM883.0 399.4L876.7 388.3L902.3 382.9L908.1 393.1ZM914.3 403.9L908.1 393.1L932.1 385.5L938.0 395.7ZM938.0 395.7L932.1 385.5L954.5 375.7L960.2 385.7ZM960.2 385.7L954.5 375.7L975.7 364.4L981.5 374.5ZM981.5 374.5L975.7 364.4L996.4 352.9L1002.1 362.8ZM1002.1 362.8L996.4 352.9L1017.2 342.1L1022.8 351.8ZM1050.1 352.7L1043.9 342.0L1065.2 333.0L1071.2 343.4ZM1071.2 343.4L1065.2 333.0L1086.4 324.5L1092.1 334.4ZM1098.3 345.1L1092.1 334.4L1113.0 325.9L1119.0 336.3ZM1119.0 336.3L1113.0 325.9L1107.5 316.4L1128.7 308.8L1133.9 317.9L1139.7 327.9ZM1139.7 327.9L1133.9 317.9L1154.9 310.5L1160.5 320.2ZM1160.5 320.2L1154.9 310.5L1175.8 303.6L1181.2 312.8ZM1187.0 322.8L1181.2 312.8L1175.8 303.6L1196.4 296.6L1201.5 305.3L1207.0 314.8ZM1207.0 314.8L1201.5 305.3L1221.2 297.3L1226.5 306.4ZM1232.2 316.1L1226.5 306.4L1245.6 297.7L1251.0 307.0ZM1251.0 307.0L1245.6 297.7L1264.6 289.5L1269.8 298.3ZM1269.8 298.3L1264.6 289.5L1283.9 282.3L1288.7 290.5ZM1293.9 299.2L1288.7 290.5L1308.0 283.6L1312.9 291.9ZM1312.9 291.9L1308.0 283.6L1327.5 277.5L1332.2 285.6ZM1332.2 285.6L1327.5 277.5L1347.3 272.6L1352.0 280.5ZM1357.1 289.1L1352.0 280.5L1372.2 276.6L1377.2 285.2ZM1377.2 285.2L1372.2 276.6L1392.9 274.1L1397.9 282.4ZM1397.9 282.4L1392.9 274.1L1413.8 272.2L1419.0 281.0ZM1419.0 281.0L1413.8 272.2L1435.1 271.3L1441.4 281.9ZM1448.9 294.6L1441.4 281.9L1435.1 271.3L1457.3 272.6L1464.4 284.5L1471.6 296.7ZM1477.2 306.2L1471.6 296.7L1464.4 284.5L1486.3 285.6L1492.5 296.0L1497.5 304.4ZM1497.5 304.4L1492.5 296.0L1511.7 292.9L1516.7 301.4Z"/>
<path fill="#9fff60" stroke="#9fff60" d="M376.0 651.8L368.9 638.9L361.7 625.8L391.2 613.9L398.4 627.0L405.6 639.9ZM405.6 639.9L398.4 627.0L427.0 614.2L434.2 627.2ZM434.2 627.2L427.0 614.2L453.3 598.0L460.6 611.1ZM467.7 623.9L460.6 611.1L453.3 598.0L477.5 578.6L484.7 591.7L492.0 604.8ZM492.0 604.8L484.7 591.7L477.5 578.6L500.7 558.4L508.0 571.5L515.3 584.7ZM515.3 584.7L508.0 571.5L531.9 553.3L539.2 566.4ZM539.2 566.4L531.9 553.3L556.9 537.6L564.2 550.7ZM564.2 550.7L556.9 537.6L549.7 524.8L575.6 511.7L582.8 524.5L590.1 537.6ZM582.8 524.5L575.6 511.7L602.0 500.0L609.2 512.9ZM609.2 512.9L602.0 500.0L628.4 489.2L635.8 502.2ZM643.1 515.3L635.8 502.2L628.4 489.2L654.9 479.0L662.2 492.1L669.6 505.2ZM662.2 492.1L654.9 479.0L681.2 469.3L688.6 482.4ZM688.6 482.4L681.2 469.3L673.9 456.3L699.7 446.5L707.1 459.6L714.5 472.6ZM714.5 472.6L707.1 459.6L699.7 446.5L724.9 436.1L732.3 449.1L739.6 462.2ZM739.6 462.2L732.3 449.1L724.9 436.1L748.8 424.2L756.2 437.2L763.6 450.3ZM763.6 450.3L756.2 437.2L778.7 423.3L786.1 436.4ZM786.1 436.4L778.7 423.3L800.0 408.0L807.4 421.0ZM807.4 421.0L800.0 408.0L821.4 393.6L828.6 406.2ZM828.6 406.2L821.4 393.6L815.2 382.6L839.2 373.3L844.9 383.3L851.6 395.1ZM844.9 383.3L839.2 373.3L865.2 368.1L870.5 377.4ZM876.7 388.3L870.5 377.4L896.9 373.5L902.3 382.9ZM908.1 393.1L902.3 382.9L926.7 376.0L932.1 385.5ZM932.1 385.5L926.7 376.0L949.4 366.8L954.5 375.7ZM954.5 375.7L949.4 366.8L970.8 356.0L975.7 364.4ZM975.7 364.4L970.8 356.0L991.6 344.6L996.4 352.9ZM996.4 352.9L991.6 344.6L1012.5 333.8L1017.2 342.1ZM1022.8 351.8L1017.2 342.1L1038.4 332.4L1043.9 342.0ZM1043.9 342.0L1038.4 332.4L1059.8 323.8L1065.2 333.0ZM1065.2 333.0L1059.8 323.8L1081.3 315.7L1086.4 324.5ZM1092.1 334.4L1086.4 324.5L1107.5 316.4L1113.0 325.9ZM1133.9 317.9L1128.7 308.8L1149.9 301.9L1154.9 310.5ZM1154.9 310.5L1149.9 301.9L1171.0 295.4L1175.8 303.6ZM1175.8 303.6L1171.0 295.4L1191.9 288.8L1196.4 296.6ZM1201.5 305.3L1196.4 296.6L1216.4 289.1L1221.2 297.3ZM1226.5 306.4L1221.2 297.3L1240.5 289.1L1245.6 297.7ZM1245.6 297.7L1240.5 289.1L1259.9 281.5L1264.6 289.5ZM1264.6 289.5L1259.9 281.5L1279.6 274.8L1283.9 282.3ZM1288.7 290.5L1283.9 282.3L1303.5 275.9L1308.0 283.6ZM1308.0 283.6L1303.5 275.9L1323.1 270.2L1327.5 277.5ZM1327.5 277.5L1323.1 270.2L1343.1 265.5L1347.3 272.6ZM1352.0 280.5L1347.3 272.6L1367.8 269.1L1372.2 276.6ZM1372.2 276.6L1367.8 269.1L1388.7 266.8L1392.9 274.1ZM1392.9 274.1L1388.7 266.8L1409.6 265.1L1413.8 272.2ZM1464.4 284.5L1457.3 272.6L1479.4 273.9L1486.3 285.6ZM1492.5 296.0L1486.3 285.6L1506.1 283.6L1511.7 292.9Z"/>
<path fill="#afff50" stroke="#afff50" d="M361.7 625.8L354.4 612.7L347.2 599.5L376.7 587.6L383.9 600.7L391.2 613.9ZM398.4 627.0L391.2 613.9L383.9 600.7L412.5 588.0L419.8 601.1L427.0 614.2ZM427.0 614.2L419.8 601.1L412.5 588.0L438.8 571.7L446.1 584.9L453.3 598.0ZM453.3 598.0L446.1 584.9L470.2 565.5L477.5 578.6ZM477.5 578.6L470.2 565.5L493.5 545.5L500.7 558.4ZM508.0 571.5L500.7 558.4L524.6 540.2L531.9 553.3ZM531.9 553.3L524.6 540.2L549.7 524.8L556.9 537.6ZM549.7 524.8L543.0 512.9L569.0 499.8L575.6 511.7ZM575.6 511.7L569.0 499.8L595.2 487.8L602.0 500.0ZM602.0 500.0L595.2 487.8L621.4 476.6L628.4 489.2ZM628.4 489.2L621.4 476.6L647.6 466.2L654.9 479.0ZM654.9 479.0L647.6 466.2L673.9 456.3L681.2 469.3ZM673.9 456.3L666.5 443.3L692.4 433.5L699.7 446.5ZM699.7 446.5L692.4 433.5L717.5 423.0L724.9 436.1ZM724.9 436.1L717.5 423.0L741.4 411.1L748.8 424.2ZM756.2 437.2L748.8 424.2L771.3 410.3L778.7 423.3ZM778.7 423.3L771.3 410.3L792.9 395.5L800.0 408.0ZM800.0 408.0L792.9 395.5L786.3 384.0L809.8 373.2L815.2 382.6L821.4 393.6ZM815.2 382.6L809.8 373.2L834.4 364.9L839.2 373.3ZM870.5 377.4L865.2 368.1L891.9 364.8L896.9 373.5ZM902.3 382.9L896.9 373.5L921.9 367.7L926.7 376.0ZM926.7 376.0L921.9 367.7L945.0 359.1L949.4 366.8ZM949.4 366.8L945.0 359.1L966.6 348.6L970.8 356.0ZM991.6 344.6L987.5 337.4L1008.2 326.4L1012.5 333.8ZM1017.2 342.1L1012.5 333.8L1033.6 324.1L1038.4 332.4ZM1038.4 332.4L1033.6 324.1L1055.0 315.5L1059.8 323.8ZM1086.4 324.5L1081.3 315.7L1102.6 308.0L1107.5 316.4ZM1107.5 316.4L1102.6 308.0L1124.0 300.7L1128.7 308.8ZM1128.7 308.8L1124.0 300.7L1145.3 294.0L1149.9 301.9ZM1149.9 301.9L1145.3 294.0L1166.6 287.8L1171.0 295.4ZM1171.0 295.4L1166.6 287.8L1187.6 281.6L1191.9 288.8ZM1196.4 296.6L1191.9 288.8L1212.1 281.7L1216.4 289.1ZM1221.2 297.3L1216.4 289.1L1212.1 281.7L1232.0 274.5L1236.1 281.5L1240.5 289.1ZM1240.5 289.1L1236.1 281.5L1255.7 274.3L1259.9 281.5ZM1259.9 281.5L1255.7 274.3L1275.5 268.0L1279.6 274.8ZM1283.9 282.3L1279.6 274.8L1275.5 268.0L1295.5 262.4L1299.4 268.9L1303.5 275.9ZM1303.5 275.9L1299.4 268.9L1319.2 263.5L1323.1 270.2ZM1323.1 270.2L1319.2 263.5L1339.2 258.8L1343.1 265.5ZM1347.3 272.6L1343.1 265.5L1363.7 262.2L1367.8 269.1ZM1367.8 269.1L1363.7 262.2L1384.8 260.3L1388.7 266.8ZM1388.7 266.8L1384.8 260.3L1405.9 258.7L1409.6 265.1ZM1413.8 272.2L1409.6 265.1L1430.5 263.7L1435.1 271.3ZM1435.1 271.3L1430.5 263.7L1451.9 263.5L1457.3 272.6ZM1457.3 272.6L1451.9 263.5L1473.1 263.4L1479.4 273.9ZM1486.3 285.6L1479.4 273.9L1499.7 272.8L1506.1 283.6Z"/>
<path fill="#bfff40" stroke="#bfff40" d="M347.2 599.5L340.0 586.4L369.5 574.5L376.7 587.6ZM383.9 600.7L376.7 587.6L405.3 574.8L412.5 588.0ZM412.5 588.0L405.3 574.8L431.6 558.7L438.8 571.7ZM446.1 584.9L438.8 571.7L463.0 552.5L470.2 565.5ZM470.2 565.5L463.0 552.5L486.7 533.2L493.5 545.5ZM500.7 558.4L493.5 545.5L517.7 527.9L524.6 540.2ZM524.6 540.2L517.7 527.9L543.0 512.9L549.7 524.8ZM569.0 499.8L562.7 488.6L588.5 476.0L595.2 487.8ZM595.2 487.8L588.5 476.0L582.2 464.7L607.4 451.7L614.4 464.1L621.4 476.6ZM621.4 476.6L614.4 464.1L607.4 451.7L633.1 440.4L640.4 453.3L647.6 466.2ZM647.6 466.2L640.4 453.3L666.5 443.3L673.9 456.3ZM666.5 443.3L659.1 430.2L651.9 417.4L677.7 407.5L685.0 420.4L692.4 433.5ZM692.4 433.5L685.0 420.4L677.7 407.5L702.8 397.1L710.1 410.0L717.5 423.0ZM717.5 423.0L710.1 410.0L734.1 398.2L741.4 411.1ZM748.8 424.2L741.4 411.1L734.1 398.2L757.1 385.2L764.1 397.5L771.3 410.3ZM771.3 410.3L764.1 397.5L786.3 384.0L792.9 395.5ZM786.3 384.0L780.1 373.0L804.9 364.5L809.8 373.2ZM839.2 373.3L834.4 364.9L860.1 359.3L865.2 368.1ZM865.2 368.1L860.1 359.3L887.4 357.0L891.9 364.8ZM896.9 373.5L891.9 364.8L917.5 360.0L921.9 367.7ZM921.9 367.7L917.5 360.0L940.9 352.1L945.0 359.1ZM970.8 356.0L966.6 348.6L987.5 337.4L991.6 344.6ZM987.5 337.4L983.6 330.7L1004.2 319.5L1008.2 326.4ZM1012.5 333.8L1008.2 326.4L1029.2 316.5L1033.6 324.1ZM1033.6 324.1L1029.2 316.5L1050.5 307.7L1055.0 315.5ZM1059.8 323.8L1055.0 315.5L1076.6 307.6L1081.3 315.7ZM1081.3 315.7L1076.6 307.6L1098.1 300.2L1102.6 308.0ZM1102.6 308.0L1098.1 300.2L1119.5 293.2L1124.0 300.7ZM1124.0 300.7L1119.5 293.2L1141.0 286.6L1145.3 294.0ZM1145.3 294.0L1141.0 286.6L1162.4 280.6L1166.6 287.8ZM1191.9 288.8L1187.6 281.6L1208.1 274.9L1212.1 281.7ZM1212.1 281.7L1208.1 274.9L1228.1 267.9L1232.0 274.5ZM1236.1 281.5L1232.0 274.5L1251.8 267.7L1255.7 274.3ZM1255.7 274.3L1251.8 267.7L1271.9 261.8L1275.5 268.0ZM1275.5 268.0L1271.9 261.8L1291.8 256.1L1295.5 262.4ZM1299.4 268.9L1295.5 262.4L1315.5 257.2L1319.2 263.5ZM1319.2 263.5L1315.5 257.2L1335.5 252.6L1339.2 258.8ZM1343.1 265.5L1339.2 258.8L1359.8 255.6L1363.7 262.2ZM1363.7 262.2L1359.8 255.6L1381.2 254.2L1384.8 260.3ZM1384.8 260.3L1381.2 254.2L1402.4 252.9L1405.9 258.7ZM1409.6 265.1L1405.9 258.7L1426.7 257.2L1430.5 263.7ZM1430.5 263.7L1426.7 257.2L1447.9 256.6L1451.9 263.5ZM1451.9 263.5L1447.9 256.6L1468.5 255.5L1473.1 263.4ZM1479.4 273.9L1473.1 263.4L1493.5 262.3L1499.7 272.8Z"/>
<path fill="#cfff30" stroke="#cfff30" d="M340.0 586.4L332.7 573.2L325.5 560.1L355.0 548.2L362.2 561.3L369.5 574.5ZM376.7 587.6L369.5 574.5L362.2 561.3L390.8 548.6L398.0 561.7L405.3 574.8ZM405.3 574.8L398.0 561.7L390.8 548.6L417.4 533.2L424.5 545.9L431.6 558.7ZM438.8 571.7L431.6 558.7L424.5 545.9L449.4 528.1L456.0 539.9L463.0 552.5ZM463.0 552.5L456.0 539.9L480.3 521.7L486.7 533.2ZM493.5 545.5L486.7 533.2L511.3 516.4L517.7 527.9ZM517.7 527.9L511.3 516.4L536.9 501.9L543.0 512.9ZM543.0 512.9L536.9 501.9L531.3 491.9L556.9 478.2L562.7 488.6L569.0 499.8ZM562.7 488.6L556.9 478.2L582.2 464.7L588.5 476.0ZM582.2 464.7L577.0 455.5L601.5 441.2L607.4 451.7ZM607.4 451.7L601.5 441.2L626.4 428.4L633.1 440.4ZM640.4 453.3L633.1 440.4L626.4 428.4L651.9 417.4L659.1 430.2L666.5 443.3ZM677.7 407.5L671.7 396.8L696.4 385.7L702.8 397.1ZM710.1 410.0L702.8 397.1L696.4 385.7L720.6 374.3L727.0 385.7L734.1 398.2ZM734.1 398.2L727.0 385.7L720.6 374.3L744.1 362.4L750.4 373.5L757.1 385.2ZM764.1 397.5L757.1 385.2L750.4 373.5L774.0 362.3L780.1 373.0L786.3 384.0ZM780.1 373.0L774.0 362.3L799.7 355.5L804.9 364.5ZM809.8 373.2L804.9 364.5L799.7 355.5L826.9 351.7L830.7 358.4L834.4 364.9ZM834.4 364.9L830.7 358.4L856.2 352.4L860.1 359.3ZM860.1 359.3L856.2 352.4L882.4 348.1L887.4 357.0ZM891.9 364.8L887.4 357.0L913.6 353.2L917.5 360.0ZM917.5 360.0L913.6 353.2L937.4 345.9L940.9 352.1ZM945.0 359.1L940.9 352.1L962.8 341.9L966.6 348.6ZM966.6 348.6L962.8 341.9L959.3 335.9L980.1 324.6L983.6 330.7L987.5 337.4ZM983.6 330.7L980.1 324.6L1000.6 313.2L1004.2 319.5ZM1008.2 326.4L1004.2 319.5L1000.6 313.2L1021.2 302.7L1025.0 309.3L1029.2 316.5ZM1029.2 316.5L1025.0 309.3L1046.3 300.5L1050.5 307.7ZM1055.0 315.5L1050.5 307.7L1046.3 300.5L1068.0 292.7L1072.2 300.0L1076.6 307.6ZM1076.6 307.6L1072.2 300.0L1093.8 292.8L1098.1 300.2ZM1098.1 300.2L1093.8 292.8L1115.4 286.0L1119.5 293.2ZM1119.5 293.2L1115.4 286.0L1136.9 279.7L1141.0 286.6ZM1141.0 286.6L1136.9 279.7L1158.4 273.8L1162.4 280.6ZM1166.6 287.8L1162.4 280.6L1183.6 274.7L1187.6 281.6ZM1187.6 281.6L1183.6 274.7L1204.3 268.4L1208.1 274.9ZM1208.1 274.9L1204.3 268.4L1224.4 261.6L1228.1 267.9ZM1232.0 274.5L1228.1 267.9L1248.2 261.5L1251.8 267.7ZM1251.8 267.7L1248.2 261.5L1268.4 255.8L1271.9 261.8ZM1271.9 261.8L1268.4 255.8L1288.6 250.6L1291.8 256.1ZM1295.5 262.4L1291.8 256.1L1311.7 250.7L1315.5 257.2ZM1315.5 257.2L1311.7 250.7L1331.7 246.1L1335.5 252.6ZM1339.2 258.8L1335.5 252.6L1356.0 249.2L1359.8 255.6ZM1359.8 255.6L1356.0 249.2L1377.6 248.0L1381.2 254.2ZM1381.2 254.2L1377.6 248.0L1399.2 247.4L1402.4 252.9ZM1405.9 258.7L1402.4 252.9L1423.3 251.4L1426.7 257.2ZM1426.7 257.2L1423.3 251.4L1444.2 250.5L1447.9 256.6ZM1447.9 256.6L1444.2 250.5L1464.9 249.5L1468.5 255.5ZM1473.1 263.4L1468.5 255.5L1488.1 253.3L1493.5 262.3Z"/>
<path fill="#dfff20" stroke="#dfff20" d="M325.5 560.1L318.4 547.3L348.0 535.6L355.0 548.2ZM362.2 561.3L355.0 548.2L383.5 535.5L390.8 548.6ZM390.8 548.6L383.5 535.5L410.5 520.6L417.4 533.2ZM424.5 545.9L417.4 533.2L410.5 520.6L436.5 504.9L443.0 516.5L449.4 528.1ZM456.0 539.9L449.4 528.1L474.7 511.7L480.3 521.7ZM486.7 533.2L480.3 521.7L474.7 511.7L500.8 497.4L505.6 506.0L511.3 516.4ZM511.3 516.4L505.6 506.0L531.3 491.9L536.9 501.9ZM531.3 491.9L526.8 483.9L552.3 469.9L556.9 478.2ZM556.9 478.2L552.3 469.9L577.0 455.5L582.2 464.7ZM577.0 455.5L572.8 448.0L597.2 433.6L601.5 441.2ZM601.5 441.2L597.2 433.6L621.8 420.3L626.4 428.4ZM626.4 428.4L621.8 420.3L646.7 408.1L651.9 417.4ZM651.9 417.4L646.7 408.1L671.7 396.8L677.7 407.5ZM696.4 385.7L692.0 378.0L715.6 365.5L720.6 374.3ZM720.6 374.3L715.6 365.5L738.9 353.2L744.1 362.4ZM750.4 373.5L744.1 362.4L767.9 351.7L774.0 362.3ZM774.0 362.3L767.9 351.7L794.3 346.0L799.7 355.5ZM799.7 355.5L794.3 346.0L789.0 336.7L818.6 337.3L822.8 344.6L826.9 351.7ZM830.7 358.4L826.9 351.7L853.4 347.4L856.2 352.4ZM856.2 352.4L853.4 347.4L878.4 341.2L882.4 348.1ZM887.4 357.0L882.4 348.1L878.4 341.2L904.6 337.5L909.8 346.5L913.6 353.2ZM913.6 353.2L909.8 346.5L934.3 340.7L937.4 345.9ZM940.9 352.1L937.4 345.9L959.3 335.9L962.8 341.9ZM980.1 324.6L977.4 319.9L997.7 308.3L1000.6 313.2ZM1000.6 313.2L997.7 308.3L1017.9 297.0L1021.2 302.7ZM1025.0 309.3L1021.2 302.7L1042.4 293.7L1046.3 300.5ZM1046.3 300.5L1042.4 293.7L1063.9 285.8L1068.0 292.7ZM1072.2 300.0L1068.0 292.7L1089.7 285.8L1093.8 292.8ZM1093.8 292.8L1089.7 285.8L1111.4 279.1L1115.4 286.0ZM1115.4 286.0L1111.4 279.1L1133.0 273.0L1136.9 279.7ZM1162.4 280.6L1158.4 273.8L1179.7 268.1L1183.6 274.7ZM1183.6 274.7L1179.7 268.1L1200.5 262.0L1204.3 268.4ZM1228.1 267.9L1224.4 261.6L1244.5 255.2L1248.2 261.5ZM1248.2 261.5L1244.5 255.2L1264.8 249.7L1268.4 255.8ZM1268.4 255.8L1264.8 249.7L1285.1 244.7L1288.6 250.6ZM1291.8 256.1L1288.6 250.6L1308.2 244.8L1311.7 250.7ZM1311.7 250.7L1308.2 244.8L1327.6 239.1L1331.7 246.1ZM1335.5 252.6L1331.7 246.1L1352.3 243.0L1356.0 249.2ZM1356.0 249.2L1352.3 243.0L1373.9 241.9L1377.6 248.0ZM1377.6 248.0L1373.9 241.9L1395.9 241.9L1399.2 247.4ZM1402.4 252.9L1399.2 247.4L1395.9 241.9L1417.1 241.0L1420.1 246.0L1423.3 251.4ZM1423.3 251.4L1420.1 246.0L1440.8 244.8L1444.2 250.5ZM1444.2 250.5L1440.8 244.8L1461.4 243.7L1464.9 249.5ZM1468.5 255.5L1464.9 249.5L1484.2 246.6L1488.1 253.3Z"/>
<path fill="#efff10" stroke="#efff10" d="M355.0 548.2L348.0 535.6L376.6 522.9L383.5 535.5ZM410.5 520.6L403.9 508.7L430.4 493.9L436.5 504.9ZM449.4 528.1L443.0 516.5L469.0 501.5L474.7 511.7ZM474.7 511.7L469.0 501.5L495.8 488.5L500.8 497.4ZM505.6 506.0L500.8 497.4L526.8 483.9L531.3 491.9ZM526.8 483.9L522.5 476.0L548.1 462.5L552.3 469.9ZM552.3 469.9L548.1 462.5L572.8 448.0L577.0 455.5ZM597.2 433.6L592.7 425.6L617.8 413.1L621.8 420.3ZM621.8 420.3L617.8 413.1L643.0 401.6L646.7 408.1ZM646.7 408.1L643.0 401.6L667.8 390.0L671.7 396.8ZM671.7 396.8L667.8 390.0L692.0 378.0L696.4 385.7ZM715.6 365.5L711.3 358.0L734.5 345.4L738.9 353.2ZM744.1 362.4L738.9 353.2L762.7 342.4L767.9 351.7ZM767.9 351.7L762.7 342.4L789.0 336.7L794.3 346.0ZM826.9 351.7L822.8 344.6L850.5 342.5L853.4 347.4ZM853.4 347.4L850.5 342.5L875.7 336.6L878.4 341.2ZM937.4 345.9L934.3 340.7L956.6 331.2L959.3 335.9ZM959.3 335.9L956.6 331.2L977.4 319.9L980.1 324.6ZM1021.2 302.7L1017.9 297.0L1038.5 287.0L1042.4 293.7ZM1042.4 293.7L1038.5 287.0L1059.7 278.4L1063.9 285.8ZM1068.0 292.7L1063.9 285.8L1085.6 278.6L1089.7 285.8ZM1089.7 285.8L1085.6 278.6L1107.2 272.0L1111.4 279.1ZM1111.4 279.1L1107.2 272.0L1128.8 265.6L1133.0 273.0ZM1136.9 279.7L1133.0 273.0L1154.6 267.2L1158.4 273.8ZM1158.4 273.8L1154.6 267.2L1175.9 261.5L1179.7 268.1ZM1179.7 268.1L1175.9 261.5L1196.6 255.2L1200.5 262.0ZM1204.3 268.4L1200.5 262.0L1220.7 255.3L1224.4 261.6ZM1224.4 261.6L1220.7 255.3L1240.7 248.7L1244.5 255.2ZM1244.5 255.2L1240.7 248.7L1260.7 242.8L1264.8 249.7ZM1288.6 250.6L1285.1 244.7L1304.9 239.3L1308.2 244.8ZM1308.2 244.8L1304.9 239.3L1324.1 233.1L1327.6 239.1ZM1331.7 246.1L1327.6 239.1L1348.2 236.0L1352.3 243.0ZM1352.3 243.0L1348.2 236.0L1370.3 235.8L1373.9 241.9ZM1373.9 241.9L1370.3 235.8L1392.5 236.2L1395.9 241.9ZM1395.9 241.9L1392.5 236.2L1414.3 236.2L1417.1 241.0ZM1420.1 246.0L1417.1 241.0L1437.7 239.5L1440.8 244.8ZM1440.8 244.8L1437.7 239.5L1457.9 237.8L1461.4 243.7ZM1464.9 249.5L1461.4 243.7L1481.1 241.4L1484.2 246.6Z"/>
<path fill="#ffff00" stroke="#ffff00" d="M318.4 547.3L312.0 535.5L306.8 526.0L336.7 515.1L342.0 524.7L348.0 535.6ZM348.0 535.6L342.0 524.7L371.2 513.2L376.6 522.9ZM383.5 535.5L376.6 522.9L403.9 508.7L410.5 520.6ZM443.0 516.5L436.5 504.9L463.1 490.7L469.0 501.5ZM500.8 497.4L495.8 488.5L522.5 476.0L526.8 483.9ZM548.1 462.5L542.5 452.4L567.7 438.9L572.8 448.0ZM572.8 448.0L567.7 438.9L592.7 425.6L597.2 433.6ZM592.7 425.6L586.4 414.3L612.1 403.0L617.8 413.1ZM617.8 413.1L612.1 403.0L638.3 393.1L643.0 401.6ZM643.0 401.6L638.3 393.1L663.7 382.6L667.8 390.0ZM667.8 390.0L663.7 382.6L688.0 370.9L692.0 378.0ZM692.0 378.0L688.0 370.9L711.3 358.0L715.6 365.5ZM738.9 353.2L734.5 345.4L758.2 334.6L762.7 342.4ZM762.7 342.4L758.2 334.6L784.7 329.1L789.0 336.7ZM878.4 341.2L875.7 336.6L900.1 329.8L904.6 337.5ZM909.8 346.5L904.6 337.5L930.6 334.1L934.3 340.7ZM934.3 340.7L930.6 334.1L953.7 326.2L956.6 331.2ZM956.6 331.2L953.7 326.2L974.7 315.3L977.4 319.9ZM977.4 319.9L974.7 315.3L994.8 303.2L997.7 308.3ZM997.7 308.3L994.8 303.2L1014.3 290.7L1017.9 297.0ZM1017.9 297.0L1014.3 290.7L1033.9 278.9L1038.5 287.0ZM1063.9 285.8L1059.7 278.4L1081.0 270.6L1085.6 278.6ZM1085.6 278.6L1081.0 270.6L1102.2 263.4L1107.2 272.0ZM1133.0 273.0L1128.8 265.6L1123.5 256.6L1144.7 250.2L1150.2 259.6L1154.6 267.2ZM1154.6 267.2L1150.2 259.6L1171.5 254.0L1175.9 261.5ZM1175.9 261.5L1171.5 254.0L1192.0 247.4L1196.6 255.2ZM1200.5 262.0L1196.6 255.2L1216.6 248.2L1220.7 255.3ZM1220.7 255.3L1216.6 248.2L1236.1 241.0L1240.7 248.7ZM1240.7 248.7L1236.1 241.0L1255.7 234.2L1260.7 242.8ZM1264.8 249.7L1260.7 242.8L1281.0 237.6L1285.1 244.7ZM1285.1 244.7L1281.0 237.6L1300.8 232.2L1304.9 239.3ZM1304.9 239.3L1300.8 232.2L1320.1 226.4L1324.1 233.1ZM1327.6 239.1L1324.1 233.1L1343.6 228.1L1348.2 236.0ZM1348.2 236.0L1343.6 228.1L1339.4 221.1L1361.9 221.4L1366.5 229.3L1370.3 235.8ZM1370.3 235.8L1366.5 229.3L1389.4 230.8L1392.5 236.2ZM1392.5 236.2L1389.4 230.8L1411.3 231.2L1414.3 236.2ZM1417.1 241.0L1414.3 236.2L1434.9 234.7L1437.7 239.5ZM1437.7 239.5L1434.9 234.7L1454.9 232.6L1457.9 237.8ZM1461.4 243.7L1457.9 237.8L1477.9 236.1L1481.1 241.4Z"/>
<path fill="#ffef00" stroke="#ffef00" d="M342.0 524.7L336.7 515.1L366.5 504.6L371.2 513.2ZM376.6 522.9L371.2 513.2L398.9 499.7L403.9 508.7ZM403.9 508.7L398.9 499.7L425.7 485.4L430.4 493.9ZM436.5 504.9L430.4 493.9L457.3 480.3L463.1 490.7ZM469.0 501.5L463.1 490.7L489.8 477.8L495.8 488.5ZM495.8 488.5L489.8 477.8L516.5 465.4L522.5 476.0ZM522.5 476.0L516.5 465.4L542.5 452.4L548.1 462.5ZM542.5 452.4L535.6 440.2L560.9 426.6L567.7 438.9ZM567.7 438.9L560.9 426.6L586.4 414.3L592.7 425.6ZM586.4 414.3L579.0 401.2L604.8 390.1L612.1 403.0ZM612.1 403.0L604.8 390.1L597.5 377.0L623.8 367.5L631.1 380.5L638.3 393.1ZM638.3 393.1L631.1 380.5L657.0 370.9L663.7 382.6ZM663.7 382.6L657.0 370.9L681.8 360.0L688.0 370.9ZM688.0 370.9L681.8 360.0L705.5 347.7L711.3 358.0ZM711.3 358.0L705.5 347.7L729.0 335.8L734.5 345.4ZM734.5 345.4L729.0 335.8L753.1 325.6L758.2 334.6ZM758.2 334.6L753.1 325.6L780.4 321.5L784.7 329.1ZM904.6 337.5L900.1 329.8L924.5 323.5L930.6 334.1ZM930.6 334.1L924.5 323.5L948.2 316.7L953.7 326.2ZM953.7 326.2L948.2 316.7L969.3 305.9L974.7 315.3ZM974.7 315.3L969.3 305.9L989.0 293.2L994.8 303.2ZM994.8 303.2L989.0 293.2L1008.0 279.9L1014.3 290.7ZM1014.3 290.7L1008.0 279.9L1027.3 267.5L1033.9 278.9ZM1038.5 287.0L1033.9 278.9L1054.0 268.7L1059.7 278.4ZM1059.7 278.4L1054.0 268.7L1074.9 260.2L1081.0 270.6ZM1081.0 270.6L1074.9 260.2L1096.1 252.8L1102.2 263.4ZM1107.2 272.0L1102.2 263.4L1123.5 256.6L1128.8 265.6ZM1150.2 259.6L1144.7 250.2L1165.8 244.3L1171.5 254.0ZM1196.6 255.2L1192.0 247.4L1211.7 239.9L1216.6 248.2ZM1260.7 242.8L1255.7 234.2L1275.7 228.6L1281.0 237.6ZM1281.0 237.6L1275.7 228.6L1295.6 223.3L1300.8 232.2ZM1324.1 233.1L1320.1 226.4L1339.4 221.1L1343.6 228.1ZM1366.5 229.3L1361.9 221.4L1386.1 225.3L1389.4 230.8ZM1414.3 236.2L1411.3 231.2L1432.3 230.3L1434.9 234.7ZM1434.9 234.7L1432.3 230.3L1452.1 228.0L1454.9 232.6ZM1457.9 237.8L1454.9 232.6L1474.3 230.0L1477.9 236.1Z"/>
<path fill="#ffdf00" stroke="#ffdf00" d="M631.1 380.5L623.8 367.5L649.9 358.3L657.0 370.9ZM1033.9 278.9L1027.3 267.5L1047.4 257.2L1054.0 268.7ZM1054.0 268.7L1047.4 257.2L1068.3 248.8L1074.9 260.2ZM1102.2 263.4L1096.1 252.8L1117.3 246.0L1123.5 256.6ZM1123.5 256.6L1117.3 246.0L1138.7 239.9L1144.7 250.2ZM1144.7 250.2L1138.7 239.9L1159.9 234.1L1165.8 244.3ZM1171.5 254.0L1165.8 244.3L1186.3 237.6L1192.0 247.4ZM1192.0 247.4L1186.3 237.6L1206.1 230.3L1211.7 239.9ZM1216.6 248.2L1211.7 239.9L1230.9 232.1L1236.1 241.0ZM1236.1 241.0L1230.9 232.1L1250.3 224.9L1255.7 234.2ZM1255.7 234.2L1250.3 224.9L1270.0 219.0L1275.7 228.6ZM1300.8 232.2L1295.6 223.3L1315.2 218.1L1320.1 226.4ZM1320.1 226.4L1315.2 218.1L1334.8 213.3L1339.4 221.1ZM1339.4 221.1L1334.8 213.3L1356.8 212.9L1361.9 221.4ZM1361.9 221.4L1356.8 212.9L1382.8 219.6L1386.1 225.3ZM1389.4 230.8L1386.1 225.3L1408.4 226.3L1411.3 231.2Z"/>
<path fill="#ffcf00" stroke="#ffcf00" d="M1008.0 279.9L1001.9 269.2L1021.6 257.8L1027.3 267.5ZM1027.3 267.5L1021.6 257.8L1042.0 247.9L1047.4 257.2ZM1074.9 260.2L1068.3 248.8L1089.9 242.1L1096.1 252.8ZM1096.1 252.8L1089.9 242.1L1111.6 236.2L1117.3 246.0ZM1117.3 246.0L1111.6 236.2L1133.4 230.9L1138.7 239.9ZM1165.8 244.3L1159.9 234.1L1180.6 227.9L1186.3 237.6ZM1211.7 239.9L1206.1 230.3L1225.6 223.0L1230.9 232.1ZM1230.9 232.1L1225.6 223.0L1245.3 216.5L1250.3 224.9ZM1275.7 228.6L1270.0 219.0L1290.0 213.9L1295.6 223.3ZM1295.6 223.3L1290.0 213.9L1310.2 209.5L1315.2 218.1ZM1315.2 218.1L1310.2 209.5L1330.3 205.6L1334.8 213.3ZM1356.8 212.9L1352.0 204.8L1378.7 212.7L1382.8 219.6ZM1411.3 231.2L1408.4 226.3L1429.7 225.9L1432.3 230.3ZM1432.3 230.3L1429.7 225.9L1449.6 223.8L1452.1 228.0ZM1454.9 232.6L1452.1 228.0L1471.2 224.8L1474.3 230.0Z"/>
<path fill="#ffbf00" stroke="#ffbf00" d="M1001.9 269.2L996.2 259.4L1016.7 249.3L1021.6 257.8ZM1021.6 257.8L1016.7 249.3L1037.6 240.3L1042.0 247.9ZM1047.4 257.2L1042.0 247.9L1063.0 239.8L1068.3 248.8ZM1138.7 239.9L1133.4 230.9L1155.0 225.7L1159.9 234.1ZM1159.9 234.1L1155.0 225.7L1176.0 220.1L1180.6 227.9ZM1186.3 237.6L1180.6 227.9L1200.9 221.4L1206.1 230.3ZM1250.3 224.9L1245.3 216.5L1265.3 210.9L1270.0 219.0ZM1334.8 213.3L1330.3 205.6L1352.0 204.8L1356.8 212.9ZM1386.1 225.3L1382.8 219.6L1405.7 221.7L1408.4 226.3ZM1408.4 226.3L1405.7 221.7L1427.0 221.5L1429.7 225.9ZM1429.7 225.9L1427.0 221.5L1447.2 219.8L1449.6 223.8Z"/>
<path fill="#ffaf00" stroke="#ffaf00" d="M1042.0 247.9L1037.6 240.3L1059.0 232.9L1063.0 239.8ZM1068.3 248.8L1063.0 239.8L1084.8 233.4L1089.9 242.1ZM1089.9 242.1L1084.8 233.4L1107.0 228.3L1111.6 236.2ZM1111.6 236.2L1107.0 228.3L1129.2 223.7L1133.4 230.9ZM1133.4 230.9L1129.2 223.7L1151.1 219.0L1155.0 225.7ZM1180.6 227.9L1176.0 220.1L1196.7 214.2L1200.9 221.4ZM1206.1 230.3L1200.9 221.4L1221.0 215.1L1225.6 223.0ZM1225.6 223.0L1221.0 215.1L1241.1 209.4L1245.3 216.5ZM1245.3 216.5L1241.1 209.4L1261.5 204.5L1265.3 210.9ZM1270.0 219.0L1265.3 210.9L1285.5 206.2L1290.0 213.9ZM1290.0 213.9L1285.5 206.2L1305.9 202.3L1310.2 209.5ZM1310.2 209.5L1305.9 202.3L1326.4 198.9L1330.3 205.6ZM1352.0 204.8L1347.8 197.7L1373.4 203.8L1378.7 212.7ZM1382.8 219.6L1378.7 212.7L1403.0 217.1L1405.7 221.7ZM1452.1 228.0L1449.6 223.8L1468.5 220.2L1471.2 224.8Z"/>
<path fill="#ff9f00" stroke="#ff9f00" d="M996.2 259.4L991.1 250.6L1012.6 242.2L1016.7 249.3ZM1016.7 249.3L1012.6 242.2L1034.0 234.2L1037.6 240.3ZM1037.6 240.3L1034.0 234.2L1055.8 227.4L1059.0 232.9ZM1063.0 239.8L1059.0 232.9L1081.0 226.9L1084.8 233.4ZM1084.8 233.4L1081.0 226.9L1103.4 222.1L1107.0 228.3ZM1107.0 228.3L1103.4 222.1L1125.9 217.9L1129.2 223.7ZM1155.0 225.7L1151.1 219.0L1172.5 213.9L1176.0 220.1ZM1176.0 220.1L1172.5 213.9L1193.4 208.6L1196.7 214.2ZM1200.9 221.4L1196.7 214.2L1217.2 208.7L1221.0 215.1ZM1221.0 215.1L1217.2 208.7L1237.8 203.6L1241.1 209.4ZM1265.3 210.9L1261.5 204.5L1281.9 200.1L1285.5 206.2ZM1285.5 206.2L1281.9 200.1L1302.4 196.4L1305.9 202.3ZM1330.3 205.6L1326.4 198.9L1347.8 197.7L1352.0 204.8ZM1347.8 197.7L1344.6 192.2L1368.5 195.5L1373.4 203.8ZM1405.7 221.7L1403.0 217.1L1424.5 217.2L1427.0 221.5ZM1427.0 221.5L1424.5 217.2L1444.8 215.7L1447.2 219.8Z"/>
<path fill="#ff8f00" stroke="#ff8f00" d="M1059.0 232.9L1055.8 227.4L1078.0 221.7L1081.0 226.9ZM1081.0 226.9L1078.0 221.7L1100.5 217.0L1103.4 222.1ZM1129.2 223.7L1125.9 217.9L1148.0 213.7L1151.1 219.0ZM1151.1 219.0L1148.0 213.7L1169.5 208.9L1172.5 213.9ZM1196.7 214.2L1193.4 208.6L1214.2 203.5L1217.2 208.7ZM1241.1 209.4L1237.8 203.6L1258.4 199.1L1261.5 204.5ZM1261.5 204.5L1258.4 199.1L1278.9 195.1L1281.9 200.1ZM1305.9 202.3L1302.4 196.4L1323.1 193.4L1326.4 198.9ZM1326.4 198.9L1323.1 193.4L1344.6 192.2L1347.8 197.7ZM1378.7 212.7L1373.4 203.8L1400.2 212.4L1403.0 217.1ZM1449.6 223.8L1447.2 219.8L1466.1 216.2L1468.5 220.2Z"/>
<path fill="#ff8000" stroke="#ff8000" d="M991.1 250.6L987.0 243.5L1009.4 236.7L1012.6 242.2ZM1012.6 242.2L1009.4 236.7L1031.2 229.3L1034.0 234.2ZM1034.0 234.2L1031.2 229.3L1053.1 222.7L1055.8 227.4ZM1055.8 227.4L1053.1 222.7L1075.4 217.2L1078.0 221.7ZM1103.4 222.1L1100.5 217.0L1123.0 213.1L1125.9 217.9ZM1125.9 217.9L1123.0 213.1L1145.3 209.0L1148.0 213.7ZM1172.5 213.9L1169.5 208.9L1190.6 203.9L1193.4 208.6ZM1217.2 208.7L1214.2 203.5L1234.9 198.8L1237.8 203.6ZM1237.8 203.6L1234.9 198.8L1255.7 194.6L1258.4 199.1ZM1281.9 200.1L1278.9 195.1L1299.6 191.6L1302.4 196.4ZM1302.4 196.4L1299.6 191.6L1320.3 188.7L1323.1 193.4ZM1323.1 193.4L1320.3 188.7L1341.8 187.4L1344.6 192.2ZM1344.6 192.2L1341.8 187.4L1364.6 189.0L1368.5 195.5ZM1373.4 203.8L1368.5 195.5L1364.6 189.0L1392.7 199.8L1397.2 207.4L1400.2 212.4ZM1403.0 217.1L1400.2 212.4L1422.0 213.1L1424.5 217.2ZM1424.5 217.2L1422.0 213.1L1442.4 211.6L1444.8 215.7ZM1447.2 219.8L1444.8 215.7L1463.8 212.4L1466.1 216.2Z"/>
<path fill="#ff7000" stroke="#ff7000" d="M1078.0 221.7L1075.4 217.2L1097.9 212.7L1100.5 217.0ZM1100.5 217.0L1097.9 212.7L1120.5 208.8L1123.0 213.1ZM1148.0 213.7L1145.3 209.0L1167.0 204.6L1169.5 208.9ZM1169.5 208.9L1167.0 204.6L1188.2 199.7L1190.6 203.9ZM1193.4 208.6L1190.6 203.9L1211.6 199.0L1214.2 203.5ZM1214.2 203.5L1211.6 199.0L1232.4 194.6L1234.9 198.8ZM1258.4 199.1L1255.7 194.6L1276.4 190.7L1278.9 195.1ZM1278.9 195.1L1276.4 190.7L1297.1 187.3L1299.6 191.6ZM1364.6 189.0L1361.9 184.3L1387.5 191.0L1392.7 199.8Z"/>
<path fill="#ff6000" stroke="#ff6000" d="M1009.4 236.7L1006.6 231.9L1028.7 225.1L1031.2 229.3ZM1031.2 229.3L1028.7 225.1L1050.8 218.6L1053.1 222.7ZM1053.1 222.7L1050.8 218.6L1073.0 213.1L1075.4 217.2ZM1123.0 213.1L1120.5 208.8L1142.9 204.9L1145.3 209.0ZM1234.9 198.8L1232.4 194.6L1253.3 190.5L1255.7 194.6ZM1299.6 191.6L1297.1 187.3L1317.9 184.5L1320.3 188.7ZM1320.3 188.7L1317.9 184.5L1339.3 183.2L1341.8 187.4ZM1341.8 187.4L1339.3 183.2L1361.9 184.3L1364.6 189.0ZM1361.9 184.3L1359.4 180.1L1382.9 183.2L1387.5 191.0ZM1400.2 212.4L1397.2 207.4L1419.6 209.0L1422.0 213.1ZM1422.0 213.1L1419.6 209.0L1440.0 207.5L1442.4 211.6ZM1444.8 215.7L1442.4 211.6L1461.6 208.5L1463.8 212.4Z"/>
<path fill="#ff5000" stroke="#ff5000" d="M987.0 243.5L983.2 236.8L1006.6 231.9L1009.4 236.7ZM1075.4 217.2L1073.0 213.1L1095.6 208.7L1097.9 212.7ZM1097.9 212.7L1095.6 208.7L1118.2 204.8L1120.5 208.8ZM1145.3 209.0L1142.9 204.9L1164.6 200.5L1167.0 204.6ZM1190.6 203.9L1188.2 199.7L1209.2 195.0L1211.6 199.0ZM1211.6 199.0L1209.2 195.0L1230.1 190.6L1232.4 194.6ZM1255.7 194.6L1253.3 190.5L1274.0 186.7L1276.4 190.7ZM1276.4 190.7L1274.0 186.7L1294.7 183.3L1297.1 187.3ZM1442.4 211.6L1440.0 207.5L1459.2 204.5L1461.6 208.5Z"/>
<path fill="#ff4000" stroke="#ff4000" d="M1006.6 231.9L1003.9 227.2L1026.5 221.1L1028.7 225.1ZM1028.7 225.1L1026.5 221.1L1048.6 214.9L1050.8 218.6ZM1120.5 208.8L1118.2 204.8L1140.6 200.9L1142.9 204.9ZM1167.0 204.6L1164.6 200.5L1185.9 195.8L1188.2 199.7ZM1232.4 194.6L1230.1 190.6L1251.0 186.6L1253.3 190.5ZM1297.1 187.3L1294.7 183.3L1315.5 180.5L1317.9 184.5ZM1317.9 184.5L1315.5 180.5L1337.0 179.3L1339.3 183.2ZM1339.3 183.2L1337.0 179.3L1359.4 180.1L1361.9 184.3ZM1397.2 207.4L1392.7 199.8L1417.1 204.8L1419.6 209.0ZM1419.6 209.0L1417.1 204.8L1437.6 203.5L1440.0 207.5ZM1440.0 207.5L1437.6 203.5L1456.7 200.3L1459.2 204.5Z"/>
<path fill="#ff3000" stroke="#ff3000" d="M1050.8 218.6L1048.6 214.9L1070.8 209.3L1073.0 213.1ZM1073.0 213.1L1070.8 209.3L1093.4 204.8L1095.6 208.7ZM1142.9 204.9L1140.6 200.9L1162.4 196.7L1164.6 200.5ZM1188.2 199.7L1185.9 195.8L1207.0 191.2L1209.2 195.0ZM1253.3 190.5L1251.0 186.6L1271.8 182.9L1274.0 186.7ZM1359.4 180.1L1357.0 176.1L1379.8 177.9L1382.9 183.2Z"/>
<path fill="#ff2000" stroke="#ff2000" d="M1026.5 221.1L1024.2 217.2L1046.4 211.2L1048.6 214.9ZM1095.6 208.7L1093.4 204.8L1116.0 201.0L1118.2 204.8ZM1118.2 204.8L1116.0 201.0L1138.4 197.2L1140.6 200.9ZM1164.6 200.5L1162.4 196.7L1183.7 192.1L1185.9 195.8ZM1209.2 195.0L1207.0 191.2L1227.9 186.9L1230.1 190.6ZM1274.0 186.7L1271.8 182.9L1292.5 179.5L1294.7 183.3ZM1294.7 183.3L1292.5 179.5L1313.3 176.8L1315.5 180.5ZM1392.7 199.8L1387.5 191.0L1382.9 183.2L1410.4 193.4L1414.4 200.1L1417.1 204.8ZM1417.1 204.8L1414.4 200.1L1435.2 199.5L1437.6 203.5ZM1437.6 203.5L1435.2 199.5L1454.2 196.1L1456.7 200.3Z"/>
<path fill="#ff1000" stroke="#ff1000" d="M983.2 236.8L979.2 230.0L1003.9 227.2L1006.6 231.9ZM1003.9 227.2L1001.1 222.4L1024.2 217.2L1026.5 221.1ZM1048.6 214.9L1046.4 211.2L1068.6 205.6L1070.8 209.3ZM1140.6 200.9L1138.4 197.2L1160.2 193.0L1162.4 196.7ZM1185.9 195.8L1183.7 192.1L1204.8 187.5L1207.0 191.2ZM1230.1 190.6L1227.9 186.9L1248.8 182.9L1251.0 186.6ZM1315.5 180.5L1313.3 176.8L1334.7 175.5L1337.0 179.3ZM1337.0 179.3L1334.7 175.5L1357.0 176.1L1359.4 180.1ZM1382.9 183.2L1379.8 177.9L1405.4 185.0L1410.4 193.4ZM1414.4 200.1L1410.4 193.4L1432.5 195.0L1435.2 199.5ZM1435.2 199.5L1432.5 195.0L1451.6 191.8L1454.2 196.1Z"/>
<path fill="#ff0000" stroke="#ff0000" d="M1070.8 209.3L1068.6 205.6L1091.2 201.1L1093.4 204.8ZM1093.4 204.8L1091.2 201.1L1113.9 197.3L1116.0 201.0ZM1116.0 201.0L1113.9 197.3L1136.2 193.5L1138.4 197.2ZM1162.4 196.7L1160.2 193.0L1181.6 188.4L1183.7 192.1ZM1207.0 191.2L1204.8 187.5L1225.8 183.2L1227.9 186.9ZM1251.0 186.6L1248.8 182.9L1269.6 179.2L1271.8 182.9ZM1271.8 182.9L1269.6 179.2L1290.3 175.9L1292.5 179.5ZM1292.5 179.5L1290.3 175.9L1311.1 173.1L1313.3 176.8ZM1357.0 176.1L1354.7 172.2L1377.1 173.5L1379.8 177.9ZM1379.8 177.9L1377.1 173.5L1400.6 176.8L1405.4 185.0ZM1410.4 193.4L1405.4 185.0L1429.0 189.0L1432.5 195.0ZM1432.5 195.0L1429.0 189.0L1448.6 186.8L1451.6 191.8Z"/>
<path fill="#ef0000" stroke="#ef0000" d="M979.2 230.0L975.3 223.2L1001.1 222.4L1003.9 227.2ZM967.4 209.7L963.5 202.9L992.8 208.0L995.6 212.8ZM1001.1 222.4L998.4 217.6L1021.9 213.2L1024.2 217.2ZM1024.2 217.2L1021.9 213.2L1044.3 207.5L1046.4 211.2ZM1046.4 211.2L1044.3 207.5L1066.5 201.9L1068.6 205.6ZM1068.6 205.6L1066.5 201.9L1089.0 197.4L1091.2 201.1ZM1091.2 201.1L1089.0 197.4L1111.7 193.7L1113.9 197.3ZM1138.4 197.2L1136.2 193.5L1158.1 189.3L1160.2 193.0ZM1183.7 192.1L1181.6 188.4L1202.7 183.8L1204.8 187.5ZM1227.9 186.9L1225.8 183.2L1246.7 179.3L1248.8 182.9ZM1248.8 182.9L1246.7 179.3L1267.5 175.6L1269.6 179.2ZM1313.3 176.8L1311.1 173.1L1332.5 171.8L1334.7 175.5ZM1334.7 175.5L1332.5 171.8L1354.7 172.2L1357.0 176.1ZM1377.1 173.5L1374.6 169.1L1396.7 170.3L1400.6 176.8ZM1405.4 185.0L1400.6 176.8L1423.6 180.0L1429.0 189.0ZM1429.0 189.0L1423.6 180.0L1443.8 178.7L1448.6 186.8Z"/>
<path fill="#df0000" stroke="#df0000" d="M975.3 223.2L971.4 216.4L967.4 209.7L995.6 212.8L998.4 217.6L1001.1 222.4ZM998.4 217.6L995.6 212.8L1019.5 209.2L1021.9 213.2ZM1021.9 213.2L1019.5 209.2L1042.2 203.8L1044.3 207.5ZM1044.3 207.5L1042.2 203.8L1064.3 198.2L1066.5 201.9ZM1113.9 197.3L1111.7 193.7L1134.1 189.9L1136.2 193.5ZM1136.2 193.5L1134.1 189.9L1155.9 185.7L1158.1 189.3ZM1160.2 193.0L1158.1 189.3L1179.4 184.7L1181.6 188.4ZM1181.6 188.4L1179.4 184.7L1200.5 180.2L1202.7 183.8ZM1204.8 187.5L1202.7 183.8L1223.6 179.6L1225.8 183.2ZM1225.8 183.2L1223.6 179.6L1244.6 175.7L1246.7 179.3ZM1269.6 179.2L1267.5 175.6L1288.2 172.2L1290.3 175.9ZM1290.3 175.9L1288.2 172.2L1309.0 169.4L1311.1 173.1ZM1311.1 173.1L1309.0 169.4L1330.4 168.1L1332.5 171.8ZM1332.5 171.8L1330.4 168.1L1352.5 168.4L1354.7 172.2ZM1354.7 172.2L1352.5 168.4L1374.6 169.1L1377.1 173.5ZM1400.6 176.8L1396.7 170.3L1417.9 170.4L1423.6 180.0ZM1423.6 180.0L1417.9 170.4L1437.3 167.8L1443.8 178.7Z"/>
<path fill="#cf0000" stroke="#cf0000" d="M995.6 212.8L992.8 208.0L1017.2 205.2L1019.5 209.2ZM1019.5 209.2L1017.2 205.2L1040.0 200.2L1042.2 203.8ZM1042.2 203.8L1040.0 200.2L1062.2 194.5L1064.3 198.2ZM1066.5 201.9L1064.3 198.2L1086.9 193.7L1089.0 197.4ZM1089.0 197.4L1086.9 193.7L1084.7 190.0L1107.4 186.3L1109.6 190.0L1111.7 193.7ZM1111.7 193.7L1109.6 190.0L1107.4 186.3L1129.8 182.5L1132.0 186.2L1134.1 189.9ZM1134.1 189.9L1132.0 186.2L1153.8 182.0L1155.9 185.7ZM1158.1 189.3L1155.9 185.7L1153.8 182.0L1175.1 177.4L1177.3 181.1L1179.4 184.7ZM1179.4 184.7L1177.3 181.1L1198.4 176.5L1200.5 180.2ZM1202.7 183.8L1200.5 180.2L1221.5 175.9L1223.6 179.6ZM1246.7 179.3L1244.6 175.7L1265.3 172.0L1267.5 175.6ZM1267.5 175.6L1265.3 172.0L1286.1 168.6L1288.2 172.2ZM1288.2 172.2L1286.1 168.6L1306.8 165.8L1309.0 169.4ZM1309.0 169.4L1306.8 165.8L1328.2 164.4L1330.4 168.1ZM1330.4 168.1L1328.2 164.4L1350.2 164.6L1352.5 168.4ZM1352.5 168.4L1350.2 164.6L1372.1 164.9L1374.6 169.1ZM1374.6 169.1L1372.1 164.9L1393.4 164.8L1396.7 170.3ZM1396.7 170.3L1393.4 164.8L1412.8 161.7L1417.9 170.4Z"/>
<path fill="#bf0000" stroke="#bf0000" d="M1064.3 198.2L1062.2 194.5L1084.7 190.0L1086.9 193.7ZM1177.3 181.1L1175.1 177.4L1196.2 172.9L1198.4 176.5ZM1200.5 180.2L1198.4 176.5L1219.4 172.3L1221.5 175.9ZM1223.6 179.6L1221.5 175.9L1219.4 172.3L1240.3 168.4L1242.4 172.0L1244.6 175.7ZM1244.6 175.7L1242.4 172.0L1263.2 168.3L1265.3 172.0ZM1265.3 172.0L1263.2 168.3L1283.9 165.0L1286.1 168.6ZM1286.1 168.6L1283.9 165.0L1304.7 162.1L1306.8 165.8ZM1306.8 165.8L1304.7 162.1L1326.0 160.7L1328.2 164.4ZM1328.2 164.4L1326.0 160.7L1348.0 160.9L1350.2 164.6ZM1350.2 164.6L1348.0 160.9L1369.5 160.6L1372.1 164.9ZM1372.1 164.9L1369.5 160.6L1390.2 159.3L1393.4 164.8ZM1393.4 164.8L1390.2 159.3L1408.1 153.8L1412.8 161.7ZM1417.9 170.4L1412.8 161.7L1408.1 153.8L1424.4 145.9L1430.9 156.9L1437.3 167.8Z"/>
<path fill="#9f0000" stroke="#9f0000" d="M1408.1 153.8L1403.3 145.8L1417.9 135.0L1424.4 145.9Z"/>
</g>
<path fill="#cf0000" d="M564.5 92.7L596.2 78.5L599.9 86.0L567.8 100.6Z"/>
<path fill="#cf0000" d="M1100.7 41.7L1114.0 37.5L1130.8 34.2L1124.1 41.7L1104.0 47.6Z"/>
<path fill="none" stroke="#b40000" stroke-width="7.0" stroke-linejoin="round" d="M324.4 359.8L345.3 348.9L360.3 345.6L377.1 338.9"/>
<path fill="none" stroke="#d00000" stroke-width="4.0" stroke-linejoin="round" d="M385.4 349.7L403.8 343.9L422.2 337.2"/>
<path fill="none" stroke="#a80000" stroke-width="4.0" stroke-linejoin="round" d="M353.7 397.4L363.7 379.0L375.4 365.6L388.8 357.3"/>
<path fill="none" stroke="#4a3030" stroke-width="1.3" stroke-linejoin="round" d="M1390.5 169.7L1402.2 177.2"/>
<circle cx="440" cy="730.3" r="14.5" fill="#000"/><text class="pt" x="471.2" y="750.1">P01</text>
<circle cx="1176" cy="653.8" r="14.5" fill="#000"/><text class="pt" x="1207.2" y="673.6">P02</text>
<circle cx="954.5" cy="523.5" r="14.5" fill="#000"/><text class="pt" x="985.7" y="543.3">P03</text>
<circle cx="566.8" cy="361.4" r="14.5" fill="#000"/><text class="pt" x="598.0" y="381.2">P04</text>
<circle cx="945.9" cy="258.6" r="14.5" fill="#000"/><text class="pt" x="977.1" y="278.4">P05</text>
<g stroke="#000" stroke-width="4.6" fill="none" stroke-linecap="butt" stroke-linejoin="round"><path d="M1397.6 883.9L1323.8 753.2M1325.1 774.4L1323.8 753.2L1340.2 762.8"/><path d="M1367.5 875.7L1504.3 793.6M1482.4 793.6L1504.3 793.6L1492 812.1"/></g>
<text class="uv" x="1309.5" y="811">v</text><text class="uv" x="1478" y="842">u</text>
<path d="M276.1 32.0V1008.1H1613.0M387.4 1008.1v-14M583.1 1008.1v-14M778.8 1008.1v-14M974.4 1008.1v-14M1170.1 1008.1v-14M1365.8 1008.1v-14M1561.5 1008.1v-14M276.1 122.5h14M276.1 318.1h14M276.1 513.7h14M276.1 709.3h14M276.1 904.9h14" stroke="#262626" stroke-width="2.8" fill="none" stroke-linecap="square"/>
<text class="tk" x="249.3" y="146.9" text-anchor="end">-23</text>
<text class="tk" x="249.3" y="342.5" text-anchor="end">-23.2</text>
<text class="tk" x="249.3" y="538.1" text-anchor="end">-23.4</text>
<text class="tk" x="249.3" y="733.7" text-anchor="end">-23.6</text>
<text class="tk" x="249.3" y="929.3" text-anchor="end">-23.8</text>
<text class="tk" x="387.4" y="1097.4" text-anchor="middle">-44.6</text>
<text class="tk" x="583.1" y="1097.4" text-anchor="middle">-44.4</text>
<text class="tk" x="778.8" y="1097.4" text-anchor="middle">-44.2</text>
<text class="tk" x="974.4" y="1097.4" text-anchor="middle">-44</text>
<text class="tk" x="1170.1" y="1097.4" text-anchor="middle">-43.8</text>
<text class="tk" x="1365.8" y="1097.4" text-anchor="middle">-43.6</text>
<text class="tk" x="1561.5" y="1097.4" text-anchor="middle">-43.4</text>
<text class="lb" x="946.7" y="1196" text-anchor="middle">Longitude (degrees)</text>
<text class="lb" transform="translate(64.8 555.3) rotate(-90)" text-anchor="middle">Latitude (degrees)</text>
<rect x="1704.2" y="993.16" width="140.8" height="15.84" fill="#00008f"/><rect x="1704.2" y="977.92" width="140.8" height="15.84" fill="#00009f"/><rect x="1704.2" y="962.67" width="140.8" height="15.84" fill="#0000af"/><rect x="1704.2" y="947.43" width="140.8" height="15.84" fill="#0000bf"/><rect x="1704.2" y="932.19" width="140.8" height="15.84" fill="#0000cf"/><rect x="1704.2" y="916.95" width="140.8" height="15.84" fill="#0000df"/><rect x="1704.2" y="901.70" width="140.8" height="15.84" fill="#0000ef"/><rect x="1704.2" y="886.46" width="140.8" height="15.84" fill="#0000ff"/><rect x="1704.2" y="871.22" width="140.8" height="15.84" fill="#0010ff"/><rect x="1704.2" y="855.98" width="140.8" height="15.84" fill="#0020ff"/><rect x="1704.2" y="840.74" width="140.8" height="15.84" fill="#0030ff"/><rect x="1704.2" y="825.49" width="140.8" height="15.84" fill="#0040ff"/><rect x="1704.2" y="810.25" width="140.8" height="15.84" fill="#0050ff"/><rect x="1704.2" y="795.01" width="140.8" height="15.84" fill="#0060ff"/><rect x="1704.2" y="779.77" width="140.8" height="15.84" fill="#0070ff"/><rect x="1704.2" y="764.52" width="140.8" height="15.84" fill="#0080ff"/><rect x="1704.2" y="749.28" width="140.8" height="15.84" fill="#008fff"/><rect x="1704.2" y="734.04" width="140.8" height="15.84" fill="#009fff"/><rect x="1704.2" y="718.80" width="140.8" height="15.84" fill="#00afff"/><rect x="1704.2" y="703.56" width="140.8" height="15.84" fill="#00bfff"/><rect x="1704.2" y="688.31" width="140.8" height="15.84" fill="#00cfff"/><rect x="1704.2" y="673.07" width="140.8" height="15.84" fill="#00dfff"/><rect x="1704.2" y="657.83" width="140.8" height="15.84" fill="#00efff"/><rect x="1704.2" y="642.59" width="140.8" height="15.84" fill="#00ffff"/><rect x="1704.2" y="627.35" width="140.8" height="15.84" fill="#10ffef"/><rect x="1704.2" y="612.10" width="140.8" height="15.84" fill="#20ffdf"/><rect x="1704.2" y="596.86" width="140.8" height="15.84" fill="#30ffcf"/><rect x="1704.2" y="581.62" width="140.8" height="15.84" fill="#40ffbf"/><rect x="1704.2" y="566.38" width="140.8" height="15.84" fill="#50ffaf"/><rect x="1704.2" y="551.13" width="140.8" height="15.84" fill="#60ff9f"/><rect x="1704.2" y="535.89" width="140.8" height="15.84" fill="#70ff8f"/><rect x="1704.2" y="520.65" width="140.8" height="15.84" fill="#80ff80"/><rect x="1704.2" y="505.41" width="140.8" height="15.84" fill="#8fff70"/><rect x="1704.2" y="490.17" width="140.8" height="15.84" fill="#9fff60"/><rect x="1704.2" y="474.92" width="140.8" height="15.84" fill="#afff50"/><rect x="1704.2" y="459.68" width="140.8" height="15.84" fill="#bfff40"/><rect x="1704.2" y="444.44" width="140.8" height="15.84" fill="#cfff30"/><rect x="1704.2" y="429.20" width="140.8" height="15.84" fill="#dfff20"/><rect x="1704.2" y="413.95" width="140.8" height="15.84" fill="#efff10"/><rect x="1704.2" y="398.71" width="140.8" height="15.84" fill="#ffff00"/><rect x="1704.2" y="383.47" width="140.8" height="15.84" fill="#ffef00"/><rect x="1704.2" y="368.23" width="140.8" height="15.84" fill="#ffdf00"/><rect x="1704.2" y="352.99" width="140.8" height="15.84" fill="#ffcf00"/><rect x="1704.2" y="337.74" width="140.8" height="15.84" fill="#ffbf00"/><rect x="1704.2" y="322.50" width="140.8" height="15.84" fill="#ffaf00"/><rect x="1704.2" y="307.26" width="140.8" height="15.84" fill="#ff9f00"/><rect x="1704.2" y="292.02" width="140.8" height="15.84" fill="#ff8f00"/><rect x="1704.2" y="276.77" width="140.8" height="15.84" fill="#ff8000"/><rect x="1704.2" y="261.53" width="140.8" height="15.84" fill="#ff7000"/><rect x="1704.2" y="246.29" width="140.8" height="15.84" fill="#ff6000"/><rect x="1704.2" y="231.05" width="140.8" height="15.84" fill="#ff5000"/><rect x="1704.2" y="215.81" width="140.8" height="15.84" fill="#ff4000"/><rect x="1704.2" y="200.56" width="140.8" height="15.84" fill="#ff3000"/><rect x="1704.2" y="185.32" width="140.8" height="15.84" fill="#ff2000"/><rect x="1704.2" y="170.08" width="140.8" height="15.84" fill="#ff1000"/><rect x="1704.2" y="154.84" width="140.8" height="15.84" fill="#ff0000"/><rect x="1704.2" y="139.60" width="140.8" height="15.84" fill="#ef0000"/><rect x="1704.2" y="124.35" width="140.8" height="15.84" fill="#df0000"/><rect x="1704.2" y="109.11" width="140.8" height="15.84" fill="#cf0000"/><rect x="1704.2" y="93.87" width="140.8" height="15.84" fill="#bf0000"/><rect x="1704.2" y="78.63" width="140.8" height="15.84" fill="#af0000"/><rect x="1704.2" y="63.38" width="140.8" height="15.84" fill="#9f0000"/><rect x="1704.2" y="48.14" width="140.8" height="15.84" fill="#8f0000"/><rect x="1704.2" y="32.90" width="140.8" height="15.84" fill="#800000"/>
<rect x="1704.2" y="32.9" width="140.8" height="975.5" fill="none" stroke="#262626" stroke-width="1.4"/>
<path d="M1845.0 228.0h-11M1845.0 423.1h-11M1845.0 618.2h-11M1845.0 813.3h-11" stroke="#262626" stroke-width="1.8" fill="none"/>
<text class="ck" x="1869" y="56.9">0</text>
<text class="ck" x="1869" y="252.0">-20</text>
<text class="ck" x="1869" y="447.1">-40</text>
<text class="ck" x="1869" y="642.2">-60</text>
<text class="ck" x="1869" y="837.3">-80</text>
<text class="ck" x="1869" y="1032.4">-100</text>
<text class="lb" transform="translate(2055.8 497.1) rotate(-90)" text-anchor="middle">Depth (m)</text>
</svg></body></html>
